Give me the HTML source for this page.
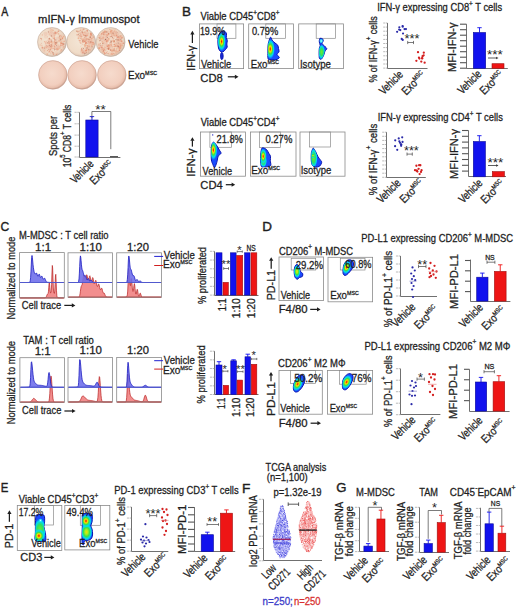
<!DOCTYPE html>
<html><head><meta charset="utf-8"><style>
html,body{margin:0;padding:0;background:#fff;width:520px;height:608px;overflow:hidden}
svg{display:block;font-family:"Liberation Sans",sans-serif}
</style></head><body><svg width="520" height="608" viewBox="0 0 520 608"><defs><radialGradient id="wt" cx="0.47" cy="0.47" r="0.53"><stop offset="0" stop-color="#f4e6d6"/><stop offset="0.8" stop-color="#f0dcc8"/><stop offset="0.92" stop-color="#e6cebb"/><stop offset="1" stop-color="#c8b2a2"/></radialGradient><radialGradient id="wb" cx="0.47" cy="0.45" r="0.54"><stop offset="0" stop-color="#f6dbcd"/><stop offset="0.75" stop-color="#f2cfbf"/><stop offset="0.91" stop-color="#e9c0ae"/><stop offset="1" stop-color="#c9a292"/></radialGradient><clipPath id="cp1"><path d="M222.00,31.10 C222.87,30.85 224.25,31.02 225.00,31.50 C225.75,31.98 226.28,33.00 226.50,34.00 C226.72,35.00 226.17,36.42 226.30,37.50 C226.43,38.58 227.22,39.42 227.30,40.50 C227.38,41.58 226.82,42.92 226.80,44.00 C226.78,45.08 227.42,46.08 227.20,47.00 C226.98,47.92 226.20,48.70 225.50,49.50 C224.80,50.30 223.83,51.47 223.00,51.80 C222.17,52.13 221.25,52.13 220.50,51.50 C219.75,50.87 218.93,49.58 218.50,48.00 C218.07,46.42 217.93,43.92 217.90,42.00 C217.87,40.08 217.98,38.00 218.30,36.50 C218.62,35.00 219.18,33.90 219.80,33.00 C220.42,32.10 221.13,31.35 222.00,31.10 Z"/></clipPath><radialGradient id="g1" gradientUnits="userSpaceOnUse" cx="0" cy="0" r="1"><stop offset="0" stop-color="#e01010" stop-opacity="1"/><stop offset="0.14" stop-color="#ff7000" stop-opacity="1"/><stop offset="0.28" stop-color="#f0e800" stop-opacity="1"/><stop offset="0.48" stop-color="#40e040" stop-opacity="1"/><stop offset="0.72" stop-color="#00dcf0" stop-opacity="1"/><stop offset="1" stop-color="#00dcf0" stop-opacity="0"/></radialGradient><clipPath id="cp2"><path d="M221.20,52.80 C221.53,52.33 222.28,52.67 222.60,53.20 C222.92,53.73 223.10,55.03 223.10,56.00 C223.10,56.97 222.92,58.47 222.60,59.00 C222.28,59.53 221.53,59.70 221.20,59.20 C220.87,58.70 220.60,57.07 220.60,56.00 C220.60,54.93 220.87,53.27 221.20,52.80 Z"/></clipPath><clipPath id="cp3"><path d="M270.60,37.20 C271.17,36.98 271.47,39.23 272.20,40.20 C272.93,41.17 274.07,42.15 275.00,43.00 C275.93,43.85 277.22,44.38 277.80,45.30 C278.38,46.22 278.30,47.42 278.50,48.50 C278.70,49.58 279.25,50.80 279.00,51.80 C278.75,52.80 276.95,53.55 277.00,54.50 C277.05,55.45 279.47,56.63 279.30,57.50 C279.13,58.37 277.55,59.33 276.00,59.70 C274.45,60.07 271.33,59.90 270.00,59.70 C268.67,59.50 268.35,59.78 268.00,58.50 C267.65,57.22 267.90,54.08 267.90,52.00 C267.90,49.92 267.85,47.75 268.00,46.00 C268.15,44.25 268.37,42.97 268.80,41.50 C269.23,40.03 270.03,37.42 270.60,37.20 Z"/></clipPath><radialGradient id="g2" gradientUnits="userSpaceOnUse" cx="0" cy="0" r="1"><stop offset="0" stop-color="#e01010" stop-opacity="1"/><stop offset="0.14" stop-color="#ff7000" stop-opacity="1"/><stop offset="0.28" stop-color="#f0e800" stop-opacity="1"/><stop offset="0.48" stop-color="#40e040" stop-opacity="1"/><stop offset="0.72" stop-color="#00dcf0" stop-opacity="1"/><stop offset="1" stop-color="#00dcf0" stop-opacity="0"/></radialGradient><clipPath id="cp4"><path d="M320.00,38.30 C320.50,38.18 321.97,38.35 322.50,38.80 C323.03,39.25 323.28,40.22 323.20,41.00 C323.12,41.78 321.78,42.67 322.00,43.50 C322.22,44.33 323.70,45.12 324.50,46.00 C325.30,46.88 326.72,47.97 326.80,48.80 C326.88,49.63 325.50,49.97 325.00,51.00 C324.50,52.03 324.38,53.67 323.80,55.00 C323.22,56.33 322.22,58.42 321.50,59.00 C320.78,59.58 319.90,59.33 319.50,58.50 C319.10,57.67 319.13,55.67 319.10,54.00 C319.07,52.33 319.12,49.92 319.30,48.50 C319.48,47.08 320.20,46.58 320.20,45.50 C320.20,44.42 319.42,43.00 319.30,42.00 C319.18,41.00 319.38,40.12 319.50,39.50 C319.62,38.88 319.50,38.42 320.00,38.30 Z"/></clipPath><radialGradient id="g3" gradientUnits="userSpaceOnUse" cx="0" cy="0" r="1"><stop offset="0" stop-color="#d0ffff" stop-opacity="1"/><stop offset="0.45" stop-color="#30e8f4" stop-opacity="1"/><stop offset="1" stop-color="#30e8f4" stop-opacity="0"/></radialGradient><radialGradient id="g4" gradientUnits="userSpaceOnUse" cx="0" cy="0" r="1"><stop offset="0" stop-color="#70ea30" stop-opacity="1"/><stop offset="0.45" stop-color="#30e060" stop-opacity="1"/><stop offset="0.75" stop-color="#00dcf0" stop-opacity="1"/><stop offset="1" stop-color="#00dcf0" stop-opacity="0"/></radialGradient><clipPath id="cp5"><path d="M213.30,142.20 C214.08,142.00 215.18,143.48 216.20,144.80 C217.22,146.12 218.60,148.68 219.40,150.10 C220.20,151.52 221.18,152.33 221.00,153.30 C220.82,154.27 218.92,154.77 218.30,155.90 C217.68,157.03 217.57,158.97 217.30,160.10 C217.03,161.23 217.15,161.47 216.70,162.70 C216.25,163.93 215.25,167.23 214.60,167.50 C213.95,167.77 213.33,165.55 212.80,164.30 C212.27,163.05 211.67,162.05 211.40,160.00 C211.13,157.95 211.18,154.33 211.20,152.00 C211.22,149.67 211.15,147.63 211.50,146.00 C211.85,144.37 212.52,142.40 213.30,142.20 Z"/></clipPath><radialGradient id="g5" gradientUnits="userSpaceOnUse" cx="0" cy="0" r="1"><stop offset="0" stop-color="#e01010" stop-opacity="1"/><stop offset="0.14" stop-color="#ff7000" stop-opacity="1"/><stop offset="0.28" stop-color="#f0e800" stop-opacity="1"/><stop offset="0.48" stop-color="#40e040" stop-opacity="1"/><stop offset="0.72" stop-color="#00dcf0" stop-opacity="1"/><stop offset="1" stop-color="#00dcf0" stop-opacity="0"/></radialGradient><clipPath id="cp6"><path d="M262.40,147.90 C263.27,147.72 265.33,148.50 266.40,149.40 C267.47,150.30 268.12,152.15 268.80,153.30 C269.48,154.45 270.25,155.07 270.50,156.30 C270.75,157.53 270.25,159.22 270.30,160.70 C270.35,162.18 271.13,164.20 270.80,165.20 C270.47,166.20 269.43,166.43 268.30,166.70 C267.17,166.97 265.15,166.85 264.00,166.80 C262.85,166.75 261.95,167.20 261.40,166.40 C260.85,165.60 260.82,163.90 260.70,162.00 C260.58,160.10 260.62,156.92 260.70,155.00 C260.78,153.08 260.92,151.68 261.20,150.50 C261.48,149.32 261.53,148.08 262.40,147.90 Z"/></clipPath><radialGradient id="g6" gradientUnits="userSpaceOnUse" cx="0" cy="0" r="1"><stop offset="0" stop-color="#70ea30" stop-opacity="1"/><stop offset="0.45" stop-color="#30e060" stop-opacity="1"/><stop offset="0.75" stop-color="#00dcf0" stop-opacity="1"/><stop offset="1" stop-color="#00dcf0" stop-opacity="0"/></radialGradient><radialGradient id="g7" gradientUnits="userSpaceOnUse" cx="0" cy="0" r="1"><stop offset="0" stop-color="#e01010" stop-opacity="1"/><stop offset="0.14" stop-color="#ff7000" stop-opacity="1"/><stop offset="0.28" stop-color="#f0e800" stop-opacity="1"/><stop offset="0.48" stop-color="#40e040" stop-opacity="1"/><stop offset="0.72" stop-color="#00dcf0" stop-opacity="1"/><stop offset="1" stop-color="#00dcf0" stop-opacity="0"/></radialGradient><clipPath id="cp7"><path d="M313.40,148.20 C313.98,148.48 314.93,150.28 315.70,151.70 C316.47,153.12 317.17,155.25 318.00,156.70 C318.83,158.15 320.08,159.47 320.70,160.40 C321.32,161.33 321.85,161.37 321.70,162.30 C321.55,163.23 320.80,165.20 319.80,166.00 C318.80,166.80 316.92,167.18 315.70,167.10 C314.48,167.02 313.23,166.52 312.50,165.50 C311.77,164.48 311.50,163.00 311.30,161.00 C311.10,159.00 311.15,155.33 311.30,153.50 C311.45,151.67 311.85,150.88 312.20,150.00 C312.55,149.12 312.82,147.92 313.40,148.20 Z"/></clipPath><radialGradient id="g8" gradientUnits="userSpaceOnUse" cx="0" cy="0" r="1"><stop offset="0" stop-color="#70ea30" stop-opacity="1"/><stop offset="0.45" stop-color="#30e060" stop-opacity="1"/><stop offset="0.75" stop-color="#00dcf0" stop-opacity="1"/><stop offset="1" stop-color="#00dcf0" stop-opacity="0"/></radialGradient><radialGradient id="g9" gradientUnits="userSpaceOnUse" cx="0" cy="0" r="1"><stop offset="0" stop-color="#f0e000" stop-opacity="1"/><stop offset="0.25" stop-color="#a8f020" stop-opacity="1"/><stop offset="0.5" stop-color="#40e040" stop-opacity="1"/><stop offset="0.75" stop-color="#00dcf0" stop-opacity="1"/><stop offset="1" stop-color="#00dcf0" stop-opacity="0"/></radialGradient><clipPath id="cp8"><path d="M296.30,264.60 C296.97,264.18 297.97,264.85 298.50,265.50 C299.03,266.15 299.17,267.50 299.50,268.50 C299.83,269.50 299.97,270.67 300.50,271.50 C301.03,272.33 302.40,272.67 302.70,273.50 C303.00,274.33 302.83,275.83 302.30,276.50 C301.77,277.17 300.30,277.05 299.50,277.50 C298.70,277.95 298.22,279.20 297.50,279.20 C296.78,279.20 295.75,278.53 295.20,277.50 C294.65,276.47 294.32,274.58 294.20,273.00 C294.08,271.42 294.15,269.40 294.50,268.00 C294.85,266.60 295.63,265.02 296.30,264.60 Z"/></clipPath><radialGradient id="g10" gradientUnits="userSpaceOnUse" cx="0" cy="0" r="1"><stop offset="0" stop-color="#f0e000" stop-opacity="1"/><stop offset="0.25" stop-color="#a8f020" stop-opacity="1"/><stop offset="0.5" stop-color="#40e040" stop-opacity="1"/><stop offset="0.75" stop-color="#00dcf0" stop-opacity="1"/><stop offset="1" stop-color="#00dcf0" stop-opacity="0"/></radialGradient><clipPath id="cp9"><path d="M349.50,259.80 C350.50,259.80 351.83,260.30 352.50,261.00 C353.17,261.70 353.50,262.83 353.50,264.00 C353.50,265.17 353.08,266.75 352.50,268.00 C351.92,269.25 350.92,270.42 350.00,271.50 C349.08,272.58 347.87,273.83 347.00,274.50 C346.13,275.17 345.45,275.67 344.80,275.50 C344.15,275.33 343.38,274.58 343.10,273.50 C342.82,272.42 342.95,270.50 343.10,269.00 C343.25,267.50 343.43,265.83 344.00,264.50 C344.57,263.17 345.58,261.78 346.50,261.00 C347.42,260.22 348.50,259.80 349.50,259.80 Z"/></clipPath><radialGradient id="g11" gradientUnits="userSpaceOnUse" cx="0" cy="0" r="1"><stop offset="0" stop-color="#e01010" stop-opacity="1"/><stop offset="0.14" stop-color="#ff7000" stop-opacity="1"/><stop offset="0.28" stop-color="#f0e800" stop-opacity="1"/><stop offset="0.48" stop-color="#40e040" stop-opacity="1"/><stop offset="0.72" stop-color="#00dcf0" stop-opacity="1"/><stop offset="1" stop-color="#00dcf0" stop-opacity="0"/></radialGradient><clipPath id="cp10"><path d="M300.50,375.00 C301.42,374.97 302.75,375.33 303.50,376.00 C304.25,376.67 304.92,377.75 305.00,379.00 C305.08,380.25 304.58,382.00 304.00,383.50 C303.42,385.00 302.50,386.67 301.50,388.00 C300.50,389.33 299.08,390.87 298.00,391.50 C296.92,392.13 295.77,392.22 295.00,391.80 C294.23,391.38 293.60,390.30 293.40,389.00 C293.20,387.70 293.40,385.58 293.80,384.00 C294.20,382.42 295.10,380.80 295.80,379.50 C296.50,378.20 297.22,376.95 298.00,376.20 C298.78,375.45 299.58,375.03 300.50,375.00 Z"/></clipPath><radialGradient id="g12" gradientUnits="userSpaceOnUse" cx="0" cy="0" r="1"><stop offset="0" stop-color="#e01010" stop-opacity="1"/><stop offset="0.14" stop-color="#ff7000" stop-opacity="1"/><stop offset="0.28" stop-color="#f0e800" stop-opacity="1"/><stop offset="0.48" stop-color="#40e040" stop-opacity="1"/><stop offset="0.72" stop-color="#00dcf0" stop-opacity="1"/><stop offset="1" stop-color="#00dcf0" stop-opacity="0"/></radialGradient><clipPath id="cp11"><path d="M350.00,373.70 C350.83,373.83 352.00,374.28 352.50,375.00 C353.00,375.72 353.12,376.83 353.00,378.00 C352.88,379.17 352.38,380.67 351.80,382.00 C351.22,383.33 350.47,384.73 349.50,386.00 C348.53,387.27 347.08,389.10 346.00,389.60 C344.92,390.10 343.60,389.77 343.00,389.00 C342.40,388.23 342.40,386.50 342.40,385.00 C342.40,383.50 342.57,381.42 343.00,380.00 C343.43,378.58 344.25,377.47 345.00,376.50 C345.75,375.53 346.67,374.67 347.50,374.20 C348.33,373.73 349.17,373.57 350.00,373.70 Z"/></clipPath><radialGradient id="g13" gradientUnits="userSpaceOnUse" cx="0" cy="0" r="1"><stop offset="0" stop-color="#e01010" stop-opacity="1"/><stop offset="0.14" stop-color="#ff7000" stop-opacity="1"/><stop offset="0.28" stop-color="#f0e800" stop-opacity="1"/><stop offset="0.48" stop-color="#40e040" stop-opacity="1"/><stop offset="0.72" stop-color="#00dcf0" stop-opacity="1"/><stop offset="1" stop-color="#00dcf0" stop-opacity="0"/></radialGradient><clipPath id="cp12"><path d="M36.60,515.00 C37.92,514.67 42.37,513.87 43.70,515.00 C45.03,516.13 44.57,519.87 44.60,521.80 C44.63,523.73 43.78,524.82 43.90,526.60 C44.02,528.38 44.98,530.63 45.30,532.50 C45.62,534.37 45.85,536.42 45.80,537.80 C45.75,539.18 46.68,540.30 45.00,540.80 C43.32,541.30 37.30,542.27 35.70,540.80 C34.10,539.33 35.43,535.13 35.40,532.00 C35.37,528.87 35.43,524.50 35.50,522.00 C35.57,519.50 35.62,518.17 35.80,517.00 C35.98,515.83 35.28,515.33 36.60,515.00 Z"/></clipPath><radialGradient id="g14" gradientUnits="userSpaceOnUse" cx="0" cy="0" r="1"><stop offset="0" stop-color="#70ea30" stop-opacity="1"/><stop offset="0.45" stop-color="#30e060" stop-opacity="1"/><stop offset="0.75" stop-color="#00dcf0" stop-opacity="1"/><stop offset="1" stop-color="#00dcf0" stop-opacity="0"/></radialGradient><radialGradient id="g15" gradientUnits="userSpaceOnUse" cx="0" cy="0" r="1"><stop offset="0" stop-color="#e01010" stop-opacity="1"/><stop offset="0.14" stop-color="#ff7000" stop-opacity="1"/><stop offset="0.28" stop-color="#f0e800" stop-opacity="1"/><stop offset="0.48" stop-color="#40e040" stop-opacity="1"/><stop offset="0.72" stop-color="#00dcf0" stop-opacity="1"/><stop offset="1" stop-color="#00dcf0" stop-opacity="0"/></radialGradient><radialGradient id="g16" gradientUnits="userSpaceOnUse" cx="0" cy="0" r="1"><stop offset="0" stop-color="#d0ffff" stop-opacity="1"/><stop offset="0.45" stop-color="#30e8f4" stop-opacity="1"/><stop offset="1" stop-color="#30e8f4" stop-opacity="0"/></radialGradient><clipPath id="cp13"><path d="M83.00,513.80 C84.45,512.97 89.45,513.47 91.00,514.00 C92.55,514.53 92.13,515.67 92.30,517.00 C92.47,518.33 92.25,520.53 92.00,522.00 C91.75,523.47 90.80,524.63 90.80,525.80 C90.80,526.97 91.70,527.63 92.00,529.00 C92.30,530.37 92.68,532.42 92.60,534.00 C92.52,535.58 92.27,537.45 91.50,538.50 C90.73,539.55 89.17,539.88 88.00,540.30 C86.83,540.72 85.25,540.22 84.50,541.00 C83.75,541.78 83.88,544.67 83.50,545.00 C83.12,545.33 82.45,544.67 82.20,543.00 C81.95,541.33 81.98,537.67 82.00,535.00 C82.02,532.33 82.25,529.67 82.30,527.00 C82.35,524.33 82.18,521.20 82.30,519.00 C82.42,516.80 81.55,514.63 83.00,513.80 Z"/></clipPath><radialGradient id="g17" gradientUnits="userSpaceOnUse" cx="0" cy="0" r="1"><stop offset="0" stop-color="#f0e000" stop-opacity="1"/><stop offset="0.25" stop-color="#a8f020" stop-opacity="1"/><stop offset="0.5" stop-color="#40e040" stop-opacity="1"/><stop offset="0.75" stop-color="#00dcf0" stop-opacity="1"/><stop offset="1" stop-color="#00dcf0" stop-opacity="0"/></radialGradient><radialGradient id="g18" gradientUnits="userSpaceOnUse" cx="0" cy="0" r="1"><stop offset="0" stop-color="#e01010" stop-opacity="1"/><stop offset="0.14" stop-color="#ff7000" stop-opacity="1"/><stop offset="0.28" stop-color="#f0e800" stop-opacity="1"/><stop offset="0.48" stop-color="#40e040" stop-opacity="1"/><stop offset="0.72" stop-color="#00dcf0" stop-opacity="1"/><stop offset="1" stop-color="#00dcf0" stop-opacity="0"/></radialGradient></defs><rect width="520" height="608" fill="#fff"/><text transform="translate(1.30,15.60) scale(0.8421,1)" font-size="12.5" fill="#1e1e1e" stroke="#1e1e1e" stroke-width="0.38" >A</text>
<text transform="translate(38.07,23.00) scale(1.0584,1)" font-size="10.6" fill="#1e1e1e" stroke="#1e1e1e" stroke-width="0.28" >mIFN-γ Immunospot</text>
<circle cx="52.00" cy="42.00" r="14.50" fill="url(#wt)" stroke="#c4ae9e" stroke-width="0.7" stroke-opacity="0.8"/>
<circle cx="81.20" cy="42.00" r="14.50" fill="url(#wt)" stroke="#c4ae9e" stroke-width="0.7" stroke-opacity="0.8"/>
<circle cx="110.60" cy="42.00" r="14.50" fill="url(#wt)" stroke="#c4ae9e" stroke-width="0.7" stroke-opacity="0.8"/>
<circle cx="52.85" cy="74.90" r="14.30" fill="url(#wb)" stroke="#c89e8e" stroke-width="0.7" stroke-opacity="0.8"/>
<circle cx="82.05" cy="74.90" r="14.30" fill="url(#wb)" stroke="#c89e8e" stroke-width="0.7" stroke-opacity="0.8"/>
<circle cx="111.80" cy="74.90" r="14.30" fill="url(#wb)" stroke="#c89e8e" stroke-width="0.7" stroke-opacity="0.8"/>
<circle cx="50.00" cy="45.99" r="2.22" fill="#eeb29a" opacity="0.27"/>
<circle cx="59.29" cy="46.89" r="2.50" fill="#eeb29a" opacity="0.16"/>
<circle cx="49.22" cy="43.23" r="1.60" fill="#f0bca4" opacity="0.16"/>
<circle cx="49.52" cy="40.58" r="2.14" fill="#eeb29a" opacity="0.30"/>
<circle cx="62.20" cy="45.07" r="1.82" fill="#eeb29a" opacity="0.23"/>
<circle cx="58.93" cy="47.24" r="1.71" fill="#eeb29a" opacity="0.23"/>
<circle cx="54.59" cy="43.08" r="1.73" fill="#e8a48c" opacity="0.23"/>
<circle cx="53.34" cy="34.27" r="2.52" fill="#f0bca4" opacity="0.19"/>
<circle cx="54.65" cy="32.76" r="1.77" fill="#e8a48c" opacity="0.20"/>
<circle cx="49.59" cy="40.03" r="2.06" fill="#eeb29a" opacity="0.26"/>
<circle cx="56.65" cy="48.56" r="1.54" fill="#e8a48c" opacity="0.16"/>
<circle cx="48.35" cy="47.74" r="2.05" fill="#f0bca4" opacity="0.16"/>
<circle cx="56.97" cy="45.31" r="2.27" fill="#eeb29a" opacity="0.16"/>
<circle cx="49.22" cy="33.18" r="2.59" fill="#f0bca4" opacity="0.19"/>
<circle cx="44.92" cy="48.18" r="1.52" fill="#f0bca4" opacity="0.20"/>
<circle cx="45.80" cy="36.81" r="1.82" fill="#e8a48c" opacity="0.19"/>
<circle cx="43.69" cy="48.79" r="1.99" fill="#e8a48c" opacity="0.19"/>
<circle cx="56.92" cy="47.72" r="2.11" fill="#e8a48c" opacity="0.21"/>
<circle cx="45.17" cy="50.39" r="2.55" fill="#eeb29a" opacity="0.16"/>
<circle cx="57.42" cy="49.59" r="1.51" fill="#e8a48c" opacity="0.18"/>
<circle cx="51.13" cy="46.30" r="2.09" fill="#e8a48c" opacity="0.23"/>
<circle cx="61.14" cy="39.22" r="2.07" fill="#e8a48c" opacity="0.25"/>
<circle cx="51.50" cy="34.24" r="2.46" fill="#e8a48c" opacity="0.27"/>
<circle cx="46.33" cy="46.55" r="1.61" fill="#e8a48c" opacity="0.21"/>
<circle cx="56.16" cy="52.63" r="1.98" fill="#eeb29a" opacity="0.20"/>
<circle cx="52.17" cy="42.06" r="1.67" fill="#eeb29a" opacity="0.29"/>
<circle cx="49.70" cy="40.00" r="1.73" fill="#f0bca4" opacity="0.17"/>
<circle cx="51.90" cy="48.78" r="1.90" fill="#eeb29a" opacity="0.17"/>
<circle cx="50.35" cy="46.04" r="2.32" fill="#e8a48c" opacity="0.19"/>
<circle cx="54.20" cy="37.94" r="1.53" fill="#e8a48c" opacity="0.20"/>
<circle cx="49.26" cy="50.80" r="1.60" fill="#f0bca4" opacity="0.23"/>
<circle cx="57.75" cy="38.26" r="1.75" fill="#e8a48c" opacity="0.27"/>
<circle cx="49.39" cy="46.76" r="2.39" fill="#eeb29a" opacity="0.27"/>
<circle cx="56.12" cy="33.01" r="1.75" fill="#e8a48c" opacity="0.22"/>
<circle cx="50.64" cy="30.64" r="2.37" fill="#f0bca4" opacity="0.19"/>
<circle cx="62.55" cy="37.59" r="2.55" fill="#f0bca4" opacity="0.16"/>
<circle cx="58.32" cy="46.72" r="1.87" fill="#f0bca4" opacity="0.24"/>
<circle cx="60.54" cy="35.82" r="2.03" fill="#e8a48c" opacity="0.20"/>
<circle cx="45.46" cy="33.77" r="1.93" fill="#e8a48c" opacity="0.26"/>
<circle cx="47.19" cy="42.67" r="2.37" fill="#f0bca4" opacity="0.16"/>
<circle cx="62.58" cy="38.28" r="0.62" fill="#e07a5c" opacity="0.63"/>
<circle cx="51.14" cy="36.63" r="0.42" fill="#e88e6c" opacity="0.51"/>
<circle cx="57.45" cy="50.12" r="0.41" fill="#eca080" opacity="0.64"/>
<circle cx="53.61" cy="48.43" r="0.68" fill="#f0b090" opacity="0.57"/>
<circle cx="47.52" cy="50.65" r="0.43" fill="#e88e6c" opacity="0.56"/>
<circle cx="60.60" cy="35.56" r="0.63" fill="#eaa07c" opacity="0.62"/>
<circle cx="60.70" cy="43.03" r="0.73" fill="#e88e6c" opacity="0.57"/>
<circle cx="54.92" cy="46.01" r="0.80" fill="#eaa07c" opacity="0.49"/>
<circle cx="47.63" cy="50.44" r="0.67" fill="#eaa07c" opacity="0.57"/>
<circle cx="54.34" cy="39.89" r="0.55" fill="#e88e6c" opacity="0.57"/>
<circle cx="59.49" cy="37.41" r="0.94" fill="#eaa07c" opacity="0.51"/>
<circle cx="54.17" cy="48.60" r="0.69" fill="#eaa07c" opacity="0.47"/>
<circle cx="62.30" cy="38.03" r="0.91" fill="#f0b090" opacity="0.61"/>
<circle cx="54.59" cy="50.44" r="0.47" fill="#e07a5c" opacity="0.45"/>
<circle cx="57.81" cy="44.85" r="0.52" fill="#eca080" opacity="0.41"/>
<circle cx="60.36" cy="50.09" r="0.48" fill="#f0b090" opacity="0.61"/>
<circle cx="58.06" cy="40.75" r="0.62" fill="#eca080" opacity="0.47"/>
<circle cx="64.02" cy="41.23" r="0.79" fill="#e88e6c" opacity="0.65"/>
<circle cx="44.95" cy="46.87" r="0.58" fill="#f0b090" opacity="0.55"/>
<circle cx="61.75" cy="43.20" r="0.79" fill="#e07a5c" opacity="0.43"/>
<circle cx="61.60" cy="50.24" r="0.93" fill="#e88e6c" opacity="0.34"/>
<circle cx="51.74" cy="44.61" r="0.55" fill="#e88e6c" opacity="0.35"/>
<circle cx="51.72" cy="47.09" r="0.71" fill="#eaa07c" opacity="0.55"/>
<circle cx="54.68" cy="43.69" r="0.63" fill="#e88e6c" opacity="0.33"/>
<circle cx="61.74" cy="38.03" r="0.45" fill="#f0b090" opacity="0.60"/>
<circle cx="63.20" cy="46.98" r="0.41" fill="#e07a5c" opacity="0.65"/>
<circle cx="62.71" cy="44.98" r="0.93" fill="#eca080" opacity="0.39"/>
<circle cx="57.34" cy="53.57" r="0.69" fill="#f0b090" opacity="0.37"/>
<circle cx="41.80" cy="45.62" r="0.95" fill="#eca080" opacity="0.31"/>
<circle cx="61.32" cy="43.08" r="0.68" fill="#e88e6c" opacity="0.39"/>
<circle cx="59.20" cy="40.64" r="0.94" fill="#e88e6c" opacity="0.42"/>
<circle cx="57.49" cy="32.35" r="0.62" fill="#e88e6c" opacity="0.42"/>
<circle cx="56.48" cy="43.59" r="0.74" fill="#eca080" opacity="0.61"/>
<circle cx="49.18" cy="43.31" r="0.88" fill="#e07a5c" opacity="0.53"/>
<circle cx="50.71" cy="48.37" r="0.42" fill="#f0b090" opacity="0.36"/>
<circle cx="51.91" cy="42.79" r="0.93" fill="#f0b090" opacity="0.64"/>
<circle cx="49.12" cy="49.34" r="0.58" fill="#eca080" opacity="0.33"/>
<circle cx="50.07" cy="52.52" r="0.68" fill="#e88e6c" opacity="0.30"/>
<circle cx="51.65" cy="45.94" r="0.72" fill="#e07a5c" opacity="0.44"/>
<circle cx="48.79" cy="51.97" r="0.72" fill="#eca080" opacity="0.49"/>
<circle cx="52.04" cy="31.30" r="0.61" fill="#eaa07c" opacity="0.41"/>
<circle cx="57.08" cy="41.51" r="0.75" fill="#eaa07c" opacity="0.32"/>
<circle cx="58.37" cy="31.28" r="0.80" fill="#e07a5c" opacity="0.58"/>
<circle cx="58.12" cy="49.33" r="0.71" fill="#eaa07c" opacity="0.58"/>
<circle cx="62.88" cy="43.10" r="0.45" fill="#e88e6c" opacity="0.31"/>
<circle cx="49.16" cy="42.89" r="0.74" fill="#eca080" opacity="0.54"/>
<circle cx="51.24" cy="42.05" r="0.81" fill="#eca080" opacity="0.48"/>
<circle cx="41.54" cy="39.65" r="0.54" fill="#e07a5c" opacity="0.33"/>
<circle cx="50.90" cy="53.22" r="0.53" fill="#e88e6c" opacity="0.53"/>
<circle cx="40.24" cy="44.99" r="0.82" fill="#f0b090" opacity="0.52"/>
<circle cx="49.71" cy="39.13" r="0.58" fill="#e88e6c" opacity="0.53"/>
<circle cx="48.35" cy="32.26" r="0.43" fill="#e07a5c" opacity="0.39"/>
<circle cx="49.59" cy="51.18" r="0.66" fill="#e07a5c" opacity="0.57"/>
<circle cx="61.77" cy="41.59" r="0.94" fill="#f0b090" opacity="0.63"/>
<circle cx="60.89" cy="42.98" r="0.93" fill="#eaa07c" opacity="0.46"/>
<circle cx="51.29" cy="48.01" r="0.44" fill="#e88e6c" opacity="0.33"/>
<circle cx="51.89" cy="35.25" r="0.47" fill="#f0b090" opacity="0.59"/>
<circle cx="53.46" cy="54.42" r="0.62" fill="#e07a5c" opacity="0.36"/>
<circle cx="62.36" cy="38.63" r="0.57" fill="#e07a5c" opacity="0.35"/>
<circle cx="47.87" cy="48.17" r="0.40" fill="#f0b090" opacity="0.56"/>
<circle cx="54.43" cy="38.12" r="0.79" fill="#e88e6c" opacity="0.62"/>
<circle cx="50.01" cy="49.80" r="0.61" fill="#e07a5c" opacity="0.60"/>
<circle cx="63.26" cy="47.86" r="0.87" fill="#f0b090" opacity="0.40"/>
<circle cx="62.18" cy="45.42" r="0.54" fill="#e88e6c" opacity="0.39"/>
<circle cx="46.26" cy="41.60" r="0.83" fill="#f0b090" opacity="0.45"/>
<circle cx="63.33" cy="44.09" r="0.90" fill="#e07a5c" opacity="0.63"/>
<circle cx="41.33" cy="38.59" r="0.65" fill="#e07a5c" opacity="0.56"/>
<circle cx="47.65" cy="36.43" r="0.47" fill="#eaa07c" opacity="0.47"/>
<circle cx="48.00" cy="47.99" r="0.62" fill="#f0b090" opacity="0.38"/>
<circle cx="41.26" cy="43.14" r="0.44" fill="#e88e6c" opacity="0.48"/>
<circle cx="55.71" cy="32.94" r="0.90" fill="#e07a5c" opacity="0.65"/>
<circle cx="47.31" cy="43.53" r="0.53" fill="#e88e6c" opacity="0.36"/>
<circle cx="54.16" cy="36.47" r="0.81" fill="#eca080" opacity="0.44"/>
<circle cx="50.27" cy="44.80" r="0.72" fill="#f0b090" opacity="0.43"/>
<circle cx="54.33" cy="38.73" r="0.61" fill="#e88e6c" opacity="0.53"/>
<circle cx="45.29" cy="45.06" r="0.47" fill="#eca080" opacity="0.45"/>
<circle cx="53.02" cy="30.21" r="0.67" fill="#eaa07c" opacity="0.33"/>
<circle cx="63.51" cy="36.60" r="0.87" fill="#eaa07c" opacity="0.64"/>
<circle cx="52.04" cy="46.36" r="0.48" fill="#e88e6c" opacity="0.64"/>
<circle cx="61.29" cy="49.58" r="0.45" fill="#e07a5c" opacity="0.57"/>
<circle cx="56.68" cy="42.04" r="0.91" fill="#eaa07c" opacity="0.53"/>
<circle cx="50.43" cy="46.45" r="0.69" fill="#f0b090" opacity="0.45"/>
<circle cx="52.36" cy="37.85" r="0.69" fill="#f0b090" opacity="0.50"/>
<circle cx="47.24" cy="46.04" r="0.40" fill="#eaa07c" opacity="0.49"/>
<circle cx="58.97" cy="41.84" r="0.75" fill="#f0b090" opacity="0.61"/>
<circle cx="45.68" cy="42.99" r="0.79" fill="#e07a5c" opacity="0.41"/>
<circle cx="61.23" cy="43.27" r="0.44" fill="#e07a5c" opacity="0.38"/>
<circle cx="51.14" cy="42.66" r="0.81" fill="#f0b090" opacity="0.48"/>
<circle cx="55.61" cy="54.49" r="0.82" fill="#f0b090" opacity="0.37"/>
<circle cx="60.07" cy="48.59" r="0.50" fill="#eaa07c" opacity="0.38"/>
<circle cx="57.02" cy="48.59" r="0.41" fill="#e88e6c" opacity="0.51"/>
<circle cx="42.41" cy="47.64" r="0.89" fill="#e07a5c" opacity="0.61"/>
<circle cx="50.57" cy="28.89" r="0.58" fill="#e88e6c" opacity="0.36"/>
<circle cx="62.49" cy="37.53" r="0.57" fill="#eca080" opacity="0.55"/>
<circle cx="58.96" cy="30.90" r="0.49" fill="#e07a5c" opacity="0.30"/>
<circle cx="50.54" cy="49.69" r="0.71" fill="#eca080" opacity="0.57"/>
<circle cx="53.30" cy="38.31" r="0.51" fill="#e07a5c" opacity="0.49"/>
<circle cx="41.64" cy="43.67" r="0.42" fill="#e07a5c" opacity="0.31"/>
<circle cx="63.70" cy="46.85" r="0.51" fill="#f0b090" opacity="0.32"/>
<circle cx="54.64" cy="41.21" r="0.91" fill="#f0b090" opacity="0.40"/>
<circle cx="50.19" cy="31.98" r="0.41" fill="#eca080" opacity="0.38"/>
<circle cx="47.00" cy="46.33" r="0.85" fill="#e07a5c" opacity="0.35"/>
<circle cx="50.77" cy="42.03" r="0.85" fill="#f0b090" opacity="0.57"/>
<circle cx="44.45" cy="50.91" r="0.68" fill="#eca080" opacity="0.44"/>
<circle cx="56.52" cy="49.12" r="0.66" fill="#eca080" opacity="0.49"/>
<circle cx="56.59" cy="49.30" r="0.94" fill="#eca080" opacity="0.39"/>
<circle cx="55.54" cy="44.07" r="0.94" fill="#e07a5c" opacity="0.64"/>
<circle cx="54.23" cy="46.26" r="0.74" fill="#e07a5c" opacity="0.54"/>
<circle cx="51.85" cy="29.85" r="0.83" fill="#eca080" opacity="0.40"/>
<circle cx="50.75" cy="48.71" r="0.81" fill="#f0b090" opacity="0.37"/>
<circle cx="52.11" cy="48.54" r="0.55" fill="#e88e6c" opacity="0.62"/>
<circle cx="53.27" cy="45.11" r="0.95" fill="#f0b090" opacity="0.48"/>
<circle cx="53.39" cy="53.79" r="0.95" fill="#e07a5c" opacity="0.34"/>
<circle cx="54.28" cy="40.64" r="0.53" fill="#f0b090" opacity="0.32"/>
<circle cx="42.31" cy="34.91" r="0.60" fill="#eca080" opacity="0.60"/>
<circle cx="45.61" cy="44.12" r="0.46" fill="#eca080" opacity="0.51"/>
<circle cx="47.51" cy="37.79" r="0.59" fill="#f0b090" opacity="0.32"/>
<circle cx="54.58" cy="42.00" r="0.85" fill="#e88e6c" opacity="0.59"/>
<circle cx="45.23" cy="46.36" r="0.57" fill="#eaa07c" opacity="0.37"/>
<circle cx="54.74" cy="32.62" r="0.62" fill="#eca080" opacity="0.58"/>
<circle cx="49.33" cy="37.55" r="0.45" fill="#eaa07c" opacity="0.36"/>
<circle cx="49.16" cy="34.04" r="0.77" fill="#f0b090" opacity="0.45"/>
<circle cx="62.81" cy="45.61" r="0.63" fill="#f0b090" opacity="0.31"/>
<circle cx="53.24" cy="30.24" r="0.61" fill="#e88e6c" opacity="0.44"/>
<circle cx="60.13" cy="38.90" r="0.63" fill="#e88e6c" opacity="0.59"/>
<circle cx="52.84" cy="43.37" r="0.48" fill="#eaa07c" opacity="0.58"/>
<circle cx="51.56" cy="36.55" r="0.56" fill="#f0b090" opacity="0.48"/>
<circle cx="55.89" cy="40.04" r="0.81" fill="#e07a5c" opacity="0.58"/>
<circle cx="54.44" cy="35.17" r="0.94" fill="#eca080" opacity="0.47"/>
<circle cx="64.00" cy="46.18" r="0.45" fill="#e07a5c" opacity="0.55"/>
<circle cx="58.46" cy="33.84" r="0.87" fill="#eaa07c" opacity="0.59"/>
<circle cx="54.52" cy="47.63" r="0.92" fill="#e07a5c" opacity="0.35"/>
<circle cx="48.77" cy="45.95" r="0.42" fill="#e88e6c" opacity="0.50"/>
<circle cx="52.12" cy="39.43" r="0.46" fill="#f0b090" opacity="0.51"/>
<circle cx="62.27" cy="43.52" r="0.66" fill="#e07a5c" opacity="0.46"/>
<circle cx="55.10" cy="34.24" r="0.47" fill="#eca080" opacity="0.45"/>
<circle cx="59.36" cy="46.78" r="0.76" fill="#eaa07c" opacity="0.31"/>
<circle cx="60.66" cy="51.25" r="0.83" fill="#f0b090" opacity="0.48"/>
<circle cx="60.83" cy="45.13" r="0.76" fill="#e07a5c" opacity="0.57"/>
<circle cx="55.36" cy="42.55" r="0.80" fill="#eaa07c" opacity="0.59"/>
<circle cx="56.53" cy="54.27" r="0.56" fill="#e07a5c" opacity="0.58"/>
<circle cx="55.05" cy="31.50" r="0.44" fill="#e88e6c" opacity="0.42"/>
<circle cx="52.20" cy="36.74" r="0.55" fill="#eaa07c" opacity="0.59"/>
<circle cx="57.80" cy="49.34" r="0.51" fill="#e07a5c" opacity="0.39"/>
<circle cx="44.55" cy="41.72" r="0.62" fill="#e88e6c" opacity="0.52"/>
<circle cx="50.67" cy="49.44" r="0.49" fill="#e07a5c" opacity="0.57"/>
<circle cx="59.21" cy="48.36" r="0.93" fill="#f0b090" opacity="0.46"/>
<circle cx="51.88" cy="51.66" r="0.81" fill="#e07a5c" opacity="0.43"/>
<circle cx="46.30" cy="47.64" r="0.60" fill="#e88e6c" opacity="0.57"/>
<circle cx="46.81" cy="43.97" r="0.56" fill="#eca080" opacity="0.48"/>
<circle cx="47.22" cy="54.06" r="0.91" fill="#eaa07c" opacity="0.61"/>
<circle cx="50.79" cy="30.66" r="0.48" fill="#e88e6c" opacity="0.52"/>
<circle cx="56.25" cy="46.64" r="0.41" fill="#eca080" opacity="0.30"/>
<circle cx="49.50" cy="45.22" r="0.51" fill="#a06858" opacity="0.64"/>
<circle cx="50.56" cy="46.34" r="0.51" fill="#b07060" opacity="0.56"/>
<circle cx="63.15" cy="42.99" r="0.61" fill="#b07060" opacity="0.53"/>
<circle cx="46.76" cy="45.71" r="0.40" fill="#c07a60" opacity="0.79"/>
<circle cx="59.53" cy="35.98" r="0.57" fill="#c07a60" opacity="0.83"/>
<circle cx="51.36" cy="35.80" r="0.67" fill="#a06858" opacity="0.52"/>
<circle cx="57.32" cy="42.85" r="0.45" fill="#a06858" opacity="0.50"/>
<circle cx="40.49" cy="38.19" r="0.46" fill="#c07a60" opacity="0.72"/>
<circle cx="48.85" cy="41.83" r="0.59" fill="#c07a60" opacity="0.77"/>
<circle cx="51.79" cy="41.03" r="0.65" fill="#c07a60" opacity="0.82"/>
<circle cx="60.85" cy="46.90" r="0.45" fill="#a06858" opacity="0.59"/>
<circle cx="49.29" cy="38.55" r="0.67" fill="#c07a60" opacity="0.83"/>
<circle cx="51.76" cy="44.86" r="0.59" fill="#c07a60" opacity="0.65"/>
<circle cx="54.16" cy="33.22" r="0.48" fill="#c07a60" opacity="0.82"/>
<circle cx="54.88" cy="39.75" r="0.55" fill="#a06858" opacity="0.59"/>
<circle cx="52.94" cy="52.74" r="0.68" fill="#c07a60" opacity="0.82"/>
<circle cx="54.78" cy="49.28" r="0.58" fill="#b07060" opacity="0.82"/>
<circle cx="60.49" cy="40.87" r="0.65" fill="#c07a60" opacity="0.50"/>
<circle cx="64.05" cy="44.03" r="0.47" fill="#b07060" opacity="0.78"/>
<circle cx="44.57" cy="48.02" r="0.57" fill="#a06858" opacity="0.55"/>
<circle cx="56.02" cy="42.69" r="0.68" fill="#b07060" opacity="0.84"/>
<circle cx="51.33" cy="39.91" r="0.44" fill="#c07a60" opacity="0.72"/>
<circle cx="48.49" cy="31.86" r="0.58" fill="#b07060" opacity="0.57"/>
<circle cx="60.76" cy="39.43" r="0.60" fill="#c07a60" opacity="0.83"/>
<circle cx="56.43" cy="45.53" r="0.43" fill="#a06858" opacity="0.83"/>
<circle cx="61.20" cy="36.25" r="0.43" fill="#c07a60" opacity="0.72"/>
<circle cx="47.49" cy="42.65" r="0.64" fill="#c07a60" opacity="0.57"/>
<circle cx="48.58" cy="49.38" r="0.41" fill="#b07060" opacity="0.83"/>
<circle cx="90.76" cy="45.00" r="2.50" fill="#e8a48c" opacity="0.23"/>
<circle cx="86.58" cy="34.73" r="1.53" fill="#f0bca4" opacity="0.15"/>
<circle cx="85.29" cy="34.30" r="1.82" fill="#f0bca4" opacity="0.15"/>
<circle cx="84.18" cy="51.59" r="2.58" fill="#eeb29a" opacity="0.20"/>
<circle cx="89.11" cy="47.42" r="2.41" fill="#f0bca4" opacity="0.24"/>
<circle cx="89.16" cy="39.81" r="2.14" fill="#eeb29a" opacity="0.19"/>
<circle cx="83.31" cy="51.38" r="2.05" fill="#eeb29a" opacity="0.29"/>
<circle cx="82.05" cy="33.99" r="2.59" fill="#e8a48c" opacity="0.27"/>
<circle cx="83.81" cy="39.85" r="2.48" fill="#eeb29a" opacity="0.21"/>
<circle cx="90.28" cy="40.99" r="2.54" fill="#eeb29a" opacity="0.23"/>
<circle cx="81.48" cy="32.02" r="2.21" fill="#f0bca4" opacity="0.24"/>
<circle cx="79.02" cy="36.59" r="1.75" fill="#f0bca4" opacity="0.22"/>
<circle cx="85.41" cy="38.29" r="1.71" fill="#f0bca4" opacity="0.26"/>
<circle cx="85.38" cy="33.99" r="2.30" fill="#eeb29a" opacity="0.26"/>
<circle cx="85.86" cy="41.85" r="2.22" fill="#eeb29a" opacity="0.21"/>
<circle cx="91.40" cy="40.96" r="2.31" fill="#f0bca4" opacity="0.19"/>
<circle cx="89.69" cy="48.96" r="1.81" fill="#f0bca4" opacity="0.22"/>
<circle cx="91.80" cy="42.84" r="1.98" fill="#eeb29a" opacity="0.23"/>
<circle cx="86.82" cy="48.95" r="1.95" fill="#e8a48c" opacity="0.19"/>
<circle cx="87.00" cy="34.31" r="2.15" fill="#e8a48c" opacity="0.21"/>
<circle cx="82.51" cy="51.68" r="2.47" fill="#e8a48c" opacity="0.26"/>
<circle cx="86.89" cy="34.42" r="2.21" fill="#f0bca4" opacity="0.21"/>
<circle cx="85.67" cy="38.52" r="1.94" fill="#e8a48c" opacity="0.24"/>
<circle cx="85.65" cy="39.91" r="2.22" fill="#eeb29a" opacity="0.21"/>
<circle cx="89.43" cy="44.01" r="1.68" fill="#eeb29a" opacity="0.23"/>
<circle cx="88.22" cy="47.17" r="2.10" fill="#e8a48c" opacity="0.22"/>
<circle cx="91.39" cy="43.03" r="1.91" fill="#f0bca4" opacity="0.21"/>
<circle cx="86.19" cy="40.31" r="2.25" fill="#f0bca4" opacity="0.23"/>
<circle cx="90.15" cy="37.97" r="2.18" fill="#e8a48c" opacity="0.16"/>
<circle cx="88.61" cy="42.62" r="1.96" fill="#e8a48c" opacity="0.25"/>
<circle cx="92.06" cy="38.74" r="2.59" fill="#f0bca4" opacity="0.22"/>
<circle cx="86.87" cy="51.53" r="1.58" fill="#e8a48c" opacity="0.18"/>
<circle cx="82.94" cy="37.96" r="2.23" fill="#f0bca4" opacity="0.22"/>
<circle cx="89.71" cy="50.53" r="0.83" fill="#f0b090" opacity="0.38"/>
<circle cx="78.09" cy="31.51" r="0.77" fill="#e07a5c" opacity="0.47"/>
<circle cx="85.23" cy="30.91" r="0.53" fill="#f0b090" opacity="0.41"/>
<circle cx="83.12" cy="39.50" r="0.90" fill="#eaa07c" opacity="0.57"/>
<circle cx="88.85" cy="51.29" r="0.41" fill="#eaa07c" opacity="0.30"/>
<circle cx="91.40" cy="38.81" r="0.73" fill="#f0b090" opacity="0.50"/>
<circle cx="84.66" cy="37.49" r="0.59" fill="#e07a5c" opacity="0.35"/>
<circle cx="90.88" cy="35.34" r="0.74" fill="#e88e6c" opacity="0.54"/>
<circle cx="85.13" cy="41.43" r="0.83" fill="#eaa07c" opacity="0.59"/>
<circle cx="84.77" cy="52.39" r="0.44" fill="#eaa07c" opacity="0.59"/>
<circle cx="79.06" cy="38.03" r="0.55" fill="#eca080" opacity="0.38"/>
<circle cx="87.14" cy="49.12" r="0.67" fill="#eca080" opacity="0.62"/>
<circle cx="79.19" cy="35.76" r="0.70" fill="#e88e6c" opacity="0.60"/>
<circle cx="93.29" cy="42.50" r="0.78" fill="#e07a5c" opacity="0.47"/>
<circle cx="78.68" cy="36.99" r="0.75" fill="#f0b090" opacity="0.31"/>
<circle cx="88.10" cy="38.83" r="0.68" fill="#eca080" opacity="0.47"/>
<circle cx="83.14" cy="40.54" r="0.74" fill="#e07a5c" opacity="0.42"/>
<circle cx="86.36" cy="35.90" r="0.83" fill="#e07a5c" opacity="0.49"/>
<circle cx="87.20" cy="38.32" r="0.63" fill="#f0b090" opacity="0.49"/>
<circle cx="84.51" cy="35.67" r="0.62" fill="#e07a5c" opacity="0.48"/>
<circle cx="91.75" cy="40.33" r="0.58" fill="#eca080" opacity="0.41"/>
<circle cx="92.07" cy="44.79" r="0.70" fill="#e07a5c" opacity="0.32"/>
<circle cx="80.88" cy="42.99" r="0.85" fill="#e88e6c" opacity="0.47"/>
<circle cx="81.52" cy="38.78" r="0.90" fill="#eaa07c" opacity="0.51"/>
<circle cx="77.83" cy="32.38" r="0.52" fill="#eca080" opacity="0.53"/>
<circle cx="85.72" cy="45.34" r="0.63" fill="#eca080" opacity="0.34"/>
<circle cx="82.59" cy="41.35" r="0.83" fill="#e88e6c" opacity="0.50"/>
<circle cx="84.02" cy="40.75" r="0.69" fill="#eaa07c" opacity="0.59"/>
<circle cx="82.47" cy="33.53" r="0.65" fill="#e07a5c" opacity="0.30"/>
<circle cx="93.28" cy="37.01" r="0.82" fill="#e07a5c" opacity="0.49"/>
<circle cx="89.07" cy="46.52" r="0.74" fill="#e88e6c" opacity="0.45"/>
<circle cx="91.98" cy="42.63" r="0.52" fill="#eca080" opacity="0.34"/>
<circle cx="80.74" cy="29.33" r="0.83" fill="#f0b090" opacity="0.55"/>
<circle cx="88.14" cy="33.11" r="0.56" fill="#eca080" opacity="0.50"/>
<circle cx="90.92" cy="33.96" r="0.79" fill="#eca080" opacity="0.30"/>
<circle cx="91.80" cy="42.98" r="0.44" fill="#eaa07c" opacity="0.41"/>
<circle cx="80.51" cy="36.67" r="0.73" fill="#e07a5c" opacity="0.41"/>
<circle cx="91.88" cy="38.44" r="0.77" fill="#e07a5c" opacity="0.35"/>
<circle cx="83.53" cy="34.39" r="0.75" fill="#e88e6c" opacity="0.45"/>
<circle cx="92.20" cy="38.03" r="0.58" fill="#eaa07c" opacity="0.40"/>
<circle cx="84.48" cy="32.32" r="0.80" fill="#eaa07c" opacity="0.31"/>
<circle cx="88.21" cy="51.79" r="0.64" fill="#eaa07c" opacity="0.61"/>
<circle cx="83.68" cy="35.43" r="0.58" fill="#eca080" opacity="0.39"/>
<circle cx="88.17" cy="52.58" r="0.56" fill="#eca080" opacity="0.35"/>
<circle cx="91.37" cy="33.66" r="0.55" fill="#e88e6c" opacity="0.60"/>
<circle cx="85.03" cy="31.77" r="0.59" fill="#e07a5c" opacity="0.33"/>
<circle cx="84.70" cy="52.88" r="0.57" fill="#e88e6c" opacity="0.32"/>
<circle cx="90.23" cy="37.47" r="0.84" fill="#eca080" opacity="0.46"/>
<circle cx="91.30" cy="48.21" r="0.53" fill="#eca080" opacity="0.50"/>
<circle cx="91.10" cy="34.51" r="0.58" fill="#eaa07c" opacity="0.48"/>
<circle cx="83.01" cy="47.81" r="0.50" fill="#eca080" opacity="0.55"/>
<circle cx="82.85" cy="44.24" r="0.61" fill="#e07a5c" opacity="0.34"/>
<circle cx="86.87" cy="50.48" r="0.55" fill="#f0b090" opacity="0.51"/>
<circle cx="86.16" cy="45.33" r="0.67" fill="#eaa07c" opacity="0.50"/>
<circle cx="82.49" cy="30.13" r="0.54" fill="#e88e6c" opacity="0.31"/>
<circle cx="82.90" cy="47.35" r="0.42" fill="#eca080" opacity="0.31"/>
<circle cx="90.88" cy="34.47" r="0.91" fill="#e07a5c" opacity="0.55"/>
<circle cx="87.49" cy="45.99" r="0.75" fill="#e88e6c" opacity="0.63"/>
<circle cx="77.20" cy="34.75" r="0.87" fill="#e07a5c" opacity="0.43"/>
<circle cx="87.22" cy="53.31" r="0.43" fill="#f0b090" opacity="0.49"/>
<circle cx="93.66" cy="44.20" r="0.83" fill="#f0b090" opacity="0.55"/>
<circle cx="85.92" cy="43.72" r="0.92" fill="#eca080" opacity="0.54"/>
<circle cx="81.41" cy="37.72" r="0.60" fill="#f0b090" opacity="0.44"/>
<circle cx="91.90" cy="35.61" r="0.79" fill="#e07a5c" opacity="0.37"/>
<circle cx="93.59" cy="44.85" r="0.44" fill="#e88e6c" opacity="0.52"/>
<circle cx="83.49" cy="29.28" r="0.86" fill="#e07a5c" opacity="0.52"/>
<circle cx="85.24" cy="33.82" r="0.48" fill="#f0b090" opacity="0.38"/>
<circle cx="91.65" cy="45.89" r="0.89" fill="#eaa07c" opacity="0.45"/>
<circle cx="86.24" cy="48.89" r="0.49" fill="#e88e6c" opacity="0.39"/>
<circle cx="85.27" cy="35.54" r="0.54" fill="#e88e6c" opacity="0.34"/>
<circle cx="86.60" cy="49.77" r="0.71" fill="#e88e6c" opacity="0.59"/>
<circle cx="89.60" cy="49.81" r="0.64" fill="#f0b090" opacity="0.39"/>
<circle cx="81.66" cy="48.43" r="0.56" fill="#e07a5c" opacity="0.61"/>
<circle cx="91.72" cy="45.98" r="0.48" fill="#f0b090" opacity="0.52"/>
<circle cx="84.35" cy="29.57" r="0.50" fill="#f0b090" opacity="0.45"/>
<circle cx="86.45" cy="38.76" r="0.50" fill="#eaa07c" opacity="0.60"/>
<circle cx="85.81" cy="51.13" r="0.89" fill="#eca080" opacity="0.56"/>
<circle cx="81.59" cy="36.49" r="0.74" fill="#e88e6c" opacity="0.55"/>
<circle cx="85.00" cy="32.67" r="0.41" fill="#e88e6c" opacity="0.54"/>
<circle cx="89.42" cy="37.23" r="0.58" fill="#f0b090" opacity="0.59"/>
<circle cx="87.31" cy="35.03" r="0.63" fill="#eca080" opacity="0.57"/>
<circle cx="88.41" cy="50.00" r="0.50" fill="#e88e6c" opacity="0.59"/>
<circle cx="90.71" cy="42.28" r="0.93" fill="#e07a5c" opacity="0.32"/>
<circle cx="87.28" cy="30.95" r="0.72" fill="#e07a5c" opacity="0.61"/>
<circle cx="80.15" cy="33.24" r="0.69" fill="#eca080" opacity="0.49"/>
<circle cx="94.07" cy="43.68" r="0.74" fill="#e88e6c" opacity="0.36"/>
<circle cx="82.97" cy="41.49" r="0.54" fill="#e88e6c" opacity="0.59"/>
<circle cx="81.84" cy="50.77" r="0.88" fill="#f0b090" opacity="0.55"/>
<circle cx="85.65" cy="43.30" r="0.72" fill="#e07a5c" opacity="0.57"/>
<circle cx="84.75" cy="44.93" r="0.70" fill="#e88e6c" opacity="0.38"/>
<circle cx="82.75" cy="52.68" r="0.81" fill="#e07a5c" opacity="0.36"/>
<circle cx="87.08" cy="30.65" r="0.78" fill="#e07a5c" opacity="0.51"/>
<circle cx="79.19" cy="40.49" r="0.83" fill="#eca080" opacity="0.42"/>
<circle cx="81.66" cy="49.63" r="0.86" fill="#e07a5c" opacity="0.50"/>
<circle cx="88.64" cy="41.34" r="0.87" fill="#e07a5c" opacity="0.32"/>
<circle cx="87.24" cy="39.36" r="0.76" fill="#e07a5c" opacity="0.30"/>
<circle cx="85.63" cy="45.62" r="0.64" fill="#f0b090" opacity="0.48"/>
<circle cx="86.09" cy="42.64" r="0.83" fill="#e07a5c" opacity="0.63"/>
<circle cx="90.48" cy="33.75" r="0.88" fill="#eca080" opacity="0.52"/>
<circle cx="90.27" cy="36.86" r="0.84" fill="#eaa07c" opacity="0.31"/>
<circle cx="84.92" cy="44.72" r="0.64" fill="#eca080" opacity="0.63"/>
<circle cx="78.45" cy="38.34" r="0.93" fill="#eaa07c" opacity="0.62"/>
<circle cx="84.32" cy="39.77" r="0.69" fill="#eaa07c" opacity="0.35"/>
<circle cx="84.61" cy="45.36" r="0.90" fill="#f0b090" opacity="0.50"/>
<circle cx="80.77" cy="34.94" r="0.74" fill="#e07a5c" opacity="0.50"/>
<circle cx="78.99" cy="33.32" r="0.57" fill="#eaa07c" opacity="0.47"/>
<circle cx="82.17" cy="39.89" r="0.52" fill="#f0b090" opacity="0.48"/>
<circle cx="89.02" cy="42.58" r="0.58" fill="#e88e6c" opacity="0.41"/>
<circle cx="81.86" cy="45.08" r="0.49" fill="#eca080" opacity="0.32"/>
<circle cx="87.24" cy="35.67" r="0.68" fill="#eca080" opacity="0.59"/>
<circle cx="84.98" cy="46.58" r="0.87" fill="#eaa07c" opacity="0.59"/>
<circle cx="80.71" cy="30.51" r="0.55" fill="#e07a5c" opacity="0.52"/>
<circle cx="87.36" cy="47.60" r="0.48" fill="#eaa07c" opacity="0.60"/>
<circle cx="90.54" cy="49.83" r="0.56" fill="#e07a5c" opacity="0.42"/>
<circle cx="92.59" cy="42.48" r="0.61" fill="#e07a5c" opacity="0.41"/>
<circle cx="91.21" cy="33.85" r="0.43" fill="#eca080" opacity="0.50"/>
<circle cx="82.62" cy="32.42" r="0.68" fill="#e07a5c" opacity="0.48"/>
<circle cx="77.94" cy="34.43" r="0.42" fill="#f0b090" opacity="0.54"/>
<circle cx="79.91" cy="42.39" r="0.69" fill="#eca080" opacity="0.33"/>
<circle cx="90.64" cy="33.12" r="0.62" fill="#e07a5c" opacity="0.57"/>
<circle cx="89.35" cy="36.01" r="0.81" fill="#eaa07c" opacity="0.33"/>
<circle cx="87.75" cy="45.34" r="0.46" fill="#e88e6c" opacity="0.61"/>
<circle cx="76.79" cy="30.89" r="0.89" fill="#eaa07c" opacity="0.45"/>
<circle cx="85.14" cy="47.91" r="0.51" fill="#eaa07c" opacity="0.61"/>
<circle cx="79.34" cy="31.18" r="0.83" fill="#eca080" opacity="0.41"/>
<circle cx="80.90" cy="41.23" r="0.62" fill="#f0b090" opacity="0.33"/>
<circle cx="83.46" cy="42.22" r="0.67" fill="#e88e6c" opacity="0.49"/>
<circle cx="84.98" cy="45.61" r="0.46" fill="#eaa07c" opacity="0.34"/>
<circle cx="85.77" cy="50.38" r="0.74" fill="#e07a5c" opacity="0.58"/>
<circle cx="82.56" cy="42.56" r="0.58" fill="#eaa07c" opacity="0.55"/>
<circle cx="80.77" cy="46.14" r="0.43" fill="#eaa07c" opacity="0.37"/>
<circle cx="79.89" cy="40.70" r="0.89" fill="#e88e6c" opacity="0.50"/>
<circle cx="89.67" cy="39.80" r="0.53" fill="#eaa07c" opacity="0.38"/>
<circle cx="86.65" cy="50.52" r="0.57" fill="#e88e6c" opacity="0.61"/>
<circle cx="84.13" cy="35.34" r="0.54" fill="#eaa07c" opacity="0.61"/>
<circle cx="84.60" cy="41.56" r="0.77" fill="#e07a5c" opacity="0.50"/>
<circle cx="80.73" cy="40.08" r="0.45" fill="#e88e6c" opacity="0.36"/>
<circle cx="80.36" cy="42.79" r="0.62" fill="#f0b090" opacity="0.43"/>
<circle cx="89.52" cy="39.93" r="0.70" fill="#f0b090" opacity="0.44"/>
<circle cx="92.89" cy="43.87" r="0.79" fill="#e88e6c" opacity="0.33"/>
<circle cx="86.98" cy="47.99" r="0.65" fill="#a06858" opacity="0.56"/>
<circle cx="84.38" cy="53.77" r="0.55" fill="#a06858" opacity="0.80"/>
<circle cx="90.85" cy="41.87" r="0.53" fill="#b07060" opacity="0.69"/>
<circle cx="88.83" cy="49.68" r="0.60" fill="#a06858" opacity="0.69"/>
<circle cx="86.30" cy="52.34" r="0.50" fill="#c07a60" opacity="0.81"/>
<circle cx="92.07" cy="46.96" r="0.64" fill="#b07060" opacity="0.57"/>
<circle cx="80.48" cy="38.36" r="0.49" fill="#c07a60" opacity="0.64"/>
<circle cx="86.04" cy="39.97" r="0.51" fill="#c07a60" opacity="0.74"/>
<circle cx="82.78" cy="40.80" r="0.61" fill="#b07060" opacity="0.59"/>
<circle cx="85.44" cy="35.91" r="0.59" fill="#a06858" opacity="0.60"/>
<circle cx="83.18" cy="52.10" r="0.52" fill="#c07a60" opacity="0.56"/>
<circle cx="83.40" cy="48.52" r="0.51" fill="#a06858" opacity="0.69"/>
<circle cx="90.34" cy="37.39" r="0.57" fill="#a06858" opacity="0.54"/>
<circle cx="82.07" cy="31.92" r="0.67" fill="#c07a60" opacity="0.71"/>
<circle cx="87.11" cy="43.81" r="0.43" fill="#b07060" opacity="0.57"/>
<circle cx="90.50" cy="36.46" r="0.43" fill="#c07a60" opacity="0.76"/>
<circle cx="91.00" cy="41.88" r="0.47" fill="#c07a60" opacity="0.53"/>
<circle cx="88.88" cy="39.31" r="0.68" fill="#c07a60" opacity="0.68"/>
<circle cx="76.88" cy="31.40" r="0.59" fill="#c07a60" opacity="0.52"/>
<circle cx="78.59" cy="34.25" r="0.55" fill="#a06858" opacity="0.67"/>
<circle cx="85.74" cy="53.32" r="0.65" fill="#c07a60" opacity="0.59"/>
<circle cx="110.61" cy="44.80" r="1.89" fill="#f0bca4" opacity="0.16"/>
<circle cx="107.81" cy="38.78" r="2.25" fill="#f0bca4" opacity="0.25"/>
<circle cx="111.03" cy="47.64" r="2.07" fill="#f0bca4" opacity="0.17"/>
<circle cx="104.52" cy="34.56" r="1.65" fill="#e8a48c" opacity="0.17"/>
<circle cx="104.48" cy="39.43" r="2.40" fill="#e8a48c" opacity="0.21"/>
<circle cx="119.42" cy="38.58" r="1.67" fill="#f0bca4" opacity="0.28"/>
<circle cx="106.26" cy="44.91" r="2.26" fill="#eeb29a" opacity="0.20"/>
<circle cx="111.36" cy="44.72" r="1.81" fill="#eeb29a" opacity="0.17"/>
<circle cx="106.52" cy="52.52" r="1.68" fill="#f0bca4" opacity="0.22"/>
<circle cx="107.53" cy="45.58" r="1.58" fill="#eeb29a" opacity="0.22"/>
<circle cx="118.55" cy="40.99" r="2.32" fill="#f0bca4" opacity="0.30"/>
<circle cx="107.11" cy="40.52" r="2.04" fill="#f0bca4" opacity="0.22"/>
<circle cx="111.98" cy="35.62" r="1.90" fill="#eeb29a" opacity="0.25"/>
<circle cx="102.87" cy="34.00" r="2.22" fill="#f0bca4" opacity="0.25"/>
<circle cx="119.37" cy="46.69" r="1.53" fill="#f0bca4" opacity="0.28"/>
<circle cx="109.18" cy="46.75" r="2.20" fill="#e8a48c" opacity="0.18"/>
<circle cx="112.86" cy="31.77" r="2.32" fill="#f0bca4" opacity="0.21"/>
<circle cx="106.47" cy="36.52" r="1.75" fill="#eeb29a" opacity="0.23"/>
<circle cx="103.46" cy="49.68" r="1.76" fill="#eeb29a" opacity="0.17"/>
<circle cx="114.19" cy="31.56" r="2.60" fill="#f0bca4" opacity="0.29"/>
<circle cx="118.21" cy="39.26" r="2.05" fill="#eeb29a" opacity="0.30"/>
<circle cx="103.33" cy="36.53" r="1.66" fill="#eeb29a" opacity="0.17"/>
<circle cx="99.99" cy="45.96" r="1.60" fill="#eeb29a" opacity="0.28"/>
<circle cx="105.27" cy="42.69" r="1.91" fill="#eeb29a" opacity="0.28"/>
<circle cx="116.87" cy="33.95" r="1.97" fill="#f0bca4" opacity="0.16"/>
<circle cx="119.72" cy="45.30" r="2.48" fill="#eeb29a" opacity="0.22"/>
<circle cx="105.34" cy="32.97" r="2.49" fill="#eeb29a" opacity="0.21"/>
<circle cx="120.91" cy="42.27" r="2.24" fill="#e8a48c" opacity="0.18"/>
<circle cx="116.23" cy="45.33" r="2.01" fill="#e8a48c" opacity="0.29"/>
<circle cx="118.13" cy="33.50" r="2.56" fill="#e8a48c" opacity="0.16"/>
<circle cx="114.18" cy="32.90" r="1.86" fill="#e8a48c" opacity="0.19"/>
<circle cx="100.48" cy="37.15" r="2.03" fill="#e8a48c" opacity="0.17"/>
<circle cx="116.15" cy="35.73" r="2.20" fill="#eeb29a" opacity="0.18"/>
<circle cx="109.98" cy="32.46" r="1.66" fill="#e8a48c" opacity="0.21"/>
<circle cx="104.11" cy="38.39" r="2.08" fill="#e8a48c" opacity="0.22"/>
<circle cx="110.22" cy="47.47" r="2.57" fill="#eeb29a" opacity="0.23"/>
<circle cx="118.73" cy="48.92" r="1.78" fill="#eeb29a" opacity="0.18"/>
<circle cx="105.95" cy="33.51" r="1.75" fill="#f0bca4" opacity="0.18"/>
<circle cx="107.13" cy="40.29" r="2.06" fill="#e8a48c" opacity="0.24"/>
<circle cx="116.25" cy="34.38" r="2.38" fill="#eeb29a" opacity="0.28"/>
<circle cx="101.37" cy="38.96" r="2.33" fill="#eeb29a" opacity="0.24"/>
<circle cx="118.60" cy="39.97" r="2.01" fill="#e8a48c" opacity="0.21"/>
<circle cx="115.95" cy="51.92" r="2.12" fill="#eeb29a" opacity="0.17"/>
<circle cx="111.05" cy="39.28" r="1.76" fill="#f0bca4" opacity="0.16"/>
<circle cx="107.26" cy="31.27" r="2.01" fill="#eeb29a" opacity="0.26"/>
<circle cx="100.91" cy="46.86" r="2.18" fill="#eeb29a" opacity="0.23"/>
<circle cx="119.92" cy="36.68" r="1.68" fill="#e8a48c" opacity="0.28"/>
<circle cx="113.89" cy="32.70" r="1.51" fill="#f0bca4" opacity="0.17"/>
<circle cx="103.71" cy="49.07" r="2.54" fill="#e8a48c" opacity="0.22"/>
<circle cx="113.38" cy="35.75" r="1.89" fill="#f0bca4" opacity="0.27"/>
<circle cx="118.99" cy="49.21" r="2.24" fill="#f0bca4" opacity="0.20"/>
<circle cx="110.02" cy="40.43" r="2.59" fill="#f0bca4" opacity="0.17"/>
<circle cx="114.39" cy="42.50" r="2.38" fill="#eeb29a" opacity="0.17"/>
<circle cx="120.36" cy="37.49" r="2.24" fill="#eeb29a" opacity="0.24"/>
<circle cx="110.58" cy="53.48" r="2.34" fill="#f0bca4" opacity="0.29"/>
<circle cx="117.30" cy="42.58" r="1.67" fill="#e8a48c" opacity="0.22"/>
<circle cx="120.91" cy="44.08" r="1.58" fill="#e8a48c" opacity="0.27"/>
<circle cx="107.51" cy="35.49" r="2.02" fill="#eeb29a" opacity="0.25"/>
<circle cx="105.38" cy="43.75" r="2.55" fill="#e8a48c" opacity="0.16"/>
<circle cx="108.04" cy="46.70" r="2.48" fill="#e8a48c" opacity="0.24"/>
<circle cx="113.47" cy="53.60" r="0.58" fill="#e07a5c" opacity="0.46"/>
<circle cx="117.44" cy="39.16" r="0.72" fill="#f0b090" opacity="0.42"/>
<circle cx="119.47" cy="43.15" r="0.42" fill="#eaa07c" opacity="0.35"/>
<circle cx="107.32" cy="35.94" r="0.43" fill="#f0b090" opacity="0.65"/>
<circle cx="104.38" cy="49.83" r="0.93" fill="#eaa07c" opacity="0.65"/>
<circle cx="120.26" cy="44.10" r="0.88" fill="#eca080" opacity="0.57"/>
<circle cx="103.55" cy="34.20" r="0.84" fill="#f0b090" opacity="0.58"/>
<circle cx="111.48" cy="53.75" r="0.77" fill="#e88e6c" opacity="0.41"/>
<circle cx="111.55" cy="30.69" r="0.87" fill="#eaa07c" opacity="0.39"/>
<circle cx="118.39" cy="34.00" r="0.43" fill="#f0b090" opacity="0.42"/>
<circle cx="104.77" cy="53.76" r="0.68" fill="#e07a5c" opacity="0.61"/>
<circle cx="115.39" cy="29.72" r="0.47" fill="#e88e6c" opacity="0.30"/>
<circle cx="116.72" cy="35.56" r="0.62" fill="#e07a5c" opacity="0.57"/>
<circle cx="119.74" cy="37.66" r="0.57" fill="#e88e6c" opacity="0.41"/>
<circle cx="109.17" cy="32.30" r="0.44" fill="#f0b090" opacity="0.37"/>
<circle cx="119.59" cy="37.40" r="0.72" fill="#f0b090" opacity="0.65"/>
<circle cx="103.37" cy="51.09" r="0.80" fill="#e07a5c" opacity="0.62"/>
<circle cx="114.54" cy="35.67" r="0.55" fill="#e88e6c" opacity="0.39"/>
<circle cx="115.90" cy="42.77" r="0.53" fill="#f0b090" opacity="0.31"/>
<circle cx="119.04" cy="44.61" r="0.56" fill="#eaa07c" opacity="0.48"/>
<circle cx="115.86" cy="45.80" r="0.93" fill="#eca080" opacity="0.51"/>
<circle cx="121.03" cy="47.68" r="0.59" fill="#eaa07c" opacity="0.35"/>
<circle cx="114.26" cy="50.95" r="0.75" fill="#eca080" opacity="0.62"/>
<circle cx="112.37" cy="49.33" r="0.76" fill="#eca080" opacity="0.44"/>
<circle cx="107.29" cy="35.08" r="0.87" fill="#eca080" opacity="0.58"/>
<circle cx="119.42" cy="47.38" r="0.94" fill="#e07a5c" opacity="0.44"/>
<circle cx="122.08" cy="37.48" r="0.91" fill="#eca080" opacity="0.50"/>
<circle cx="113.71" cy="41.76" r="0.79" fill="#eaa07c" opacity="0.59"/>
<circle cx="111.60" cy="43.50" r="0.48" fill="#e88e6c" opacity="0.57"/>
<circle cx="120.66" cy="48.37" r="0.59" fill="#e07a5c" opacity="0.54"/>
<circle cx="114.04" cy="38.14" r="0.72" fill="#eaa07c" opacity="0.38"/>
<circle cx="101.85" cy="33.92" r="0.82" fill="#e07a5c" opacity="0.57"/>
<circle cx="106.38" cy="52.81" r="0.71" fill="#e07a5c" opacity="0.43"/>
<circle cx="103.81" cy="40.72" r="0.40" fill="#f0b090" opacity="0.47"/>
<circle cx="104.09" cy="32.38" r="0.48" fill="#f0b090" opacity="0.52"/>
<circle cx="99.99" cy="49.62" r="0.74" fill="#eca080" opacity="0.34"/>
<circle cx="104.84" cy="40.40" r="0.54" fill="#e88e6c" opacity="0.51"/>
<circle cx="109.62" cy="29.50" r="0.69" fill="#e88e6c" opacity="0.42"/>
<circle cx="108.40" cy="33.51" r="0.52" fill="#e07a5c" opacity="0.62"/>
<circle cx="117.29" cy="37.20" r="0.58" fill="#e88e6c" opacity="0.62"/>
<circle cx="119.41" cy="49.08" r="0.84" fill="#eca080" opacity="0.62"/>
<circle cx="107.02" cy="35.05" r="0.71" fill="#e88e6c" opacity="0.44"/>
<circle cx="121.81" cy="35.76" r="0.42" fill="#e88e6c" opacity="0.31"/>
<circle cx="108.96" cy="35.72" r="0.51" fill="#f0b090" opacity="0.57"/>
<circle cx="106.10" cy="36.37" r="0.52" fill="#e07a5c" opacity="0.50"/>
<circle cx="117.38" cy="52.22" r="0.92" fill="#f0b090" opacity="0.35"/>
<circle cx="109.39" cy="45.73" r="0.67" fill="#eca080" opacity="0.61"/>
<circle cx="116.35" cy="51.27" r="0.93" fill="#eaa07c" opacity="0.37"/>
<circle cx="121.65" cy="45.76" r="0.43" fill="#f0b090" opacity="0.57"/>
<circle cx="102.53" cy="45.25" r="0.95" fill="#e88e6c" opacity="0.40"/>
<circle cx="114.96" cy="42.67" r="0.47" fill="#eca080" opacity="0.41"/>
<circle cx="102.77" cy="41.87" r="0.66" fill="#e88e6c" opacity="0.44"/>
<circle cx="101.52" cy="47.43" r="0.89" fill="#e07a5c" opacity="0.64"/>
<circle cx="116.86" cy="43.31" r="0.42" fill="#eca080" opacity="0.48"/>
<circle cx="111.60" cy="50.60" r="0.80" fill="#eca080" opacity="0.32"/>
<circle cx="113.24" cy="39.93" r="0.47" fill="#eca080" opacity="0.47"/>
<circle cx="116.28" cy="48.51" r="0.52" fill="#e88e6c" opacity="0.49"/>
<circle cx="104.07" cy="34.76" r="0.69" fill="#eca080" opacity="0.59"/>
<circle cx="114.14" cy="41.03" r="0.87" fill="#e88e6c" opacity="0.64"/>
<circle cx="111.18" cy="45.50" r="0.41" fill="#e88e6c" opacity="0.39"/>
<circle cx="116.32" cy="40.77" r="0.62" fill="#eca080" opacity="0.49"/>
<circle cx="109.72" cy="43.03" r="0.76" fill="#eca080" opacity="0.49"/>
<circle cx="100.14" cy="38.69" r="0.62" fill="#f0b090" opacity="0.41"/>
<circle cx="99.22" cy="48.33" r="0.82" fill="#e07a5c" opacity="0.61"/>
<circle cx="114.75" cy="30.20" r="0.53" fill="#eca080" opacity="0.48"/>
<circle cx="121.57" cy="41.22" r="0.95" fill="#e07a5c" opacity="0.59"/>
<circle cx="108.59" cy="38.67" r="0.83" fill="#eaa07c" opacity="0.62"/>
<circle cx="121.07" cy="45.37" r="0.78" fill="#f0b090" opacity="0.45"/>
<circle cx="106.21" cy="34.25" r="0.40" fill="#eaa07c" opacity="0.56"/>
<circle cx="116.31" cy="34.50" r="0.70" fill="#eaa07c" opacity="0.43"/>
<circle cx="115.93" cy="31.54" r="0.60" fill="#e07a5c" opacity="0.32"/>
<circle cx="117.34" cy="40.97" r="0.44" fill="#f0b090" opacity="0.58"/>
<circle cx="104.09" cy="31.11" r="0.54" fill="#f0b090" opacity="0.59"/>
<circle cx="115.47" cy="35.93" r="0.66" fill="#eaa07c" opacity="0.38"/>
<circle cx="118.57" cy="51.90" r="0.60" fill="#eaa07c" opacity="0.37"/>
<circle cx="114.48" cy="48.97" r="0.48" fill="#e88e6c" opacity="0.53"/>
<circle cx="116.24" cy="53.55" r="0.58" fill="#eca080" opacity="0.43"/>
<circle cx="116.25" cy="35.47" r="0.48" fill="#e07a5c" opacity="0.39"/>
<circle cx="116.89" cy="46.75" r="0.69" fill="#eaa07c" opacity="0.46"/>
<circle cx="117.66" cy="46.36" r="0.78" fill="#e07a5c" opacity="0.46"/>
<circle cx="98.92" cy="43.60" r="0.48" fill="#eaa07c" opacity="0.54"/>
<circle cx="104.22" cy="49.07" r="0.74" fill="#e88e6c" opacity="0.48"/>
<circle cx="112.71" cy="35.71" r="0.51" fill="#eaa07c" opacity="0.50"/>
<circle cx="115.81" cy="43.98" r="0.55" fill="#eaa07c" opacity="0.41"/>
<circle cx="111.22" cy="54.04" r="0.69" fill="#eca080" opacity="0.47"/>
<circle cx="114.61" cy="44.50" r="0.74" fill="#f0b090" opacity="0.43"/>
<circle cx="119.05" cy="44.39" r="0.42" fill="#f0b090" opacity="0.56"/>
<circle cx="119.11" cy="40.36" r="0.85" fill="#eaa07c" opacity="0.42"/>
<circle cx="103.05" cy="48.62" r="0.51" fill="#eaa07c" opacity="0.64"/>
<circle cx="108.69" cy="34.17" r="0.58" fill="#e88e6c" opacity="0.32"/>
<circle cx="110.91" cy="33.88" r="0.63" fill="#eaa07c" opacity="0.63"/>
<circle cx="103.29" cy="32.81" r="0.73" fill="#eca080" opacity="0.46"/>
<circle cx="98.84" cy="44.85" r="0.95" fill="#e07a5c" opacity="0.36"/>
<circle cx="118.24" cy="45.31" r="0.68" fill="#e88e6c" opacity="0.59"/>
<circle cx="105.15" cy="32.03" r="0.70" fill="#e07a5c" opacity="0.62"/>
<circle cx="108.53" cy="49.30" r="0.82" fill="#e07a5c" opacity="0.34"/>
<circle cx="111.27" cy="45.60" r="0.46" fill="#eca080" opacity="0.33"/>
<circle cx="110.81" cy="32.09" r="0.85" fill="#eca080" opacity="0.37"/>
<circle cx="104.32" cy="52.53" r="0.78" fill="#eaa07c" opacity="0.45"/>
<circle cx="99.20" cy="35.36" r="0.88" fill="#eca080" opacity="0.35"/>
<circle cx="105.80" cy="50.20" r="0.50" fill="#eca080" opacity="0.49"/>
<circle cx="106.75" cy="41.51" r="0.54" fill="#e07a5c" opacity="0.60"/>
<circle cx="101.74" cy="38.77" r="0.77" fill="#e07a5c" opacity="0.41"/>
<circle cx="110.68" cy="50.14" r="0.87" fill="#e07a5c" opacity="0.39"/>
<circle cx="111.49" cy="44.88" r="0.76" fill="#eaa07c" opacity="0.63"/>
<circle cx="104.43" cy="32.75" r="0.60" fill="#e88e6c" opacity="0.58"/>
<circle cx="114.49" cy="54.04" r="0.77" fill="#eaa07c" opacity="0.56"/>
<circle cx="114.03" cy="42.18" r="0.85" fill="#eaa07c" opacity="0.31"/>
<circle cx="112.26" cy="50.59" r="0.79" fill="#e88e6c" opacity="0.58"/>
<circle cx="103.15" cy="37.13" r="0.51" fill="#e07a5c" opacity="0.37"/>
<circle cx="115.80" cy="53.07" r="0.43" fill="#eca080" opacity="0.60"/>
<circle cx="119.77" cy="46.45" r="0.41" fill="#e88e6c" opacity="0.55"/>
<circle cx="110.17" cy="36.67" r="0.77" fill="#e88e6c" opacity="0.54"/>
<circle cx="108.91" cy="47.82" r="0.48" fill="#e88e6c" opacity="0.62"/>
<circle cx="111.72" cy="46.04" r="0.51" fill="#eca080" opacity="0.33"/>
<circle cx="116.53" cy="43.94" r="0.79" fill="#f0b090" opacity="0.45"/>
<circle cx="99.66" cy="47.61" r="0.42" fill="#e88e6c" opacity="0.59"/>
<circle cx="108.88" cy="48.13" r="0.84" fill="#eaa07c" opacity="0.55"/>
<circle cx="109.19" cy="34.79" r="0.58" fill="#f0b090" opacity="0.59"/>
<circle cx="117.42" cy="51.63" r="0.62" fill="#e88e6c" opacity="0.31"/>
<circle cx="102.90" cy="49.23" r="0.76" fill="#e88e6c" opacity="0.54"/>
<circle cx="112.23" cy="46.83" r="0.64" fill="#e88e6c" opacity="0.54"/>
<circle cx="119.64" cy="49.91" r="0.76" fill="#eca080" opacity="0.37"/>
<circle cx="105.28" cy="34.06" r="0.56" fill="#eca080" opacity="0.42"/>
<circle cx="110.62" cy="32.70" r="0.51" fill="#eca080" opacity="0.40"/>
<circle cx="107.31" cy="51.53" r="0.51" fill="#eca080" opacity="0.46"/>
<circle cx="111.89" cy="30.53" r="0.72" fill="#e88e6c" opacity="0.40"/>
<circle cx="106.93" cy="39.98" r="0.59" fill="#eca080" opacity="0.63"/>
<circle cx="108.96" cy="39.54" r="0.59" fill="#f0b090" opacity="0.47"/>
<circle cx="106.78" cy="48.99" r="0.83" fill="#eca080" opacity="0.40"/>
<circle cx="119.55" cy="46.17" r="0.81" fill="#eca080" opacity="0.34"/>
<circle cx="114.98" cy="49.03" r="0.42" fill="#eca080" opacity="0.48"/>
<circle cx="119.30" cy="48.09" r="0.63" fill="#e88e6c" opacity="0.59"/>
<circle cx="120.59" cy="47.19" r="0.60" fill="#e88e6c" opacity="0.53"/>
<circle cx="111.38" cy="42.50" r="0.57" fill="#e07a5c" opacity="0.39"/>
<circle cx="115.66" cy="46.00" r="0.67" fill="#e88e6c" opacity="0.49"/>
<circle cx="117.27" cy="48.08" r="0.71" fill="#e88e6c" opacity="0.31"/>
<circle cx="110.10" cy="54.85" r="0.62" fill="#f0b090" opacity="0.37"/>
<circle cx="115.11" cy="46.63" r="0.68" fill="#eaa07c" opacity="0.61"/>
<circle cx="123.36" cy="43.22" r="0.84" fill="#e07a5c" opacity="0.55"/>
<circle cx="113.37" cy="53.04" r="0.81" fill="#eca080" opacity="0.35"/>
<circle cx="110.39" cy="44.31" r="0.74" fill="#e07a5c" opacity="0.34"/>
<circle cx="106.45" cy="40.05" r="0.52" fill="#eaa07c" opacity="0.39"/>
<circle cx="112.08" cy="32.66" r="0.85" fill="#eca080" opacity="0.33"/>
<circle cx="108.44" cy="45.53" r="0.74" fill="#e88e6c" opacity="0.54"/>
<circle cx="113.65" cy="34.91" r="0.73" fill="#e07a5c" opacity="0.36"/>
<circle cx="105.36" cy="53.61" r="0.42" fill="#e07a5c" opacity="0.58"/>
<circle cx="116.24" cy="49.57" r="0.48" fill="#e88e6c" opacity="0.42"/>
<circle cx="114.34" cy="46.54" r="0.78" fill="#e88e6c" opacity="0.55"/>
<circle cx="111.24" cy="42.29" r="0.42" fill="#e07a5c" opacity="0.48"/>
<circle cx="108.93" cy="45.04" r="0.75" fill="#eaa07c" opacity="0.37"/>
<circle cx="102.02" cy="33.41" r="0.45" fill="#e07a5c" opacity="0.55"/>
<circle cx="107.50" cy="46.32" r="0.77" fill="#e07a5c" opacity="0.56"/>
<circle cx="118.55" cy="51.01" r="0.90" fill="#f0b090" opacity="0.56"/>
<circle cx="116.45" cy="31.73" r="0.49" fill="#eaa07c" opacity="0.44"/>
<circle cx="102.44" cy="32.16" r="0.56" fill="#eaa07c" opacity="0.64"/>
<circle cx="98.02" cy="39.46" r="0.44" fill="#eca080" opacity="0.57"/>
<circle cx="114.29" cy="31.17" r="0.53" fill="#e88e6c" opacity="0.51"/>
<circle cx="99.15" cy="37.33" r="0.90" fill="#eaa07c" opacity="0.54"/>
<circle cx="108.56" cy="33.99" r="0.84" fill="#e07a5c" opacity="0.54"/>
<circle cx="121.80" cy="37.70" r="0.92" fill="#e07a5c" opacity="0.38"/>
<circle cx="105.07" cy="31.64" r="0.90" fill="#eaa07c" opacity="0.45"/>
<circle cx="108.16" cy="48.81" r="0.41" fill="#eaa07c" opacity="0.34"/>
<circle cx="113.86" cy="34.11" r="0.56" fill="#eaa07c" opacity="0.35"/>
<circle cx="106.95" cy="40.93" r="0.86" fill="#e07a5c" opacity="0.52"/>
<circle cx="109.58" cy="45.78" r="0.50" fill="#f0b090" opacity="0.61"/>
<circle cx="102.51" cy="47.32" r="0.47" fill="#e88e6c" opacity="0.54"/>
<circle cx="122.17" cy="45.09" r="0.61" fill="#e88e6c" opacity="0.42"/>
<circle cx="113.75" cy="46.39" r="0.89" fill="#f0b090" opacity="0.51"/>
<circle cx="117.11" cy="36.87" r="0.58" fill="#e07a5c" opacity="0.61"/>
<circle cx="113.20" cy="32.05" r="0.62" fill="#e88e6c" opacity="0.30"/>
<circle cx="113.17" cy="38.62" r="0.65" fill="#e88e6c" opacity="0.58"/>
<circle cx="110.56" cy="49.83" r="0.94" fill="#eca080" opacity="0.56"/>
<circle cx="110.81" cy="31.23" r="0.91" fill="#e88e6c" opacity="0.61"/>
<circle cx="108.77" cy="38.85" r="0.58" fill="#eaa07c" opacity="0.39"/>
<circle cx="108.53" cy="48.99" r="0.92" fill="#e07a5c" opacity="0.58"/>
<circle cx="120.54" cy="45.91" r="0.60" fill="#e07a5c" opacity="0.64"/>
<circle cx="121.90" cy="46.23" r="0.71" fill="#eca080" opacity="0.46"/>
<circle cx="110.68" cy="29.54" r="0.81" fill="#eaa07c" opacity="0.31"/>
<circle cx="108.38" cy="46.35" r="0.48" fill="#f0b090" opacity="0.51"/>
<circle cx="108.07" cy="40.68" r="0.50" fill="#e07a5c" opacity="0.51"/>
<circle cx="120.99" cy="40.83" r="0.56" fill="#e88e6c" opacity="0.49"/>
<circle cx="99.13" cy="48.24" r="0.84" fill="#eca080" opacity="0.54"/>
<circle cx="101.13" cy="50.84" r="0.78" fill="#f0b090" opacity="0.40"/>
<circle cx="115.86" cy="50.52" r="0.84" fill="#eca080" opacity="0.42"/>
<circle cx="116.65" cy="49.30" r="0.49" fill="#eca080" opacity="0.56"/>
<circle cx="114.12" cy="48.48" r="0.72" fill="#eca080" opacity="0.64"/>
<circle cx="111.94" cy="34.19" r="0.55" fill="#e88e6c" opacity="0.61"/>
<circle cx="100.33" cy="43.64" r="0.62" fill="#e07a5c" opacity="0.54"/>
<circle cx="105.78" cy="47.70" r="0.55" fill="#e07a5c" opacity="0.37"/>
<circle cx="118.04" cy="37.20" r="0.75" fill="#e07a5c" opacity="0.57"/>
<circle cx="108.56" cy="46.73" r="0.66" fill="#eaa07c" opacity="0.50"/>
<circle cx="105.12" cy="31.94" r="0.62" fill="#f0b090" opacity="0.55"/>
<circle cx="101.18" cy="49.25" r="0.54" fill="#eca080" opacity="0.57"/>
<circle cx="122.20" cy="45.08" r="0.57" fill="#eaa07c" opacity="0.51"/>
<circle cx="102.28" cy="52.08" r="0.88" fill="#eca080" opacity="0.33"/>
<circle cx="101.00" cy="34.77" r="0.91" fill="#eca080" opacity="0.36"/>
<circle cx="115.61" cy="52.05" r="0.83" fill="#eca080" opacity="0.44"/>
<circle cx="121.18" cy="37.84" r="0.62" fill="#f0b090" opacity="0.47"/>
<circle cx="104.23" cy="52.49" r="0.69" fill="#e88e6c" opacity="0.48"/>
<circle cx="104.52" cy="31.04" r="0.52" fill="#e88e6c" opacity="0.54"/>
<circle cx="113.64" cy="40.44" r="0.87" fill="#eca080" opacity="0.53"/>
<circle cx="103.20" cy="38.06" r="0.80" fill="#eaa07c" opacity="0.57"/>
<circle cx="105.38" cy="30.98" r="0.48" fill="#e88e6c" opacity="0.54"/>
<circle cx="110.84" cy="32.66" r="0.89" fill="#f0b090" opacity="0.56"/>
<circle cx="115.19" cy="32.41" r="0.47" fill="#f0b090" opacity="0.55"/>
<circle cx="107.64" cy="32.10" r="0.79" fill="#f0b090" opacity="0.57"/>
<circle cx="103.15" cy="36.23" r="0.52" fill="#eaa07c" opacity="0.38"/>
<circle cx="119.62" cy="48.03" r="0.60" fill="#eca080" opacity="0.54"/>
<circle cx="121.47" cy="47.30" r="0.52" fill="#f0b090" opacity="0.46"/>
<circle cx="111.37" cy="33.21" r="0.43" fill="#eaa07c" opacity="0.46"/>
<circle cx="99.44" cy="37.99" r="0.70" fill="#eca080" opacity="0.46"/>
<circle cx="103.48" cy="42.73" r="0.93" fill="#f0b090" opacity="0.49"/>
<circle cx="111.82" cy="51.77" r="0.55" fill="#e88e6c" opacity="0.64"/>
<circle cx="100.75" cy="36.78" r="0.83" fill="#e88e6c" opacity="0.31"/>
<circle cx="102.01" cy="41.75" r="0.92" fill="#eca080" opacity="0.40"/>
<circle cx="114.34" cy="44.36" r="0.68" fill="#e07a5c" opacity="0.51"/>
<circle cx="112.43" cy="54.16" r="0.84" fill="#eca080" opacity="0.64"/>
<circle cx="104.33" cy="53.51" r="0.75" fill="#eca080" opacity="0.50"/>
<circle cx="98.80" cy="47.43" r="0.65" fill="#eaa07c" opacity="0.42"/>
<circle cx="113.69" cy="49.79" r="0.82" fill="#f0b090" opacity="0.33"/>
<circle cx="111.96" cy="40.98" r="0.83" fill="#e88e6c" opacity="0.56"/>
<circle cx="111.46" cy="36.14" r="0.81" fill="#f0b090" opacity="0.63"/>
<circle cx="120.43" cy="36.59" r="0.43" fill="#eca080" opacity="0.37"/>
<circle cx="122.83" cy="43.00" r="0.55" fill="#eaa07c" opacity="0.42"/>
<circle cx="116.02" cy="50.99" r="0.57" fill="#f0b090" opacity="0.32"/>
<circle cx="114.16" cy="49.01" r="0.84" fill="#eca080" opacity="0.46"/>
<circle cx="114.05" cy="44.58" r="0.60" fill="#e88e6c" opacity="0.61"/>
<circle cx="106.82" cy="42.33" r="0.84" fill="#f0b090" opacity="0.47"/>
<circle cx="112.66" cy="37.75" r="0.69" fill="#eca080" opacity="0.39"/>
<circle cx="104.58" cy="47.05" r="0.92" fill="#eca080" opacity="0.37"/>
<circle cx="108.49" cy="53.73" r="0.64" fill="#eaa07c" opacity="0.56"/>
<circle cx="101.72" cy="49.91" r="0.47" fill="#e07a5c" opacity="0.30"/>
<circle cx="112.86" cy="51.84" r="0.42" fill="#e07a5c" opacity="0.58"/>
<circle cx="114.42" cy="41.35" r="0.51" fill="#eca080" opacity="0.50"/>
<circle cx="121.08" cy="35.70" r="0.74" fill="#f0b090" opacity="0.61"/>
<circle cx="100.09" cy="43.02" r="0.40" fill="#e88e6c" opacity="0.37"/>
<circle cx="103.03" cy="51.81" r="0.73" fill="#eca080" opacity="0.34"/>
<circle cx="113.36" cy="50.48" r="0.91" fill="#eaa07c" opacity="0.54"/>
<circle cx="120.48" cy="36.08" r="0.80" fill="#eaa07c" opacity="0.32"/>
<circle cx="102.83" cy="43.45" r="0.60" fill="#c07a60" opacity="0.85"/>
<circle cx="108.83" cy="33.62" r="0.66" fill="#c07a60" opacity="0.55"/>
<circle cx="118.74" cy="36.77" r="0.42" fill="#a06858" opacity="0.78"/>
<circle cx="111.27" cy="41.44" r="0.57" fill="#c07a60" opacity="0.79"/>
<circle cx="103.43" cy="33.97" r="0.41" fill="#a06858" opacity="0.82"/>
<circle cx="110.72" cy="42.37" r="0.54" fill="#b07060" opacity="0.58"/>
<circle cx="115.91" cy="39.53" r="0.60" fill="#c07a60" opacity="0.72"/>
<circle cx="116.20" cy="38.89" r="0.45" fill="#a06858" opacity="0.67"/>
<circle cx="121.09" cy="39.06" r="0.66" fill="#a06858" opacity="0.57"/>
<circle cx="112.37" cy="37.28" r="0.55" fill="#a06858" opacity="0.68"/>
<circle cx="118.04" cy="39.93" r="0.66" fill="#a06858" opacity="0.80"/>
<circle cx="99.96" cy="38.10" r="0.55" fill="#c07a60" opacity="0.71"/>
<circle cx="112.98" cy="33.15" r="0.61" fill="#c07a60" opacity="0.69"/>
<circle cx="108.60" cy="49.62" r="0.40" fill="#c07a60" opacity="0.57"/>
<circle cx="114.01" cy="50.22" r="0.65" fill="#a06858" opacity="0.54"/>
<circle cx="107.26" cy="37.40" r="0.53" fill="#a06858" opacity="0.71"/>
<circle cx="118.32" cy="46.65" r="0.60" fill="#a06858" opacity="0.76"/>
<circle cx="117.35" cy="32.67" r="0.43" fill="#b07060" opacity="0.60"/>
<circle cx="108.13" cy="48.33" r="0.55" fill="#c07a60" opacity="0.84"/>
<circle cx="110.72" cy="40.97" r="0.42" fill="#a06858" opacity="0.74"/>
<circle cx="111.23" cy="36.25" r="0.52" fill="#b07060" opacity="0.82"/>
<circle cx="105.48" cy="39.41" r="0.63" fill="#a06858" opacity="0.82"/>
<circle cx="116.11" cy="32.97" r="0.41" fill="#c07a60" opacity="0.55"/>
<circle cx="120.09" cy="36.07" r="0.42" fill="#c07a60" opacity="0.83"/>
<circle cx="100.79" cy="45.76" r="0.48" fill="#b07060" opacity="0.80"/>
<circle cx="118.21" cy="43.37" r="0.45" fill="#a06858" opacity="0.84"/>
<circle cx="103.75" cy="32.06" r="0.63" fill="#b07060" opacity="0.60"/>
<circle cx="110.61" cy="50.03" r="0.41" fill="#a06858" opacity="0.69"/>
<circle cx="103.58" cy="50.84" r="0.40" fill="#a06858" opacity="0.81"/>
<circle cx="113.12" cy="33.24" r="0.43" fill="#b07060" opacity="0.65"/>
<circle cx="108.95" cy="44.71" r="0.44" fill="#b07060" opacity="0.56"/>
<circle cx="100.71" cy="40.05" r="0.56" fill="#b07060" opacity="0.83"/>
<circle cx="99.66" cy="40.70" r="0.59" fill="#c07a60" opacity="0.57"/>
<circle cx="107.83" cy="53.57" r="0.40" fill="#b07060" opacity="0.65"/>
<circle cx="119.56" cy="50.24" r="0.58" fill="#c07a60" opacity="0.74"/>
<circle cx="106.67" cy="31.95" r="0.63" fill="#a06858" opacity="0.62"/>
<circle cx="114.27" cy="41.07" r="0.66" fill="#c07a60" opacity="0.59"/>
<circle cx="120.37" cy="39.77" r="0.58" fill="#c07a60" opacity="0.52"/>
<circle cx="117.72" cy="45.24" r="0.42" fill="#c07a60" opacity="0.52"/>
<circle cx="118.08" cy="42.69" r="0.44" fill="#a06858" opacity="0.75"/>
<text transform="translate(128.35,47.90) scale(0.8475,1)" font-size="11" fill="#1e1e1e" stroke="#1e1e1e" stroke-width="0.28" >Vehicle</text>
<text transform="translate(128.11,78.80) scale(0.8979,1)" font-size="11" fill="#1e1e1e" stroke="#1e1e1e" stroke-width="0.28" >Exo<tspan font-size="6.05" dy="-3.96">MSC</tspan></text>
<line x1="79.50" y1="112.30" x2="79.50" y2="157.50" stroke="#606060" stroke-width="0.9" />
<line x1="79.50" y1="157.50" x2="120.40" y2="157.50" stroke="#606060" stroke-width="0.9" />
<line x1="77.30" y1="112.30" x2="79.50" y2="112.30" stroke="#888" stroke-width="0.6" />
<rect x="74.50" y="111.80" width="2.20" height="1.00" fill="#bbb" />
<line x1="77.30" y1="123.80" x2="79.50" y2="123.80" stroke="#888" stroke-width="0.6" />
<rect x="74.50" y="123.30" width="2.20" height="1.00" fill="#bbb" />
<line x1="77.30" y1="135.10" x2="79.50" y2="135.10" stroke="#888" stroke-width="0.6" />
<rect x="74.50" y="134.60" width="2.20" height="1.00" fill="#bbb" />
<line x1="77.30" y1="146.20" x2="79.50" y2="146.20" stroke="#888" stroke-width="0.6" />
<rect x="74.50" y="145.70" width="2.20" height="1.00" fill="#bbb" />
<line x1="77.30" y1="157.00" x2="79.50" y2="157.00" stroke="#888" stroke-width="0.6" />
<rect x="74.50" y="156.50" width="2.20" height="1.00" fill="#bbb" />
<line x1="91.95" y1="120.00" x2="91.95" y2="116.60" stroke="#1111ee" stroke-width="0.9" />
<line x1="89.75" y1="116.60" x2="94.15" y2="116.60" stroke="#1111ee" stroke-width="0.9" />
<rect x="85.80" y="120.00" width="12.30" height="37.00" fill="#1111ee" />
<rect x="85.80" y="120.00" width="12.30" height="37.00" fill="none" stroke="#0a0a9a" stroke-width="0.6"/>
<line x1="110.00" y1="156.60" x2="118.00" y2="156.60" stroke="#333" stroke-width="0.9" />
<path d="M91.9,118.2 L91.9,111.5 L110.8,111.5 L110.8,149.2" fill="none" stroke="#444" stroke-width="0.7" />
<text transform="translate(95.23,113.95) scale(1.0,1)" font-size="13.5" fill="#1e1e1e">**</text>
<text transform="translate(56.80,155.92) rotate(-90) scale(0.8519,1)" font-size="11" fill="#1e1e1e" stroke="#1e1e1e" stroke-width="0.28">Spots per</text>
<text transform="translate(70.90,167.35) rotate(-90) scale(0.7819,1)" font-size="11" fill="#1e1e1e" stroke="#1e1e1e" stroke-width="0.28">10<tspan font-size="7.48" dy="-5.50">5</tspan><tspan dy="5.50"> CD8</tspan><tspan font-size="7.48" dy="-5.50">+</tspan><tspan dy="5.50"> T cells</tspan></text>
<text transform="translate(74.88,184.12) rotate(-45) scale(0.7395,1)" font-size="11.5" fill="#1e1e1e" stroke="#1e1e1e" stroke-width="0.28">Vehicle</text>
<text transform="translate(94.37,185.13) rotate(-45) scale(0.8252,1)" font-size="11.5" fill="#1e1e1e" stroke="#1e1e1e" stroke-width="0.28">Exo<tspan font-size="6.33" dy="-4.14">MSC</tspan></text>
<text transform="translate(181.92,15.80) scale(1.0766,1)" font-size="12.5" fill="#1e1e1e" stroke="#1e1e1e" stroke-width="0.38" >B</text>
<text transform="translate(200.55,19.70) scale(0.9431,1)" font-size="10" fill="#1e1e1e" stroke="#1e1e1e" stroke-width="0.28" >Viable CD45<tspan font-size="6.80" dy="-5.00">+</tspan><tspan dy="5.00">CD8</tspan><tspan font-size="6.80" dy="-5.00">+</tspan></text>
<rect x="199.50" y="23.90" width="44.10" height="44.70" fill="none" stroke="#8a8a8a" stroke-width="0.8"/>
<rect x="248.70" y="23.90" width="44.70" height="44.70" fill="none" stroke="#8a8a8a" stroke-width="0.8"/>
<rect x="298.70" y="23.90" width="44.70" height="44.70" fill="none" stroke="#8a8a8a" stroke-width="0.8"/>
<rect x="217.00" y="23.90" width="18.90" height="14.40" fill="none" stroke="#8a8a8a" stroke-width="0.7"/>
<rect x="265.80" y="23.90" width="19.60" height="14.40" fill="none" stroke="#8a8a8a" stroke-width="0.7"/>
<rect x="316.20" y="23.90" width="19.20" height="14.40" fill="none" stroke="#8a8a8a" stroke-width="0.7"/>
<path d="M222.00,31.10 C222.87,30.85 224.25,31.02 225.00,31.50 C225.75,31.98 226.28,33.00 226.50,34.00 C226.72,35.00 226.17,36.42 226.30,37.50 C226.43,38.58 227.22,39.42 227.30,40.50 C227.38,41.58 226.82,42.92 226.80,44.00 C226.78,45.08 227.42,46.08 227.20,47.00 C226.98,47.92 226.20,48.70 225.50,49.50 C224.80,50.30 223.83,51.47 223.00,51.80 C222.17,52.13 221.25,52.13 220.50,51.50 C219.75,50.87 218.93,49.58 218.50,48.00 C218.07,46.42 217.93,43.92 217.90,42.00 C217.87,40.08 217.98,38.00 218.30,36.50 C218.62,35.00 219.18,33.90 219.80,33.00 C220.42,32.10 221.13,31.35 222.00,31.10 Z" fill="#1a4cff" stroke="#0a14b0" stroke-width="1.0"/>
<g clip-path="url(#cp1)">
<ellipse cx="0" cy="0" rx="1" ry="1" transform="translate(221.6 41.5) rotate(0) scale(4.2 9.5)" fill="url(#g1)"/>
</g>
<path d="M221.20,52.80 C221.53,52.33 222.28,52.67 222.60,53.20 C222.92,53.73 223.10,55.03 223.10,56.00 C223.10,56.97 222.92,58.47 222.60,59.00 C222.28,59.53 221.53,59.70 221.20,59.20 C220.87,58.70 220.60,57.07 220.60,56.00 C220.60,54.93 220.87,53.27 221.20,52.80 Z" fill="#1a2ad8" stroke="#0a14b0" stroke-width="1.0"/>
<g clip-path="url(#cp2)">
</g>
<path d="M270.60,37.20 C271.17,36.98 271.47,39.23 272.20,40.20 C272.93,41.17 274.07,42.15 275.00,43.00 C275.93,43.85 277.22,44.38 277.80,45.30 C278.38,46.22 278.30,47.42 278.50,48.50 C278.70,49.58 279.25,50.80 279.00,51.80 C278.75,52.80 276.95,53.55 277.00,54.50 C277.05,55.45 279.47,56.63 279.30,57.50 C279.13,58.37 277.55,59.33 276.00,59.70 C274.45,60.07 271.33,59.90 270.00,59.70 C268.67,59.50 268.35,59.78 268.00,58.50 C267.65,57.22 267.90,54.08 267.90,52.00 C267.90,49.92 267.85,47.75 268.00,46.00 C268.15,44.25 268.37,42.97 268.80,41.50 C269.23,40.03 270.03,37.42 270.60,37.20 Z" fill="#1a4cff" stroke="#0a14b0" stroke-width="1.0"/>
<g clip-path="url(#cp3)">
<ellipse cx="0" cy="0" rx="1" ry="1" transform="translate(270.3 49.0) rotate(0) scale(4.6 10.0)" fill="url(#g2)"/>
</g>
<path d="M320.00,38.30 C320.50,38.18 321.97,38.35 322.50,38.80 C323.03,39.25 323.28,40.22 323.20,41.00 C323.12,41.78 321.78,42.67 322.00,43.50 C322.22,44.33 323.70,45.12 324.50,46.00 C325.30,46.88 326.72,47.97 326.80,48.80 C326.88,49.63 325.50,49.97 325.00,51.00 C324.50,52.03 324.38,53.67 323.80,55.00 C323.22,56.33 322.22,58.42 321.50,59.00 C320.78,59.58 319.90,59.33 319.50,58.50 C319.10,57.67 319.13,55.67 319.10,54.00 C319.07,52.33 319.12,49.92 319.30,48.50 C319.48,47.08 320.20,46.58 320.20,45.50 C320.20,44.42 319.42,43.00 319.30,42.00 C319.18,41.00 319.38,40.12 319.50,39.50 C319.62,38.88 319.50,38.42 320.00,38.30 Z" fill="#1a4cff" stroke="#0a14b0" stroke-width="1.0"/>
<g clip-path="url(#cp4)">
<ellipse cx="0" cy="0" rx="1" ry="1" transform="translate(321.2 41.0) rotate(0) scale(2.2 2.6)" fill="url(#g3)"/>
<ellipse cx="0" cy="0" rx="1" ry="1" transform="translate(321.6 52.0) rotate(0) scale(3.6 7.5)" fill="url(#g4)"/>
</g>
<text transform="translate(199.93,35.00) scale(0.8458,1)" font-size="10.5" fill="#1e1e1e" stroke="#1e1e1e" stroke-width="0.28" >19.9%</text>
<text transform="translate(251.93,35.00) scale(0.8868,1)" font-size="10.5" fill="#1e1e1e" stroke="#1e1e1e" stroke-width="0.28" >0.79%</text>
<text transform="translate(200.95,67.70) scale(0.8533,1)" font-size="11" fill="#1e1e1e" stroke="#1e1e1e" stroke-width="0.28" >Vehicle</text>
<text transform="translate(250.83,67.70) scale(0.8755,1)" font-size="11" fill="#1e1e1e" stroke="#1e1e1e" stroke-width="0.28" >Exo<tspan font-size="6.05" dy="-3.96">MSC</tspan></text>
<text transform="translate(299.93,67.70) scale(0.8767,1)" font-size="11" fill="#1e1e1e" stroke="#1e1e1e" stroke-width="0.28" >Isotype</text>
<text transform="translate(200.34,81.90) scale(1.0233,1)" font-size="11" fill="#1e1e1e" stroke="#1e1e1e" stroke-width="0.28" >CD8</text>
<line x1="227.80" y1="76.80" x2="235.40" y2="76.80" stroke="#1e1e1e" stroke-width="1.25" />
<path d="M238.50,76.80 L234.90,74.70 L234.90,78.90 Z" fill="#1e1e1e" stroke="none" stroke-width="1" />
<text transform="translate(194.60,70.73) rotate(-90) scale(0.9400,1)" font-size="11" fill="#1e1e1e" stroke="#1e1e1e" stroke-width="0.28">IFN-γ</text>
<line x1="192.40" y1="43.00" x2="192.40" y2="33.90" stroke="#1e1e1e" stroke-width="1.25" />
<path d="M192.40,30.80 L190.30,34.40 L194.50,34.40 Z" fill="#1e1e1e" stroke="none" stroke-width="1" />
<text transform="translate(200.75,126.40) scale(0.9408,1)" font-size="10" fill="#1e1e1e" stroke="#1e1e1e" stroke-width="0.28" >Viable CD45<tspan font-size="6.80" dy="-5.00">+</tspan><tspan dy="5.00">CD4</tspan><tspan font-size="6.80" dy="-5.00">+</tspan></text>
<rect x="200.40" y="132.00" width="45.00" height="44.20" fill="none" stroke="#8a8a8a" stroke-width="0.8"/>
<rect x="250.40" y="132.00" width="45.60" height="44.20" fill="none" stroke="#8a8a8a" stroke-width="0.8"/>
<rect x="300.00" y="132.00" width="45.00" height="44.20" fill="none" stroke="#8a8a8a" stroke-width="0.8"/>
<rect x="209.90" y="132.00" width="21.50" height="15.30" fill="none" stroke="#8a8a8a" stroke-width="0.7"/>
<rect x="259.40" y="132.00" width="21.20" height="15.50" fill="none" stroke="#8a8a8a" stroke-width="0.7"/>
<rect x="309.40" y="132.00" width="21.20" height="15.00" fill="none" stroke="#8a8a8a" stroke-width="0.7"/>
<path d="M213.30,142.20 C214.08,142.00 215.18,143.48 216.20,144.80 C217.22,146.12 218.60,148.68 219.40,150.10 C220.20,151.52 221.18,152.33 221.00,153.30 C220.82,154.27 218.92,154.77 218.30,155.90 C217.68,157.03 217.57,158.97 217.30,160.10 C217.03,161.23 217.15,161.47 216.70,162.70 C216.25,163.93 215.25,167.23 214.60,167.50 C213.95,167.77 213.33,165.55 212.80,164.30 C212.27,163.05 211.67,162.05 211.40,160.00 C211.13,157.95 211.18,154.33 211.20,152.00 C211.22,149.67 211.15,147.63 211.50,146.00 C211.85,144.37 212.52,142.40 213.30,142.20 Z" fill="#1a4cff" stroke="#0a14b0" stroke-width="1.0"/>
<g clip-path="url(#cp5)">
<ellipse cx="0" cy="0" rx="1" ry="1" transform="translate(213.4 150.0) rotate(0) scale(4.0 10.0)" fill="url(#g5)"/>
</g>
<path d="M262.40,147.90 C263.27,147.72 265.33,148.50 266.40,149.40 C267.47,150.30 268.12,152.15 268.80,153.30 C269.48,154.45 270.25,155.07 270.50,156.30 C270.75,157.53 270.25,159.22 270.30,160.70 C270.35,162.18 271.13,164.20 270.80,165.20 C270.47,166.20 269.43,166.43 268.30,166.70 C267.17,166.97 265.15,166.85 264.00,166.80 C262.85,166.75 261.95,167.20 261.40,166.40 C260.85,165.60 260.82,163.90 260.70,162.00 C260.58,160.10 260.62,156.92 260.70,155.00 C260.78,153.08 260.92,151.68 261.20,150.50 C261.48,149.32 261.53,148.08 262.40,147.90 Z" fill="#1a4cff" stroke="#0a14b0" stroke-width="1.0"/>
<g clip-path="url(#cp6)">
<ellipse cx="0" cy="0" rx="1" ry="1" transform="translate(263.4 161.0) rotate(0) scale(3.6 6.5)" fill="url(#g6)"/>
<ellipse cx="0" cy="0" rx="1" ry="1" transform="translate(263.2 156.3) rotate(0) scale(3.6 8.0)" fill="url(#g7)"/>
</g>
<path d="M313.40,148.20 C313.98,148.48 314.93,150.28 315.70,151.70 C316.47,153.12 317.17,155.25 318.00,156.70 C318.83,158.15 320.08,159.47 320.70,160.40 C321.32,161.33 321.85,161.37 321.70,162.30 C321.55,163.23 320.80,165.20 319.80,166.00 C318.80,166.80 316.92,167.18 315.70,167.10 C314.48,167.02 313.23,166.52 312.50,165.50 C311.77,164.48 311.50,163.00 311.30,161.00 C311.10,159.00 311.15,155.33 311.30,153.50 C311.45,151.67 311.85,150.88 312.20,150.00 C312.55,149.12 312.82,147.92 313.40,148.20 Z" fill="#1a4cff" stroke="#0a14b0" stroke-width="1.0"/>
<g clip-path="url(#cp7)">
<ellipse cx="0" cy="0" rx="1" ry="1" transform="translate(313.6 158.0) rotate(0) scale(4.0 10.0)" fill="url(#g8)"/>
<ellipse cx="0" cy="0" rx="1" ry="1" transform="translate(313.0 155.6) rotate(0) scale(1.8 2.6)" fill="url(#g9)"/>
</g>
<text transform="translate(216.53,142.60) scale(0.8866,1)" font-size="10.5" fill="#1e1e1e" stroke="#1e1e1e" stroke-width="0.28" >21.8%</text>
<circle cx="212.70" cy="134.90" r="0.70" fill="#2020c0" />
<text transform="translate(265.42,142.70) scale(0.9041,1)" font-size="10.5" fill="#1e1e1e" stroke="#1e1e1e" stroke-width="0.28" >0.27%</text>
<text transform="translate(202.55,174.50) scale(0.8361,1)" font-size="11" fill="#1e1e1e" stroke="#1e1e1e" stroke-width="0.28" >Vehicle</text>
<text transform="translate(251.21,174.00) scale(0.8947,1)" font-size="11" fill="#1e1e1e" stroke="#1e1e1e" stroke-width="0.28" >Exo<tspan font-size="6.05" dy="-3.96">MSC</tspan></text>
<text transform="translate(300.64,174.00) scale(0.8679,1)" font-size="11" fill="#1e1e1e" stroke="#1e1e1e" stroke-width="0.28" >Isotype</text>
<text transform="translate(200.34,189.00) scale(1.0180,1)" font-size="11" fill="#1e1e1e" stroke="#1e1e1e" stroke-width="0.28" >CD4</text>
<line x1="225.80" y1="184.70" x2="232.10" y2="184.70" stroke="#1e1e1e" stroke-width="1.25" />
<path d="M235.20,184.70 L231.60,182.60 L231.60,186.80 Z" fill="#1e1e1e" stroke="none" stroke-width="1" />
<text transform="translate(195.10,176.63) rotate(-90) scale(1.0445,1)" font-size="11" fill="#1e1e1e" stroke="#1e1e1e" stroke-width="0.28">IFN-γ</text>
<line x1="192.40" y1="146.60" x2="192.40" y2="140.30" stroke="#1e1e1e" stroke-width="1.25" />
<path d="M192.40,137.20 L190.30,140.80 L194.50,140.80 Z" fill="#1e1e1e" stroke="none" stroke-width="1" />
<text transform="translate(377.16,10.90) scale(0.8905,1)" font-size="10.5" fill="#1e1e1e" stroke="#1e1e1e" stroke-width="0.28" >IFN-γ expressing CD8<tspan font-size="7.14" dy="-5.25">+</tspan><tspan dy="5.25"> T cells</tspan></text>
<line x1="387.50" y1="23.00" x2="387.50" y2="68.50" stroke="#606060" stroke-width="0.9" />
<line x1="387.50" y1="68.50" x2="427.50" y2="68.50" stroke="#606060" stroke-width="0.9" />
<line x1="386.00" y1="23.00" x2="387.50" y2="23.00" stroke="#888" stroke-width="0.6" />
<rect x="383.20" y="22.50" width="2.20" height="1.00" fill="#bbb" />
<line x1="386.00" y1="27.10" x2="387.50" y2="27.10" stroke="#888" stroke-width="0.6" />
<rect x="383.20" y="26.60" width="2.20" height="1.00" fill="#bbb" />
<line x1="386.00" y1="31.20" x2="387.50" y2="31.20" stroke="#888" stroke-width="0.6" />
<rect x="383.20" y="30.70" width="2.20" height="1.00" fill="#bbb" />
<line x1="386.00" y1="35.30" x2="387.50" y2="35.30" stroke="#888" stroke-width="0.6" />
<rect x="383.20" y="34.80" width="2.20" height="1.00" fill="#bbb" />
<line x1="386.00" y1="39.40" x2="387.50" y2="39.40" stroke="#888" stroke-width="0.6" />
<rect x="383.20" y="38.90" width="2.20" height="1.00" fill="#bbb" />
<line x1="386.00" y1="43.50" x2="387.50" y2="43.50" stroke="#888" stroke-width="0.6" />
<rect x="383.20" y="43.00" width="2.20" height="1.00" fill="#bbb" />
<line x1="386.00" y1="47.60" x2="387.50" y2="47.60" stroke="#888" stroke-width="0.6" />
<rect x="383.20" y="47.10" width="2.20" height="1.00" fill="#bbb" />
<line x1="386.00" y1="51.70" x2="387.50" y2="51.70" stroke="#888" stroke-width="0.6" />
<rect x="383.20" y="51.20" width="2.20" height="1.00" fill="#bbb" />
<line x1="386.00" y1="55.80" x2="387.50" y2="55.80" stroke="#888" stroke-width="0.6" />
<rect x="383.20" y="55.30" width="2.20" height="1.00" fill="#bbb" />
<line x1="386.00" y1="59.90" x2="387.50" y2="59.90" stroke="#888" stroke-width="0.6" />
<rect x="383.20" y="59.40" width="2.20" height="1.00" fill="#bbb" />
<line x1="386.00" y1="64.00" x2="387.50" y2="64.00" stroke="#888" stroke-width="0.6" />
<rect x="383.20" y="63.50" width="2.20" height="1.00" fill="#bbb" />
<line x1="386.00" y1="68.10" x2="387.50" y2="68.10" stroke="#888" stroke-width="0.6" />
<rect x="383.20" y="67.60" width="2.20" height="1.00" fill="#bbb" />
<circle cx="399.14" cy="29.58" r="1.10" fill="#2a2aa8" />
<circle cx="400.33" cy="30.03" r="1.10" fill="#2a2aa8" />
<circle cx="402.63" cy="25.99" r="1.10" fill="#2a2aa8" />
<circle cx="397.12" cy="31.78" r="1.10" fill="#2a2aa8" />
<circle cx="399.33" cy="27.26" r="1.10" fill="#2a2aa8" />
<circle cx="405.96" cy="29.03" r="1.10" fill="#2a2aa8" />
<circle cx="404.53" cy="29.07" r="1.10" fill="#2a2aa8" />
<circle cx="402.75" cy="26.63" r="1.10" fill="#2a2aa8" />
<circle cx="402.71" cy="39.94" r="1.10" fill="#2a2aa8" />
<circle cx="401.71" cy="38.93" r="1.10" fill="#2a2aa8" />
<circle cx="403.04" cy="33.51" r="1.10" fill="#2a2aa8" />
<circle cx="422.58" cy="56.14" r="1.15" fill="#d42020" />
<circle cx="418.01" cy="52.22" r="1.15" fill="#d42020" />
<circle cx="423.66" cy="55.31" r="1.15" fill="#d42020" />
<circle cx="422.19" cy="58.15" r="1.15" fill="#d42020" />
<circle cx="422.14" cy="58.45" r="1.15" fill="#d42020" />
<circle cx="418.95" cy="57.61" r="1.15" fill="#d42020" />
<circle cx="419.45" cy="58.55" r="1.15" fill="#d42020" />
<circle cx="423.79" cy="52.68" r="1.15" fill="#d42020" />
<circle cx="416.36" cy="60.84" r="1.15" fill="#d42020" />
<circle cx="424.65" cy="62.71" r="1.15" fill="#d42020" />
<circle cx="421.27" cy="61.56" r="1.15" fill="#d42020" />
<text transform="translate(404.54,43.37) scale(1.0,1)" font-size="12.75" fill="#1e1e1e">***</text>
<line x1="407.70" y1="42.50" x2="413.50" y2="42.50" stroke="#444" stroke-width="0.7" />
<line x1="407.70" y1="40.90" x2="407.70" y2="44.10" stroke="#444" stroke-width="0.7" />
<line x1="413.50" y1="40.90" x2="413.50" y2="44.10" stroke="#444" stroke-width="0.7" />
<text transform="translate(376.50,82.61) rotate(-90) scale(0.8549,1)" font-size="10.5" fill="#1e1e1e" stroke="#1e1e1e" stroke-width="0.28">% of IFN-γ<tspan font-size="7.14" dy="-5.25">+</tspan><tspan dy="5.25"> cells</tspan></text>
<text transform="translate(383.67,95.33) rotate(-45) scale(0.7669,1)" font-size="11.5" fill="#1e1e1e" stroke="#1e1e1e" stroke-width="0.28">Vehicle</text>
<text transform="translate(406.37,95.63) rotate(-45) scale(0.8252,1)" font-size="11.5" fill="#1e1e1e" stroke="#1e1e1e" stroke-width="0.28">Exo<tspan font-size="6.33" dy="-4.14">MSC</tspan></text>
<line x1="466.50" y1="24.20" x2="466.50" y2="68.50" stroke="#606060" stroke-width="0.9" />
<line x1="466.50" y1="68.50" x2="507.80" y2="68.50" stroke="#606060" stroke-width="0.9" />
<line x1="460.00" y1="24.20" x2="466.50" y2="24.20" stroke="#555" stroke-width="1.1" />
<line x1="460.00" y1="29.70" x2="466.50" y2="29.70" stroke="#555" stroke-width="1.1" />
<line x1="460.00" y1="35.20" x2="466.50" y2="35.20" stroke="#555" stroke-width="1.1" />
<line x1="460.00" y1="40.70" x2="466.50" y2="40.70" stroke="#555" stroke-width="1.1" />
<line x1="460.00" y1="46.20" x2="466.50" y2="46.20" stroke="#555" stroke-width="1.1" />
<line x1="460.00" y1="51.70" x2="466.50" y2="51.70" stroke="#555" stroke-width="1.1" />
<line x1="460.00" y1="57.20" x2="466.50" y2="57.20" stroke="#555" stroke-width="1.1" />
<line x1="460.00" y1="62.70" x2="466.50" y2="62.70" stroke="#555" stroke-width="1.1" />
<line x1="460.00" y1="68.20" x2="466.50" y2="68.20" stroke="#555" stroke-width="1.1" />
<line x1="479.50" y1="32.50" x2="479.50" y2="27.70" stroke="#1111ee" stroke-width="0.9" />
<line x1="477.30" y1="27.70" x2="481.70" y2="27.70" stroke="#1111ee" stroke-width="0.9" />
<rect x="473.30" y="32.50" width="12.40" height="35.80" fill="#1111ee" />
<rect x="473.30" y="32.50" width="12.40" height="35.80" fill="none" stroke="#0a0a9a" stroke-width="0.6"/>
<rect x="492.00" y="63.70" width="12.00" height="4.60" fill="#ee1515" />
<rect x="492.00" y="63.70" width="12.00" height="4.60" fill="none" stroke="#a01010" stroke-width="0.6"/>
<text transform="translate(487.10,59.15) scale(1.0,1)" font-size="13.5" fill="#1e1e1e">***</text>
<line x1="488.00" y1="58.00" x2="496.62" y2="58.00" stroke="#333" stroke-width="0.8" />
<path d="M498.50,58.00 L496.12,56.64 L496.12,59.36 Z" fill="#333" stroke="none" stroke-width="1" />
<text transform="translate(455.80,71.88) rotate(-90) scale(0.9987,1)" font-size="11" fill="#1e1e1e" stroke="#1e1e1e" stroke-width="0.28">MFI-IFN-γ</text>
<text transform="translate(462.17,94.83) rotate(-45) scale(0.7669,1)" font-size="11.5" fill="#1e1e1e" stroke="#1e1e1e" stroke-width="0.28">Vehicle</text>
<text transform="translate(484.37,95.13) rotate(-45) scale(0.8252,1)" font-size="11.5" fill="#1e1e1e" stroke="#1e1e1e" stroke-width="0.28">Exo<tspan font-size="6.33" dy="-4.14">MSC</tspan></text>
<text transform="translate(377.76,120.80) scale(0.8927,1)" font-size="10.5" fill="#1e1e1e" stroke="#1e1e1e" stroke-width="0.28" >IFN-γ expressing CD4<tspan font-size="7.14" dy="-5.25">+</tspan><tspan dy="5.25"> T cells</tspan></text>
<line x1="386.50" y1="132.20" x2="386.50" y2="177.50" stroke="#606060" stroke-width="0.9" />
<line x1="386.50" y1="177.50" x2="425.80" y2="177.50" stroke="#606060" stroke-width="0.9" />
<line x1="385.00" y1="132.20" x2="386.50" y2="132.20" stroke="#888" stroke-width="0.6" />
<rect x="382.20" y="131.70" width="2.20" height="1.00" fill="#bbb" />
<line x1="385.00" y1="136.30" x2="386.50" y2="136.30" stroke="#888" stroke-width="0.6" />
<rect x="382.20" y="135.80" width="2.20" height="1.00" fill="#bbb" />
<line x1="385.00" y1="140.40" x2="386.50" y2="140.40" stroke="#888" stroke-width="0.6" />
<rect x="382.20" y="139.90" width="2.20" height="1.00" fill="#bbb" />
<line x1="385.00" y1="144.50" x2="386.50" y2="144.50" stroke="#888" stroke-width="0.6" />
<rect x="382.20" y="144.00" width="2.20" height="1.00" fill="#bbb" />
<line x1="385.00" y1="148.60" x2="386.50" y2="148.60" stroke="#888" stroke-width="0.6" />
<rect x="382.20" y="148.10" width="2.20" height="1.00" fill="#bbb" />
<line x1="385.00" y1="152.70" x2="386.50" y2="152.70" stroke="#888" stroke-width="0.6" />
<rect x="382.20" y="152.20" width="2.20" height="1.00" fill="#bbb" />
<line x1="385.00" y1="156.80" x2="386.50" y2="156.80" stroke="#888" stroke-width="0.6" />
<rect x="382.20" y="156.30" width="2.20" height="1.00" fill="#bbb" />
<line x1="385.00" y1="160.90" x2="386.50" y2="160.90" stroke="#888" stroke-width="0.6" />
<rect x="382.20" y="160.40" width="2.20" height="1.00" fill="#bbb" />
<line x1="385.00" y1="165.00" x2="386.50" y2="165.00" stroke="#888" stroke-width="0.6" />
<rect x="382.20" y="164.50" width="2.20" height="1.00" fill="#bbb" />
<line x1="385.00" y1="169.10" x2="386.50" y2="169.10" stroke="#888" stroke-width="0.6" />
<rect x="382.20" y="168.60" width="2.20" height="1.00" fill="#bbb" />
<line x1="385.00" y1="173.20" x2="386.50" y2="173.20" stroke="#888" stroke-width="0.6" />
<rect x="382.20" y="172.70" width="2.20" height="1.00" fill="#bbb" />
<line x1="385.00" y1="177.30" x2="386.50" y2="177.30" stroke="#888" stroke-width="0.6" />
<rect x="382.20" y="176.80" width="2.20" height="1.00" fill="#bbb" />
<circle cx="399.98" cy="142.75" r="1.10" fill="#2a2aa8" />
<circle cx="401.36" cy="144.50" r="1.10" fill="#2a2aa8" />
<circle cx="400.92" cy="144.32" r="1.10" fill="#2a2aa8" />
<circle cx="395.23" cy="140.35" r="1.10" fill="#2a2aa8" />
<circle cx="402.55" cy="141.95" r="1.10" fill="#2a2aa8" />
<circle cx="402.21" cy="137.28" r="1.10" fill="#2a2aa8" />
<circle cx="398.75" cy="138.45" r="1.10" fill="#2a2aa8" />
<circle cx="399.35" cy="141.29" r="1.10" fill="#2a2aa8" />
<circle cx="395.10" cy="146.15" r="1.10" fill="#2a2aa8" />
<circle cx="397.24" cy="149.86" r="1.10" fill="#2a2aa8" />
<circle cx="401.13" cy="145.85" r="1.10" fill="#2a2aa8" />
<circle cx="420.34" cy="165.23" r="1.15" fill="#d42020" />
<circle cx="419.14" cy="165.15" r="1.15" fill="#d42020" />
<circle cx="415.01" cy="170.14" r="1.15" fill="#d42020" />
<circle cx="416.40" cy="165.74" r="1.15" fill="#d42020" />
<circle cx="421.58" cy="170.15" r="1.15" fill="#d42020" />
<circle cx="416.94" cy="170.74" r="1.15" fill="#d42020" />
<circle cx="418.61" cy="168.84" r="1.15" fill="#d42020" />
<circle cx="416.37" cy="170.60" r="1.15" fill="#d42020" />
<circle cx="419.63" cy="174.09" r="1.15" fill="#d42020" />
<circle cx="420.99" cy="171.96" r="1.15" fill="#d42020" />
<circle cx="417.42" cy="171.53" r="1.15" fill="#d42020" />
<text transform="translate(403.94,155.07) scale(1.0,1)" font-size="12.75" fill="#1e1e1e">***</text>
<line x1="407.00" y1="154.10" x2="412.30" y2="154.10" stroke="#444" stroke-width="0.7" />
<line x1="407.00" y1="152.50" x2="407.00" y2="155.70" stroke="#444" stroke-width="0.7" />
<line x1="412.30" y1="152.50" x2="412.30" y2="155.70" stroke="#444" stroke-width="0.7" />
<text transform="translate(376.50,195.14) rotate(-90) scale(0.9199,1)" font-size="10.5" fill="#1e1e1e" stroke="#1e1e1e" stroke-width="0.28">% of IFN-γ<tspan font-size="7.14" dy="-5.25">+</tspan><tspan dy="5.25"> cells</tspan></text>
<text transform="translate(381.47,203.83) rotate(-45) scale(0.7669,1)" font-size="11.5" fill="#1e1e1e" stroke="#1e1e1e" stroke-width="0.28">Vehicle</text>
<text transform="translate(404.37,203.63) rotate(-45) scale(0.8252,1)" font-size="11.5" fill="#1e1e1e" stroke="#1e1e1e" stroke-width="0.28">Exo<tspan font-size="6.33" dy="-4.14">MSC</tspan></text>
<line x1="468.50" y1="130.50" x2="468.50" y2="176.50" stroke="#606060" stroke-width="0.9" />
<line x1="468.50" y1="176.50" x2="506.00" y2="176.50" stroke="#606060" stroke-width="0.9" />
<line x1="462.00" y1="130.50" x2="468.50" y2="130.50" stroke="#555" stroke-width="1.1" />
<line x1="462.00" y1="136.30" x2="468.50" y2="136.30" stroke="#555" stroke-width="1.1" />
<line x1="462.00" y1="142.10" x2="468.50" y2="142.10" stroke="#555" stroke-width="1.1" />
<line x1="462.00" y1="147.90" x2="468.50" y2="147.90" stroke="#555" stroke-width="1.1" />
<line x1="462.00" y1="153.70" x2="468.50" y2="153.70" stroke="#555" stroke-width="1.1" />
<line x1="462.00" y1="159.50" x2="468.50" y2="159.50" stroke="#555" stroke-width="1.1" />
<line x1="462.00" y1="165.30" x2="468.50" y2="165.30" stroke="#555" stroke-width="1.1" />
<line x1="462.00" y1="171.10" x2="468.50" y2="171.10" stroke="#555" stroke-width="1.1" />
<line x1="479.35" y1="141.50" x2="479.35" y2="135.70" stroke="#1111ee" stroke-width="0.9" />
<line x1="477.15" y1="135.70" x2="481.55" y2="135.70" stroke="#1111ee" stroke-width="0.9" />
<rect x="473.30" y="141.50" width="12.10" height="35.30" fill="#1111ee" />
<rect x="473.30" y="141.50" width="12.10" height="35.30" fill="none" stroke="#0a0a9a" stroke-width="0.6"/>
<rect x="492.30" y="171.60" width="12.10" height="5.20" fill="#ee1515" />
<rect x="492.30" y="171.60" width="12.10" height="5.20" fill="none" stroke="#a01010" stroke-width="0.6"/>
<text transform="translate(487.40,166.55) scale(1.0,1)" font-size="13.5" fill="#1e1e1e">***</text>
<line x1="488.00" y1="165.50" x2="496.62" y2="165.50" stroke="#333" stroke-width="0.8" />
<path d="M498.50,165.50 L496.12,164.14 L496.12,166.86 Z" fill="#333" stroke="none" stroke-width="1" />
<text transform="translate(458.00,178.89) rotate(-90) scale(1.0090,1)" font-size="11" fill="#1e1e1e" stroke="#1e1e1e" stroke-width="0.28">MFI-IFN-γ</text>
<text transform="translate(463.17,203.83) rotate(-45) scale(0.7669,1)" font-size="11.5" fill="#1e1e1e" stroke="#1e1e1e" stroke-width="0.28">Vehicle</text>
<text transform="translate(485.37,204.13) rotate(-45) scale(0.8252,1)" font-size="11.5" fill="#1e1e1e" stroke="#1e1e1e" stroke-width="0.28">Exo<tspan font-size="6.33" dy="-4.14">MSC</tspan></text>
<text transform="translate(0.59,231.00) scale(0.9701,1)" font-size="12.5" fill="#1e1e1e" stroke="#1e1e1e" stroke-width="0.38" >C</text>
<text transform="translate(19.05,239.20) scale(0.8956,1)" font-size="10.5" fill="#1e1e1e" stroke="#1e1e1e" stroke-width="0.28" >M-MDSC : T cell ratio</text>
<text transform="translate(34.93,250.70) scale(1.0594,1)" font-size="11" fill="#1e1e1e" stroke="#1e1e1e" stroke-width="0.28" >1:1</text>
<text transform="translate(79.54,250.70) scale(1.0453,1)" font-size="11" fill="#1e1e1e" stroke="#1e1e1e" stroke-width="0.28" >1:10</text>
<text transform="translate(127.06,250.50) scale(1.0206,1)" font-size="11" fill="#1e1e1e" stroke="#1e1e1e" stroke-width="0.28" >1:20</text>
<rect x="19.60" y="252.60" width="44.70" height="45.30" fill="#ffffff" />
<path d="M20.10,297.90 L20.10,297.90 L20.45,297.90 L20.80,297.90 L21.15,297.90 L21.50,297.90 L21.85,297.90 L22.20,297.90 L22.55,297.90 L22.90,297.90 L23.25,297.90 L23.60,297.90 L23.95,297.90 L24.30,297.90 L24.65,297.90 L25.00,297.90 L25.35,297.90 L25.70,297.90 L26.05,297.90 L26.40,297.90 L26.75,297.90 L27.10,297.90 L27.45,297.90 L27.80,297.90 L28.15,297.90 L28.50,297.90 L28.85,297.90 L29.20,297.90 L29.55,297.90 L29.90,297.90 L30.25,297.90 L30.60,297.90 L30.95,297.90 L31.30,297.90 L31.65,297.90 L32.00,297.90 L32.35,297.90 L32.70,297.90 L33.05,297.90 L33.40,297.90 L33.75,297.90 L34.10,297.90 L34.45,297.90 L34.80,297.90 L35.15,297.90 L35.50,297.90 L35.85,297.90 L36.20,297.90 L36.55,297.90 L36.90,297.90 L37.25,297.90 L37.60,297.90 L37.95,297.90 L38.30,297.90 L38.65,297.90 L39.00,297.90 L39.35,297.90 L39.70,297.90 L40.05,297.90 L40.40,297.90 L40.75,297.90 L41.10,297.90 L41.45,297.90 L41.80,297.90 L42.15,297.90 L42.50,297.90 L42.85,297.90 L43.20,297.89 L43.55,297.89 L43.90,297.88 L44.25,297.87 L44.60,297.86 L44.95,297.82 L45.30,297.74 L45.65,297.55 L46.00,297.18 L46.35,296.54 L46.70,295.67 L47.05,294.78 L47.40,294.16 L47.75,293.95 L48.10,293.63 L48.45,291.74 L48.80,287.21 L49.15,282.67 L49.50,282.85 L49.85,287.34 L50.20,291.39 L50.55,292.87 L50.90,292.63 L51.25,290.68 L51.60,284.77 L51.95,274.04 L52.30,265.45 L52.65,268.09 L53.00,278.94 L53.35,287.98 L53.70,291.96 L54.05,293.24 L54.40,293.30 L54.75,291.01 L55.10,284.37 L55.45,276.02 L55.80,274.31 L56.15,281.76 L56.50,290.83 L56.85,295.74 L57.20,297.27 L57.55,297.63 L57.90,297.74 L58.25,297.80 L58.60,297.84 L58.95,297.87 L59.30,297.88 L59.65,297.89 L60.00,297.89 L60.35,297.90 L60.70,297.90 L61.05,297.90 L61.40,297.90 L61.75,297.90 L62.10,297.90 L62.45,297.90 L62.80,297.90 L63.15,297.90 L63.50,297.90 L63.80,297.90 Z" fill="#f28e8e" stroke="#b82020" stroke-width="0.7" />
<path d="M20.10,282.50 L20.10,282.50 L20.45,282.50 L20.80,282.50 L21.15,282.50 L21.50,282.50 L21.85,282.50 L22.20,282.50 L22.55,282.50 L22.90,282.50 L23.25,282.50 L23.60,282.50 L23.95,282.50 L24.30,282.50 L24.65,282.50 L25.00,282.50 L25.35,282.50 L25.70,282.50 L26.05,282.50 L26.40,282.50 L26.75,282.50 L27.10,282.49 L27.45,282.49 L27.80,282.48 L28.15,282.48 L28.50,282.47 L28.85,282.45 L29.20,282.42 L29.55,282.32 L29.90,281.94 L30.25,280.72 L30.60,277.65 L30.95,271.86 L31.30,264.08 L31.65,257.44 L32.00,255.46 L32.35,257.32 L32.70,261.04 L33.05,264.85 L33.40,267.76 L33.75,269.94 L34.10,271.69 L34.45,272.88 L34.80,273.69 L35.15,274.06 L35.50,273.92 L35.85,273.44 L36.20,273.01 L36.55,273.05 L36.90,273.75 L37.25,274.86 L37.60,275.86 L37.95,276.23 L38.30,275.81 L38.65,274.90 L39.00,274.19 L39.35,274.26 L39.70,275.16 L40.05,276.40 L40.40,277.30 L40.75,277.45 L41.10,276.92 L41.45,276.26 L41.80,276.06 L42.15,276.60 L42.50,277.66 L42.85,278.70 L43.20,279.25 L43.55,279.14 L43.90,278.62 L44.25,278.15 L44.60,278.15 L44.95,278.65 L45.30,279.47 L45.65,280.37 L46.00,281.12 L46.35,281.64 L46.70,281.95 L47.05,282.12 L47.40,282.21 L47.75,282.27 L48.10,282.31 L48.45,282.34 L48.80,282.37 L49.15,282.39 L49.50,282.41 L49.85,282.43 L50.20,282.44 L50.55,282.46 L50.90,282.46 L51.25,282.47 L51.60,282.48 L51.95,282.48 L52.30,282.49 L52.65,282.49 L53.00,282.49 L53.35,282.49 L53.70,282.50 L54.05,282.50 L54.40,282.50 L54.75,282.50 L55.10,282.50 L55.45,282.50 L55.80,282.50 L56.15,282.50 L56.50,282.50 L56.85,282.50 L57.20,282.50 L57.55,282.50 L57.90,282.50 L58.25,282.50 L58.60,282.50 L58.95,282.50 L59.30,282.50 L59.65,282.50 L60.00,282.50 L60.35,282.50 L60.70,282.50 L61.05,282.50 L61.40,282.50 L61.75,282.50 L62.10,282.50 L62.45,282.50 L62.80,282.50 L63.15,282.50 L63.50,282.50 L63.80,282.50 Z" fill="#6c6cea" stroke="#1c1cc0" stroke-width="0.8" fill-opacity="0.88"/>
<line x1="19.60" y1="282.50" x2="64.30" y2="282.50" stroke="#5a64d0" stroke-width="0.8" />
<line x1="19.60" y1="297.90" x2="64.30" y2="297.90" stroke="#c04040" stroke-width="0.8" />
<rect x="19.60" y="252.60" width="44.70" height="45.30" fill="none" stroke="#8a8a8a" stroke-width="0.8"/>
<rect x="68.00" y="252.80" width="44.50" height="44.40" fill="#ffffff" />
<path d="M68.50,297.20 L68.50,297.20 L68.85,297.20 L69.20,297.20 L69.55,297.20 L69.90,297.20 L70.25,297.20 L70.60,297.20 L70.95,297.20 L71.30,297.20 L71.65,297.20 L72.00,297.20 L72.35,297.20 L72.70,297.20 L73.05,297.20 L73.40,297.20 L73.75,297.20 L74.10,297.20 L74.45,297.20 L74.80,297.20 L75.15,297.20 L75.50,297.20 L75.85,297.20 L76.20,297.20 L76.55,297.20 L76.90,297.20 L77.25,297.20 L77.60,297.19 L77.95,297.19 L78.30,297.17 L78.65,297.11 L79.00,296.96 L79.35,296.54 L79.70,295.57 L80.05,293.77 L80.40,291.23 L80.75,288.60 L81.10,286.72 L81.45,285.81 L81.80,285.30 L82.15,284.40 L82.50,282.71 L82.85,280.35 L83.20,277.82 L83.55,275.72 L83.90,275.07 L84.25,276.10 L84.60,277.99 L84.95,279.59 L85.30,280.19 L85.65,279.57 L86.00,277.92 L86.35,275.93 L86.70,274.74 L87.05,275.16 L87.40,276.94 L87.75,279.02 L88.10,280.41 L88.45,280.64 L88.80,279.66 L89.15,277.88 L89.50,276.20 L89.85,275.74 L90.20,276.89 L90.55,278.97 L90.90,280.87 L91.25,281.81 L91.60,281.57 L91.95,280.32 L92.30,278.63 L92.65,277.54 L93.00,277.90 L93.35,279.62 L93.70,281.78 L94.05,283.38 L94.40,283.95 L94.75,283.42 L95.10,282.10 L95.45,280.72 L95.80,280.28 L96.15,281.24 L96.50,283.15 L96.85,285.05 L97.20,286.24 L97.55,286.46 L97.90,285.83 L98.25,284.75 L98.60,283.98 L98.95,284.25 L99.30,285.60 L99.65,287.40 L100.00,288.87 L100.35,289.62 L100.70,289.59 L101.05,288.97 L101.40,288.26 L101.75,288.13 L102.10,288.94 L102.45,290.43 L102.80,291.89 L103.15,292.76 L103.50,292.97 L103.85,292.89 L104.20,293.06 L104.55,293.66 L104.90,294.53 L105.25,295.43 L105.60,296.14 L105.95,296.61 L106.30,296.87 L106.65,297.01 L107.00,297.08 L107.35,297.13 L107.70,297.16 L108.05,297.17 L108.40,297.18 L108.75,297.19 L109.10,297.19 L109.45,297.20 L109.80,297.20 L110.15,297.20 L110.50,297.20 L110.85,297.20 L111.20,297.20 L111.55,297.20 L111.90,297.20 L112.00,297.20 Z" fill="#f28e8e" stroke="#b82020" stroke-width="0.7" />
<path d="M68.50,282.50 L68.50,282.50 L68.85,282.50 L69.20,282.50 L69.55,282.50 L69.90,282.50 L70.25,282.50 L70.60,282.50 L70.95,282.50 L71.30,282.50 L71.65,282.50 L72.00,282.50 L72.35,282.50 L72.70,282.50 L73.05,282.50 L73.40,282.50 L73.75,282.50 L74.10,282.50 L74.45,282.50 L74.80,282.50 L75.15,282.50 L75.50,282.50 L75.85,282.50 L76.20,282.50 L76.55,282.50 L76.90,282.50 L77.25,282.50 L77.60,282.49 L77.95,282.44 L78.30,282.21 L78.65,281.34 L79.00,278.91 L79.35,273.90 L79.70,266.42 L80.05,259.09 L80.40,255.89 L80.75,257.20 L81.10,260.71 L81.45,264.82 L81.80,267.98 L82.15,269.58 L82.50,270.25 L82.85,271.17 L83.20,272.42 L83.55,273.78 L83.90,275.06 L84.25,275.89 L84.60,276.06 L84.95,275.75 L85.30,275.54 L85.65,275.97 L86.00,277.01 L86.35,278.33 L86.70,279.44 L87.05,279.94 L87.40,279.72 L87.75,279.08 L88.10,278.53 L88.45,278.53 L88.80,279.15 L89.15,280.05 L89.50,280.77 L89.85,281.00 L90.20,280.75 L90.55,280.29 L90.90,280.00 L91.25,280.07 L91.60,280.41 L91.95,280.91 L92.30,281.43 L92.65,281.86 L93.00,282.16 L93.35,282.34 L93.70,282.43 L94.05,282.48 L94.40,282.49 L94.75,282.50 L95.10,282.50 L95.45,282.50 L95.80,282.50 L96.15,282.50 L96.50,282.50 L96.85,282.50 L97.20,282.50 L97.55,282.50 L97.90,282.50 L98.25,282.50 L98.60,282.50 L98.95,282.50 L99.30,282.50 L99.65,282.50 L100.00,282.50 L100.35,282.50 L100.70,282.50 L101.05,282.50 L101.40,282.50 L101.75,282.50 L102.10,282.50 L102.45,282.50 L102.80,282.50 L103.15,282.50 L103.50,282.50 L103.85,282.50 L104.20,282.50 L104.55,282.50 L104.90,282.50 L105.25,282.50 L105.60,282.50 L105.95,282.50 L106.30,282.50 L106.65,282.50 L107.00,282.50 L107.35,282.50 L107.70,282.50 L108.05,282.50 L108.40,282.50 L108.75,282.50 L109.10,282.50 L109.45,282.50 L109.80,282.50 L110.15,282.50 L110.50,282.50 L110.85,282.50 L111.20,282.50 L111.55,282.50 L111.90,282.50 L112.00,282.50 Z" fill="#6c6cea" stroke="#1c1cc0" stroke-width="0.8" fill-opacity="0.88"/>
<line x1="68.00" y1="282.50" x2="112.50" y2="282.50" stroke="#5a64d0" stroke-width="0.8" />
<line x1="68.00" y1="297.20" x2="112.50" y2="297.20" stroke="#c04040" stroke-width="0.8" />
<rect x="68.00" y="252.80" width="44.50" height="44.40" fill="none" stroke="#8a8a8a" stroke-width="0.8"/>
<rect x="116.70" y="252.80" width="44.80" height="44.40" fill="#ffffff" />
<path d="M117.20,297.20 L117.20,297.20 L117.55,297.20 L117.90,297.20 L118.25,297.20 L118.60,297.20 L118.95,297.20 L119.30,297.20 L119.65,297.20 L120.00,297.20 L120.35,297.20 L120.70,297.20 L121.05,297.20 L121.40,297.20 L121.75,297.20 L122.10,297.20 L122.45,297.20 L122.80,297.19 L123.15,297.19 L123.50,297.18 L123.85,297.18 L124.20,297.16 L124.55,297.14 L124.90,297.11 L125.25,297.07 L125.60,297.01 L125.95,296.93 L126.30,296.82 L126.65,296.65 L127.00,296.23 L127.35,294.88 L127.70,291.12 L128.05,283.63 L128.40,274.21 L128.75,268.64 L129.10,269.94 L129.45,275.11 L129.80,281.27 L130.15,285.42 L130.50,285.71 L130.85,282.51 L131.20,278.91 L131.55,278.64 L131.90,282.29 L132.25,287.07 L132.60,290.29 L132.95,291.41 L133.30,290.69 L133.65,288.31 L134.00,285.19 L134.35,283.56 L134.70,285.04 L135.05,288.65 L135.40,292.03 L135.75,293.87 L136.10,294.11 L136.45,292.94 L136.80,290.86 L137.15,289.27 L137.50,289.65 L137.85,291.85 L138.20,294.32 L138.55,295.85 L138.90,296.26 L139.25,295.75 L139.60,294.57 L139.95,293.38 L140.30,293.13 L140.65,293.87 L141.00,295.06 L141.35,296.12 L141.70,296.77 L142.05,297.06 L142.40,297.16 L142.75,297.19 L143.10,297.19 L143.45,297.20 L143.80,297.20 L144.15,297.20 L144.50,297.20 L144.85,297.20 L145.20,297.20 L145.55,297.20 L145.90,297.20 L146.25,297.20 L146.60,297.20 L146.95,297.20 L147.30,297.20 L147.65,297.20 L148.00,297.20 L148.35,297.20 L148.70,297.20 L149.05,297.20 L149.40,297.20 L149.75,297.20 L150.10,297.20 L150.45,297.20 L150.80,297.20 L151.15,297.20 L151.50,297.20 L151.85,297.20 L152.20,297.20 L152.55,297.20 L152.90,297.20 L153.25,297.20 L153.60,297.20 L153.95,297.20 L154.30,297.20 L154.65,297.20 L155.00,297.20 L155.35,297.20 L155.70,297.20 L156.05,297.20 L156.40,297.20 L156.75,297.20 L157.10,297.20 L157.45,297.20 L157.80,297.20 L158.15,297.20 L158.50,297.20 L158.85,297.20 L159.20,297.20 L159.55,297.20 L159.90,297.20 L160.25,297.20 L160.60,297.20 L160.95,297.20 L161.00,297.20 Z" fill="#f28e8e" stroke="#b82020" stroke-width="0.7" />
<path d="M117.20,282.50 L117.20,282.50 L117.55,282.50 L117.90,282.50 L118.25,282.50 L118.60,282.50 L118.95,282.50 L119.30,282.50 L119.65,282.50 L120.00,282.50 L120.35,282.50 L120.70,282.50 L121.05,282.50 L121.40,282.50 L121.75,282.50 L122.10,282.50 L122.45,282.50 L122.80,282.50 L123.15,282.50 L123.50,282.50 L123.85,282.50 L124.20,282.50 L124.55,282.50 L124.90,282.50 L125.25,282.50 L125.60,282.50 L125.95,282.49 L126.30,282.45 L126.65,282.26 L127.00,281.53 L127.35,279.40 L127.70,274.79 L128.05,267.57 L128.40,259.97 L128.75,255.97 L129.10,256.82 L129.45,260.04 L129.80,264.05 L130.15,267.20 L130.50,268.75 L130.85,269.25 L131.20,269.96 L131.55,271.21 L131.90,272.61 L132.25,274.02 L132.60,275.12 L132.95,275.66 L133.30,275.69 L133.65,275.57 L134.00,275.77 L134.35,276.57 L134.70,277.86 L135.05,279.24 L135.40,280.28 L135.75,280.70 L136.10,280.51 L136.45,279.98 L136.80,279.54 L137.15,279.53 L137.50,279.91 L137.85,280.54 L138.20,281.15 L138.55,281.53 L138.90,281.59 L139.25,281.40 L139.60,281.13 L139.95,280.99 L140.30,281.06 L140.65,281.28 L141.00,281.59 L141.35,281.90 L141.70,282.15 L142.05,282.32 L142.40,282.42 L142.75,282.47 L143.10,282.49 L143.45,282.50 L143.80,282.50 L144.15,282.50 L144.50,282.50 L144.85,282.50 L145.20,282.50 L145.55,282.50 L145.90,282.50 L146.25,282.50 L146.60,282.50 L146.95,282.50 L147.30,282.50 L147.65,282.50 L148.00,282.50 L148.35,282.50 L148.70,282.50 L149.05,282.50 L149.40,282.50 L149.75,282.50 L150.10,282.50 L150.45,282.50 L150.80,282.50 L151.15,282.50 L151.50,282.50 L151.85,282.50 L152.20,282.50 L152.55,282.50 L152.90,282.50 L153.25,282.50 L153.60,282.50 L153.95,282.50 L154.30,282.50 L154.65,282.50 L155.00,282.50 L155.35,282.50 L155.70,282.50 L156.05,282.50 L156.40,282.50 L156.75,282.50 L157.10,282.50 L157.45,282.50 L157.80,282.50 L158.15,282.50 L158.50,282.50 L158.85,282.50 L159.20,282.50 L159.55,282.50 L159.90,282.50 L160.25,282.50 L160.60,282.50 L160.95,282.50 L161.00,282.50 Z" fill="#6c6cea" stroke="#1c1cc0" stroke-width="0.8" fill-opacity="0.88"/>
<line x1="116.70" y1="282.50" x2="161.50" y2="282.50" stroke="#5a64d0" stroke-width="0.8" />
<line x1="116.70" y1="297.20" x2="161.50" y2="297.20" stroke="#c04040" stroke-width="0.8" />
<rect x="116.70" y="252.80" width="44.80" height="44.40" fill="none" stroke="#8a8a8a" stroke-width="0.8"/>
<line x1="154.20" y1="256.40" x2="163.10" y2="256.40" stroke="#2020d0" stroke-width="1.0" />
<line x1="154.20" y1="265.50" x2="163.10" y2="265.50" stroke="#d02020" stroke-width="1.0" />
<text transform="translate(163.75,259.00) scale(0.8762,1)" font-size="11" fill="#1e1e1e" stroke="#1e1e1e" stroke-width="0.28" >Vehicle</text>
<text transform="translate(163.00,268.20) scale(0.9107,1)" font-size="11" fill="#1e1e1e" stroke="#1e1e1e" stroke-width="0.28" >Exo<tspan font-size="6.05" dy="-3.96">MSC</tspan></text>
<text transform="translate(21.83,308.80) scale(0.8878,1)" font-size="10.5" fill="#1e1e1e" stroke="#1e1e1e" stroke-width="0.28" >Cell trace</text>
<line x1="64.30" y1="305.40" x2="72.30" y2="305.40" stroke="#1e1e1e" stroke-width="1.25" />
<path d="M75.40,305.40 L71.80,303.30 L71.80,307.50 Z" fill="#1e1e1e" stroke="none" stroke-width="1" />
<text transform="translate(15.00,319.44) rotate(-90) scale(0.8421,1)" font-size="11" fill="#1e1e1e" stroke="#1e1e1e" stroke-width="0.28">Normalized to mode</text>
<line x1="214.50" y1="251.30" x2="214.50" y2="295.50" stroke="#606060" stroke-width="0.9" />
<line x1="214.50" y1="295.50" x2="258.50" y2="295.50" stroke="#606060" stroke-width="0.9" />
<line x1="212.70" y1="251.30" x2="214.50" y2="251.30" stroke="#888" stroke-width="0.6" />
<rect x="209.90" y="250.80" width="2.20" height="1.00" fill="#bbb" />
<line x1="212.70" y1="260.06" x2="214.50" y2="260.06" stroke="#888" stroke-width="0.6" />
<rect x="209.90" y="259.56" width="2.20" height="1.00" fill="#bbb" />
<line x1="212.70" y1="268.82" x2="214.50" y2="268.82" stroke="#888" stroke-width="0.6" />
<rect x="209.90" y="268.32" width="2.20" height="1.00" fill="#bbb" />
<line x1="212.70" y1="277.58" x2="214.50" y2="277.58" stroke="#888" stroke-width="0.6" />
<rect x="209.90" y="277.08" width="2.20" height="1.00" fill="#bbb" />
<line x1="212.70" y1="286.34" x2="214.50" y2="286.34" stroke="#888" stroke-width="0.6" />
<rect x="209.90" y="285.84" width="2.20" height="1.00" fill="#bbb" />
<line x1="212.70" y1="295.10" x2="214.50" y2="295.10" stroke="#888" stroke-width="0.6" />
<rect x="209.90" y="294.60" width="2.20" height="1.00" fill="#bbb" />
<rect x="216.00" y="252.80" width="6.00" height="42.30" fill="#1111ee" />
<rect x="216.00" y="252.80" width="6.00" height="42.30" fill="none" stroke="#0a0a9a" stroke-width="0.6"/>
<rect x="223.00" y="282.40" width="5.30" height="12.70" fill="#ee1515" />
<rect x="223.00" y="282.40" width="5.30" height="12.70" fill="none" stroke="#a01010" stroke-width="0.6"/>
<rect x="230.40" y="252.80" width="5.70" height="42.30" fill="#1111ee" />
<rect x="230.40" y="252.80" width="5.70" height="42.30" fill="none" stroke="#0a0a9a" stroke-width="0.6"/>
<rect x="236.70" y="255.50" width="6.00" height="39.60" fill="#ee1515" />
<rect x="236.70" y="255.50" width="6.00" height="39.60" fill="none" stroke="#a01010" stroke-width="0.6"/>
<rect x="244.60" y="252.80" width="5.40" height="42.30" fill="#1111ee" />
<rect x="244.60" y="252.80" width="5.40" height="42.30" fill="none" stroke="#0a0a9a" stroke-width="0.6"/>
<rect x="251.00" y="252.80" width="5.80" height="42.30" fill="#ee1515" />
<rect x="251.00" y="252.80" width="5.80" height="42.30" fill="none" stroke="#a01010" stroke-width="0.6"/>
<text transform="translate(221.61,268.39) scale(1.0,1)" font-size="11.25" fill="#1e1e1e">**</text>
<line x1="223.70" y1="268.50" x2="228.50" y2="268.50" stroke="#444" stroke-width="0.7" />
<line x1="223.70" y1="267.20" x2="223.70" y2="269.80" stroke="#444" stroke-width="0.7" />
<line x1="228.50" y1="267.20" x2="228.50" y2="269.80" stroke="#444" stroke-width="0.7" />
<text transform="translate(237.31,253.69) scale(1.0,1)" font-size="11.25" fill="#1e1e1e">*</text>
<line x1="237.20" y1="251.60" x2="242.30" y2="251.60" stroke="#444" stroke-width="0.7" />
<line x1="237.20" y1="250.50" x2="237.20" y2="252.70" stroke="#444" stroke-width="0.7" />
<line x1="242.30" y1="250.50" x2="242.30" y2="252.70" stroke="#444" stroke-width="0.7" />
<text transform="translate(246.47,250.70) scale(0.7843,1)" font-size="8.5" fill="#1e1e1e" stroke="#1e1e1e" stroke-width="0.28" >NS</text>
<text transform="translate(205.50,303.92) rotate(-90) scale(0.8402,1)" font-size="11" fill="#1e1e1e" stroke="#1e1e1e" stroke-width="0.28">% proliferated</text>
<text transform="translate(225.80,311.20) rotate(-90) scale(0.8924,1)" font-size="10.5" fill="#1e1e1e" stroke="#1e1e1e" stroke-width="0.28">1:1</text>
<text transform="translate(240.40,318.27) rotate(-90) scale(0.9809,1)" font-size="10.5" fill="#1e1e1e" stroke="#1e1e1e" stroke-width="0.28">1:10</text>
<text transform="translate(255.00,318.27) rotate(-90) scale(0.9809,1)" font-size="10.5" fill="#1e1e1e" stroke="#1e1e1e" stroke-width="0.28">1:20</text>
<text transform="translate(23.21,344.00) scale(0.9027,1)" font-size="10.5" fill="#1e1e1e" stroke="#1e1e1e" stroke-width="0.28" >TAM : T cell ratio</text>
<text transform="translate(34.63,354.60) scale(1.0523,1)" font-size="11" fill="#1e1e1e" stroke="#1e1e1e" stroke-width="0.28" >1:1</text>
<text transform="translate(79.54,354.30) scale(1.0453,1)" font-size="11" fill="#1e1e1e" stroke="#1e1e1e" stroke-width="0.28" >1:10</text>
<text transform="translate(127.06,354.30) scale(1.0206,1)" font-size="11" fill="#1e1e1e" stroke="#1e1e1e" stroke-width="0.28" >1:20</text>
<rect x="19.90" y="357.70" width="44.50" height="44.50" fill="#ffffff" />
<path d="M20.40,402.20 L20.40,402.20 L20.75,402.20 L21.10,402.20 L21.45,402.20 L21.80,402.20 L22.15,402.20 L22.50,402.20 L22.85,402.20 L23.20,402.20 L23.55,402.20 L23.90,402.20 L24.25,402.20 L24.60,402.20 L24.95,402.20 L25.30,402.20 L25.65,402.20 L26.00,402.20 L26.35,402.20 L26.70,402.20 L27.05,402.20 L27.40,402.20 L27.75,402.20 L28.10,402.20 L28.45,402.19 L28.80,402.18 L29.15,402.16 L29.50,402.12 L29.85,402.06 L30.20,401.95 L30.55,401.78 L30.90,401.53 L31.25,401.20 L31.60,400.77 L31.95,400.28 L32.30,399.74 L32.65,399.23 L33.00,398.79 L33.35,398.50 L33.70,398.40 L34.05,398.46 L34.40,398.63 L34.75,398.89 L35.10,399.23 L35.45,399.61 L35.80,400.01 L36.15,400.41 L36.50,400.77 L36.85,401.10 L37.20,401.38 L37.55,401.60 L37.90,401.78 L38.25,401.91 L38.60,402.01 L38.95,402.08 L39.30,402.12 L39.65,402.15 L40.00,402.17 L40.35,402.18 L40.70,402.19 L41.05,402.20 L41.40,402.20 L41.75,402.20 L42.10,402.20 L42.45,402.20 L42.80,402.20 L43.15,402.20 L43.50,402.20 L43.85,402.20 L44.20,402.20 L44.55,402.20 L44.90,402.20 L45.25,402.20 L45.60,402.20 L45.95,402.20 L46.30,402.20 L46.65,402.20 L47.00,402.20 L47.35,402.20 L47.70,402.19 L48.05,402.17 L48.40,402.07 L48.75,401.69 L49.10,400.62 L49.45,398.14 L49.80,393.60 L50.15,387.13 L50.50,380.40 L50.85,376.16 L51.20,376.22 L51.55,379.42 L51.90,384.53 L52.25,390.07 L52.60,394.83 L52.95,398.24 L53.30,400.32 L53.65,401.41 L54.00,401.91 L54.35,402.10 L54.70,402.17 L55.05,402.19 L55.40,402.20 L55.75,402.20 L56.10,402.20 L56.45,402.20 L56.80,402.20 L57.15,402.20 L57.50,402.20 L57.85,402.20 L58.20,402.20 L58.55,402.20 L58.90,402.20 L59.25,402.20 L59.60,402.20 L59.95,402.20 L60.30,402.20 L60.65,402.20 L61.00,402.20 L61.35,402.20 L61.70,402.20 L62.05,402.20 L62.40,402.20 L62.75,402.20 L63.10,402.20 L63.45,402.20 L63.80,402.20 L63.90,402.20 Z" fill="#f28e8e" stroke="#b82020" stroke-width="0.7" />
<path d="M20.40,387.30 L20.40,387.29 L20.75,387.29 L21.10,387.29 L21.45,387.28 L21.80,387.28 L22.15,387.28 L22.50,387.27 L22.85,387.27 L23.20,387.26 L23.55,387.25 L23.90,387.25 L24.25,387.24 L24.60,387.23 L24.95,387.21 L25.30,387.20 L25.65,387.19 L26.00,387.17 L26.35,387.15 L26.70,387.13 L27.05,387.11 L27.40,387.08 L27.75,387.05 L28.10,387.02 L28.45,386.99 L28.80,386.95 L29.15,386.89 L29.50,386.70 L29.85,385.95 L30.20,383.44 L30.55,377.69 L30.90,369.22 L31.25,362.54 L31.60,361.79 L31.95,363.66 L32.30,366.94 L32.65,370.72 L33.00,374.25 L33.35,377.17 L33.70,379.41 L34.05,380.88 L34.40,381.80 L34.75,382.41 L35.10,382.88 L35.45,383.29 L35.80,383.66 L36.15,384.01 L36.50,384.31 L36.85,384.57 L37.20,384.78 L37.55,384.95 L37.90,385.06 L38.25,385.14 L38.60,385.20 L38.95,385.23 L39.30,385.25 L39.65,385.27 L40.00,385.28 L40.35,385.29 L40.70,385.31 L41.05,385.34 L41.40,385.38 L41.75,385.42 L42.10,385.47 L42.45,385.53 L42.80,385.59 L43.15,385.66 L43.50,385.73 L43.85,385.81 L44.20,385.89 L44.55,385.98 L44.90,386.06 L45.25,386.15 L45.60,386.23 L45.95,386.30 L46.30,386.35 L46.65,386.28 L47.00,385.91 L47.35,384.89 L47.70,382.82 L48.05,379.59 L48.40,375.87 L48.75,373.06 L49.10,372.48 L49.45,373.63 L49.80,375.88 L50.15,378.65 L50.50,381.36 L50.85,383.59 L51.20,385.17 L51.55,386.17 L51.90,386.73 L52.25,387.02 L52.60,387.15 L52.95,387.21 L53.30,387.23 L53.65,387.25 L54.00,387.26 L54.35,387.27 L54.70,387.27 L55.05,387.28 L55.40,387.28 L55.75,387.29 L56.10,387.29 L56.45,387.29 L56.80,387.29 L57.15,387.29 L57.50,387.30 L57.85,387.30 L58.20,387.30 L58.55,387.30 L58.90,387.30 L59.25,387.30 L59.60,387.30 L59.95,387.30 L60.30,387.30 L60.65,387.30 L61.00,387.30 L61.35,387.30 L61.70,387.30 L62.05,387.30 L62.40,387.30 L62.75,387.30 L63.10,387.30 L63.45,387.30 L63.80,387.30 L63.90,387.30 Z" fill="#6c6cea" stroke="#1c1cc0" stroke-width="0.8" fill-opacity="0.88"/>
<line x1="19.90" y1="387.30" x2="64.40" y2="387.30" stroke="#5a64d0" stroke-width="0.8" />
<line x1="19.90" y1="402.20" x2="64.40" y2="402.20" stroke="#c04040" stroke-width="0.8" />
<rect x="19.90" y="357.70" width="44.50" height="44.50" fill="none" stroke="#8a8a8a" stroke-width="0.8"/>
<rect x="68.00" y="357.50" width="44.50" height="44.50" fill="#ffffff" />
<path d="M68.50,402.00 L68.50,402.00 L68.85,402.00 L69.20,402.00 L69.55,402.00 L69.90,402.00 L70.25,402.00 L70.60,402.00 L70.95,402.00 L71.30,402.00 L71.65,402.00 L72.00,402.00 L72.35,402.00 L72.70,402.00 L73.05,402.00 L73.40,401.99 L73.75,401.99 L74.10,401.99 L74.45,401.99 L74.80,401.99 L75.15,401.98 L75.50,401.98 L75.85,401.97 L76.20,401.97 L76.55,401.96 L76.90,401.95 L77.25,401.93 L77.60,401.91 L77.95,401.88 L78.30,401.83 L78.65,401.74 L79.00,401.60 L79.35,401.39 L79.70,401.08 L80.05,400.64 L80.40,400.06 L80.75,399.37 L81.10,398.58 L81.45,397.77 L81.80,397.02 L82.15,396.42 L82.50,396.06 L82.85,395.97 L83.20,396.01 L83.55,396.16 L83.90,396.39 L84.25,396.69 L84.60,397.04 L84.95,397.43 L85.30,397.83 L85.65,398.23 L86.00,398.61 L86.35,398.96 L86.70,399.26 L87.05,399.53 L87.40,399.75 L87.75,399.93 L88.10,400.07 L88.45,400.18 L88.80,400.26 L89.15,400.32 L89.50,400.37 L89.85,400.41 L90.20,400.44 L90.55,400.47 L90.90,400.51 L91.25,400.56 L91.60,400.61 L91.95,400.66 L92.30,400.73 L92.65,400.79 L93.00,400.87 L93.35,400.94 L93.70,401.02 L94.05,401.10 L94.40,401.18 L94.75,401.26 L95.10,401.33 L95.45,401.41 L95.80,401.47 L96.15,401.53 L96.50,401.56 L96.85,401.50 L97.20,401.12 L97.55,399.99 L97.90,397.39 L98.25,392.75 L98.60,386.38 L98.95,380.11 L99.30,376.60 L99.65,377.20 L100.00,380.63 L100.35,385.71 L100.70,391.00 L101.05,395.43 L101.40,398.52 L101.75,400.37 L102.10,401.32 L102.45,401.74 L102.80,401.91 L103.15,401.97 L103.50,401.99 L103.85,401.99 L104.20,402.00 L104.55,402.00 L104.90,402.00 L105.25,402.00 L105.60,402.00 L105.95,402.00 L106.30,402.00 L106.65,402.00 L107.00,402.00 L107.35,402.00 L107.70,402.00 L108.05,402.00 L108.40,402.00 L108.75,402.00 L109.10,402.00 L109.45,402.00 L109.80,402.00 L110.15,402.00 L110.50,402.00 L110.85,402.00 L111.20,402.00 L111.55,402.00 L111.90,402.00 L112.00,402.00 Z" fill="#f28e8e" stroke="#b82020" stroke-width="0.7" />
<path d="M68.50,387.30 L68.50,387.29 L68.85,387.29 L69.20,387.29 L69.55,387.28 L69.90,387.28 L70.25,387.28 L70.60,387.27 L70.95,387.27 L71.30,387.26 L71.65,387.26 L72.00,387.25 L72.35,387.24 L72.70,387.23 L73.05,387.22 L73.40,387.21 L73.75,387.19 L74.10,387.18 L74.45,387.16 L74.80,387.14 L75.15,387.12 L75.50,387.09 L75.85,387.07 L76.20,387.04 L76.55,387.01 L76.90,386.97 L77.25,386.94 L77.60,386.87 L77.95,386.62 L78.30,385.62 L78.65,382.45 L79.00,375.57 L79.35,366.16 L79.70,359.70 L80.05,359.64 L80.40,362.11 L80.75,366.01 L81.10,370.27 L81.45,374.10 L81.80,377.15 L82.15,379.44 L82.50,380.91 L82.85,381.82 L83.20,382.42 L83.55,382.89 L83.90,383.30 L84.25,383.69 L84.60,384.05 L84.95,384.37 L85.30,384.65 L85.65,384.88 L86.00,385.06 L86.35,385.19 L86.70,385.29 L87.05,385.36 L87.40,385.40 L87.75,385.44 L88.10,385.46 L88.45,385.48 L88.80,385.50 L89.15,385.53 L89.50,385.55 L89.85,385.58 L90.20,385.62 L90.55,385.66 L90.90,385.70 L91.25,385.75 L91.60,385.80 L91.95,385.85 L92.30,385.91 L92.65,385.96 L93.00,386.01 L93.35,386.06 L93.70,386.07 L94.05,386.04 L94.40,385.92 L94.75,385.68 L95.10,385.28 L95.45,384.72 L95.80,384.02 L96.15,383.30 L96.50,382.67 L96.85,382.29 L97.20,382.26 L97.55,382.60 L97.90,383.24 L98.25,384.04 L98.60,384.86 L98.95,385.59 L99.30,386.16 L99.65,386.56 L100.00,386.81 L100.35,386.97 L100.70,387.06 L101.05,387.11 L101.40,387.14 L101.75,387.17 L102.10,387.19 L102.45,387.20 L102.80,387.21 L103.15,387.23 L103.50,387.24 L103.85,387.25 L104.20,387.25 L104.55,387.26 L104.90,387.27 L105.25,387.27 L105.60,387.28 L105.95,387.28 L106.30,387.28 L106.65,387.29 L107.00,387.29 L107.35,387.29 L107.70,387.29 L108.05,387.29 L108.40,387.29 L108.75,387.30 L109.10,387.30 L109.45,387.30 L109.80,387.30 L110.15,387.30 L110.50,387.30 L110.85,387.30 L111.20,387.30 L111.55,387.30 L111.90,387.30 L112.00,387.30 Z" fill="#6c6cea" stroke="#1c1cc0" stroke-width="0.8" fill-opacity="0.88"/>
<line x1="68.00" y1="387.30" x2="112.50" y2="387.30" stroke="#5a64d0" stroke-width="0.8" />
<line x1="68.00" y1="402.00" x2="112.50" y2="402.00" stroke="#c04040" stroke-width="0.8" />
<rect x="68.00" y="357.50" width="44.50" height="44.50" fill="none" stroke="#8a8a8a" stroke-width="0.8"/>
<rect x="116.70" y="357.50" width="44.80" height="44.50" fill="#ffffff" />
<path d="M117.20,402.00 L117.20,402.00 L117.55,402.00 L117.90,402.00 L118.25,402.00 L118.60,402.00 L118.95,402.00 L119.30,402.00 L119.65,402.00 L120.00,402.00 L120.35,402.00 L120.70,402.00 L121.05,402.00 L121.40,402.00 L121.75,402.00 L122.10,402.00 L122.45,402.00 L122.80,402.00 L123.15,402.00 L123.50,402.00 L123.85,402.00 L124.20,402.00 L124.55,402.00 L124.90,402.00 L125.25,401.99 L125.60,401.92 L125.95,401.62 L126.30,400.55 L126.65,397.70 L127.00,392.06 L127.35,384.07 L127.70,376.78 L128.05,374.24 L128.40,376.00 L128.75,380.08 L129.10,385.00 L129.45,389.37 L129.80,392.47 L130.15,394.35 L130.50,395.51 L130.85,396.26 L131.20,396.72 L131.55,397.09 L131.90,397.48 L132.25,397.90 L132.60,398.33 L132.95,398.74 L133.30,399.12 L133.65,399.45 L134.00,399.72 L134.35,399.93 L134.70,400.08 L135.05,400.20 L135.40,400.28 L135.75,400.35 L136.10,400.40 L136.45,400.46 L136.80,400.52 L137.15,400.59 L137.50,400.67 L137.85,400.75 L138.20,400.85 L138.55,400.95 L138.90,401.06 L139.25,401.17 L139.60,401.27 L139.95,401.37 L140.30,401.46 L140.65,401.55 L141.00,401.62 L141.35,401.68 L141.70,401.72 L142.05,401.72 L142.40,401.64 L142.75,401.42 L143.10,400.99 L143.45,400.28 L143.80,399.27 L144.15,398.03 L144.50,396.75 L144.85,395.73 L145.20,395.21 L145.55,395.34 L145.90,395.99 L146.25,397.02 L146.60,398.22 L146.95,399.36 L147.30,400.30 L147.65,401.00 L148.00,401.46 L148.35,401.73 L148.70,401.88 L149.05,401.95 L149.40,401.98 L149.75,401.99 L150.10,402.00 L150.45,402.00 L150.80,402.00 L151.15,402.00 L151.50,402.00 L151.85,402.00 L152.20,402.00 L152.55,402.00 L152.90,402.00 L153.25,402.00 L153.60,402.00 L153.95,402.00 L154.30,402.00 L154.65,402.00 L155.00,402.00 L155.35,402.00 L155.70,402.00 L156.05,402.00 L156.40,402.00 L156.75,402.00 L157.10,402.00 L157.45,402.00 L157.80,402.00 L158.15,402.00 L158.50,402.00 L158.85,402.00 L159.20,402.00 L159.55,402.00 L159.90,402.00 L160.25,402.00 L160.60,402.00 L160.95,402.00 L161.00,402.00 Z" fill="#f28e8e" stroke="#b82020" stroke-width="0.7" />
<path d="M117.20,387.30 L117.20,387.30 L117.55,387.30 L117.90,387.30 L118.25,387.30 L118.60,387.30 L118.95,387.30 L119.30,387.30 L119.65,387.30 L120.00,387.30 L120.35,387.30 L120.70,387.30 L121.05,387.30 L121.40,387.30 L121.75,387.30 L122.10,387.30 L122.45,387.30 L122.80,387.30 L123.15,387.30 L123.50,387.30 L123.85,387.30 L124.20,387.30 L124.55,387.30 L124.90,387.30 L125.25,387.30 L125.60,387.29 L125.95,387.23 L126.30,386.85 L126.65,385.34 L127.00,381.15 L127.35,373.56 L127.70,365.39 L128.05,362.24 L128.40,363.99 L128.75,368.16 L129.10,373.02 L129.45,377.17 L129.80,380.06 L130.15,381.90 L130.50,382.93 L130.85,383.56 L131.20,384.05 L131.55,384.53 L131.90,385.01 L132.25,385.47 L132.60,385.89 L132.95,386.26 L133.30,386.55 L133.65,386.79 L134.00,386.96 L134.35,387.08 L134.70,387.17 L135.05,387.22 L135.40,387.26 L135.75,387.28 L136.10,387.29 L136.45,387.29 L136.80,387.30 L137.15,387.30 L137.50,387.30 L137.85,387.30 L138.20,387.30 L138.55,387.30 L138.90,387.30 L139.25,387.30 L139.60,387.30 L139.95,387.30 L140.30,387.29 L140.65,387.28 L141.00,387.27 L141.35,387.24 L141.70,387.19 L142.05,387.11 L142.40,386.99 L142.75,386.83 L143.10,386.62 L143.45,386.37 L143.80,386.09 L144.15,385.81 L144.50,385.57 L144.85,385.39 L145.20,385.30 L145.55,385.33 L145.90,385.45 L146.25,385.66 L146.60,385.93 L146.95,386.21 L147.30,386.48 L147.65,386.71 L148.00,386.90 L148.35,387.05 L148.70,387.15 L149.05,387.21 L149.40,387.25 L149.75,387.28 L150.10,387.29 L150.45,387.29 L150.80,387.30 L151.15,387.30 L151.50,387.30 L151.85,387.30 L152.20,387.30 L152.55,387.30 L152.90,387.30 L153.25,387.30 L153.60,387.30 L153.95,387.30 L154.30,387.30 L154.65,387.30 L155.00,387.30 L155.35,387.30 L155.70,387.30 L156.05,387.30 L156.40,387.30 L156.75,387.30 L157.10,387.30 L157.45,387.30 L157.80,387.30 L158.15,387.30 L158.50,387.30 L158.85,387.30 L159.20,387.30 L159.55,387.30 L159.90,387.30 L160.25,387.30 L160.60,387.30 L160.95,387.30 L161.00,387.30 Z" fill="#6c6cea" stroke="#1c1cc0" stroke-width="0.8" fill-opacity="0.88"/>
<line x1="116.70" y1="387.30" x2="161.50" y2="387.30" stroke="#5a64d0" stroke-width="0.8" />
<line x1="116.70" y1="402.00" x2="161.50" y2="402.00" stroke="#c04040" stroke-width="0.8" />
<rect x="116.70" y="357.50" width="44.80" height="44.50" fill="none" stroke="#8a8a8a" stroke-width="0.8"/>
<line x1="154.20" y1="360.70" x2="163.10" y2="360.70" stroke="#2020d0" stroke-width="1.0" />
<line x1="154.20" y1="369.10" x2="163.10" y2="369.10" stroke="#d02020" stroke-width="1.0" />
<text transform="translate(163.75,363.80) scale(0.8762,1)" font-size="11" fill="#1e1e1e" stroke="#1e1e1e" stroke-width="0.28" >Vehicle</text>
<text transform="translate(163.00,374.40) scale(0.9107,1)" font-size="11" fill="#1e1e1e" stroke="#1e1e1e" stroke-width="0.28" >Exo<tspan font-size="6.05" dy="-3.96">MSC</tspan></text>
<text transform="translate(22.03,413.50) scale(0.8475,1)" font-size="11" fill="#1e1e1e" stroke="#1e1e1e" stroke-width="0.28" >Cell trace</text>
<line x1="64.40" y1="411.00" x2="72.50" y2="411.00" stroke="#1e1e1e" stroke-width="1.25" />
<path d="M75.60,411.00 L72.00,408.90 L72.00,413.10 Z" fill="#1e1e1e" stroke="none" stroke-width="1" />
<text transform="translate(15.00,424.35) rotate(-90) scale(0.8472,1)" font-size="11" fill="#1e1e1e" stroke="#1e1e1e" stroke-width="0.28">Normalized to mode</text>
<line x1="214.50" y1="351.20" x2="214.50" y2="394.50" stroke="#606060" stroke-width="0.9" />
<line x1="214.50" y1="394.50" x2="258.50" y2="394.50" stroke="#606060" stroke-width="0.9" />
<line x1="212.70" y1="351.20" x2="214.50" y2="351.20" stroke="#888" stroke-width="0.6" />
<rect x="209.90" y="350.70" width="2.20" height="1.00" fill="#bbb" />
<line x1="212.70" y1="359.86" x2="214.50" y2="359.86" stroke="#888" stroke-width="0.6" />
<rect x="209.90" y="359.36" width="2.20" height="1.00" fill="#bbb" />
<line x1="212.70" y1="368.52" x2="214.50" y2="368.52" stroke="#888" stroke-width="0.6" />
<rect x="209.90" y="368.02" width="2.20" height="1.00" fill="#bbb" />
<line x1="212.70" y1="377.18" x2="214.50" y2="377.18" stroke="#888" stroke-width="0.6" />
<rect x="209.90" y="376.68" width="2.20" height="1.00" fill="#bbb" />
<line x1="212.70" y1="385.84" x2="214.50" y2="385.84" stroke="#888" stroke-width="0.6" />
<rect x="209.90" y="385.34" width="2.20" height="1.00" fill="#bbb" />
<line x1="212.70" y1="394.50" x2="214.50" y2="394.50" stroke="#888" stroke-width="0.6" />
<rect x="209.90" y="394.00" width="2.20" height="1.00" fill="#bbb" />
<line x1="219.00" y1="365.00" x2="219.00" y2="361.70" stroke="#1111ee" stroke-width="0.9" />
<line x1="216.80" y1="361.70" x2="221.20" y2="361.70" stroke="#1111ee" stroke-width="0.9" />
<rect x="216.00" y="365.00" width="6.00" height="29.50" fill="#1111ee" />
<rect x="216.00" y="365.00" width="6.00" height="29.50" fill="none" stroke="#0a0a9a" stroke-width="0.6"/>
<rect x="223.30" y="385.40" width="5.30" height="9.10" fill="#ee1515" />
<rect x="223.30" y="385.40" width="5.30" height="9.10" fill="none" stroke="#a01010" stroke-width="0.6"/>
<line x1="233.60" y1="360.80" x2="233.60" y2="359.80" stroke="#1111ee" stroke-width="0.9" />
<line x1="231.40" y1="359.80" x2="235.80" y2="359.80" stroke="#1111ee" stroke-width="0.9" />
<rect x="230.80" y="360.80" width="5.60" height="33.70" fill="#1111ee" />
<rect x="230.80" y="360.80" width="5.60" height="33.70" fill="none" stroke="#0a0a9a" stroke-width="0.6"/>
<rect x="237.10" y="380.10" width="5.50" height="14.40" fill="#ee1515" />
<rect x="237.10" y="380.10" width="5.50" height="14.40" fill="none" stroke="#a01010" stroke-width="0.6"/>
<line x1="247.75" y1="356.80" x2="247.75" y2="354.20" stroke="#1111ee" stroke-width="0.9" />
<line x1="245.55" y1="354.20" x2="249.95" y2="354.20" stroke="#1111ee" stroke-width="0.9" />
<rect x="245.00" y="356.80" width="5.50" height="37.70" fill="#1111ee" />
<rect x="245.00" y="356.80" width="5.50" height="37.70" fill="none" stroke="#0a0a9a" stroke-width="0.6"/>
<rect x="251.30" y="364.30" width="5.50" height="30.20" fill="#ee1515" />
<rect x="251.30" y="364.30" width="5.50" height="30.20" fill="none" stroke="#a01010" stroke-width="0.6"/>
<text transform="translate(222.41,373.39) scale(1.0,1)" font-size="11.25" fill="#1e1e1e">*</text>
<line x1="222.80" y1="371.20" x2="227.90" y2="371.20" stroke="#444" stroke-width="0.7" />
<line x1="222.80" y1="370.10" x2="222.80" y2="372.30" stroke="#444" stroke-width="0.7" />
<line x1="227.90" y1="370.10" x2="227.90" y2="372.30" stroke="#444" stroke-width="0.7" />
<text transform="translate(236.01,372.79) scale(1.0,1)" font-size="11.25" fill="#1e1e1e">**</text>
<line x1="237.40" y1="371.60" x2="243.00" y2="371.60" stroke="#444" stroke-width="0.7" />
<line x1="237.40" y1="370.50" x2="237.40" y2="372.70" stroke="#444" stroke-width="0.7" />
<line x1="243.00" y1="370.50" x2="243.00" y2="372.70" stroke="#444" stroke-width="0.7" />
<text transform="translate(251.61,359.19) scale(1.0,1)" font-size="11.25" fill="#1e1e1e">*</text>
<line x1="251.30" y1="359.00" x2="256.80" y2="359.00" stroke="#444" stroke-width="0.7" />
<line x1="251.30" y1="357.90" x2="251.30" y2="360.10" stroke="#444" stroke-width="0.7" />
<line x1="256.80" y1="357.90" x2="256.80" y2="360.10" stroke="#444" stroke-width="0.7" />
<text transform="translate(204.60,403.53) rotate(-90) scale(0.8582,1)" font-size="11" fill="#1e1e1e" stroke="#1e1e1e" stroke-width="0.28">% proliferated</text>
<text transform="translate(225.30,409.02) rotate(-90) scale(0.7874,1)" font-size="10.5" fill="#1e1e1e" stroke="#1e1e1e" stroke-width="0.28">1:1</text>
<text transform="translate(239.70,417.05) rotate(-90) scale(0.9550,1)" font-size="10.5" fill="#1e1e1e" stroke="#1e1e1e" stroke-width="0.28">1:10</text>
<text transform="translate(253.80,417.05) rotate(-90) scale(0.9550,1)" font-size="10.5" fill="#1e1e1e" stroke="#1e1e1e" stroke-width="0.28">1:20</text>
<text transform="translate(262.22,230.60) scale(1.0756,1)" font-size="12.5" fill="#1e1e1e" stroke="#1e1e1e" stroke-width="0.38" >D</text>
<text transform="translate(278.93,254.60) scale(0.8951,1)" font-size="10.5" fill="#1e1e1e" stroke="#1e1e1e" stroke-width="0.28" >CD206<tspan font-size="7.14" dy="-5.25">+</tspan><tspan dy="5.25"> M-MDSC</tspan></text>
<rect x="279.00" y="257.00" width="44.50" height="43.60" fill="none" stroke="#8a8a8a" stroke-width="0.8"/>
<rect x="328.00" y="257.30" width="44.60" height="44.50" fill="none" stroke="#8a8a8a" stroke-width="0.8"/>
<rect x="291.20" y="258.30" width="24.50" height="11.70" fill="none" stroke="#8a8a8a" stroke-width="0.7"/>
<rect x="340.30" y="258.30" width="24.70" height="11.70" fill="none" stroke="#8a8a8a" stroke-width="0.7"/>
<path d="M296.30,264.60 C296.97,264.18 297.97,264.85 298.50,265.50 C299.03,266.15 299.17,267.50 299.50,268.50 C299.83,269.50 299.97,270.67 300.50,271.50 C301.03,272.33 302.40,272.67 302.70,273.50 C303.00,274.33 302.83,275.83 302.30,276.50 C301.77,277.17 300.30,277.05 299.50,277.50 C298.70,277.95 298.22,279.20 297.50,279.20 C296.78,279.20 295.75,278.53 295.20,277.50 C294.65,276.47 294.32,274.58 294.20,273.00 C294.08,271.42 294.15,269.40 294.50,268.00 C294.85,266.60 295.63,265.02 296.30,264.60 Z" fill="#1a4cff" stroke="#0a14b0" stroke-width="1.0"/>
<g clip-path="url(#cp8)">
<ellipse cx="0" cy="0" rx="1" ry="1" transform="translate(297.0 271.5) rotate(0) scale(3.5 6.5)" fill="url(#g10)"/>
</g>
<path d="M349.50,259.80 C350.50,259.80 351.83,260.30 352.50,261.00 C353.17,261.70 353.50,262.83 353.50,264.00 C353.50,265.17 353.08,266.75 352.50,268.00 C351.92,269.25 350.92,270.42 350.00,271.50 C349.08,272.58 347.87,273.83 347.00,274.50 C346.13,275.17 345.45,275.67 344.80,275.50 C344.15,275.33 343.38,274.58 343.10,273.50 C342.82,272.42 342.95,270.50 343.10,269.00 C343.25,267.50 343.43,265.83 344.00,264.50 C344.57,263.17 345.58,261.78 346.50,261.00 C347.42,260.22 348.50,259.80 349.50,259.80 Z" fill="#1a4cff" stroke="#0a14b0" stroke-width="1.0"/>
<g clip-path="url(#cp9)">
<ellipse cx="0" cy="0" rx="1" ry="1" transform="translate(346.6 267.3) rotate(15) scale(4.4 7.0)" fill="url(#g11)"/>
</g>
<text transform="translate(295.72,268.50) scale(0.8760,1)" font-size="11" fill="#1e1e1e" stroke="#1e1e1e" stroke-width="0.28" >29.2%</text>
<text transform="translate(345.34,268.00) scale(0.8397,1)" font-size="11" fill="#1e1e1e" stroke="#1e1e1e" stroke-width="0.28" >60.8%</text>
<text transform="translate(280.75,299.00) scale(0.8275,1)" font-size="11" fill="#1e1e1e" stroke="#1e1e1e" stroke-width="0.28" >Vehicle</text>
<text transform="translate(330.22,299.00) scale(0.8851,1)" font-size="11" fill="#1e1e1e" stroke="#1e1e1e" stroke-width="0.28" >Exo<tspan font-size="6.05" dy="-3.96">MSC</tspan></text>
<text transform="translate(278.69,313.30) scale(1.0320,1)" font-size="11" fill="#1e1e1e" stroke="#1e1e1e" stroke-width="0.28" >F4/80</text>
<line x1="310.20" y1="309.40" x2="317.50" y2="309.40" stroke="#1e1e1e" stroke-width="1.25" />
<path d="M320.60,309.40 L317.00,307.30 L317.00,311.50 Z" fill="#1e1e1e" stroke="none" stroke-width="1" />
<text transform="translate(274.60,300.26) rotate(-90) scale(0.9728,1)" font-size="11" fill="#1e1e1e" stroke="#1e1e1e" stroke-width="0.28">PD-L1</text>
<line x1="271.20" y1="268.80" x2="271.20" y2="260.30" stroke="#1e1e1e" stroke-width="1.25" />
<path d="M271.20,257.20 L269.10,260.80 L273.30,260.80 Z" fill="#1e1e1e" stroke="none" stroke-width="1" />
<text transform="translate(361.25,242.30) scale(0.8965,1)" font-size="10.5" fill="#1e1e1e" stroke="#1e1e1e" stroke-width="0.28" >PD-L1 expressing CD206<tspan font-size="7.14" dy="-5.25">+</tspan><tspan dy="5.25"> M-MDSC</tspan></text>
<line x1="400.50" y1="256.00" x2="400.50" y2="296.50" stroke="#606060" stroke-width="0.9" />
<line x1="400.50" y1="296.50" x2="437.00" y2="296.50" stroke="#606060" stroke-width="0.9" />
<line x1="398.70" y1="256.00" x2="400.50" y2="256.00" stroke="#888" stroke-width="0.6" />
<rect x="395.90" y="255.50" width="2.20" height="1.00" fill="#bbb" />
<line x1="398.70" y1="264.00" x2="400.50" y2="264.00" stroke="#888" stroke-width="0.6" />
<rect x="395.90" y="263.50" width="2.20" height="1.00" fill="#bbb" />
<line x1="398.70" y1="272.00" x2="400.50" y2="272.00" stroke="#888" stroke-width="0.6" />
<rect x="395.90" y="271.50" width="2.20" height="1.00" fill="#bbb" />
<line x1="398.70" y1="280.00" x2="400.50" y2="280.00" stroke="#888" stroke-width="0.6" />
<rect x="395.90" y="279.50" width="2.20" height="1.00" fill="#bbb" />
<line x1="398.70" y1="288.00" x2="400.50" y2="288.00" stroke="#888" stroke-width="0.6" />
<rect x="395.90" y="287.50" width="2.20" height="1.00" fill="#bbb" />
<line x1="398.70" y1="296.00" x2="400.50" y2="296.00" stroke="#888" stroke-width="0.6" />
<rect x="395.90" y="295.50" width="2.20" height="1.00" fill="#bbb" />
<circle cx="412.50" cy="267.40" r="1.10" fill="#2a2aa8" />
<circle cx="414.80" cy="270.50" r="1.10" fill="#2a2aa8" />
<circle cx="411.20" cy="273.50" r="1.10" fill="#2a2aa8" />
<circle cx="413.80" cy="276.20" r="1.10" fill="#2a2aa8" />
<circle cx="412.00" cy="279.00" r="1.10" fill="#2a2aa8" />
<circle cx="415.20" cy="280.20" r="1.10" fill="#2a2aa8" />
<circle cx="411.50" cy="283.00" r="1.10" fill="#2a2aa8" />
<circle cx="413.60" cy="286.00" r="1.10" fill="#2a2aa8" />
<circle cx="412.20" cy="289.50" r="1.10" fill="#2a2aa8" />
<circle cx="413.00" cy="297.00" r="1.10" fill="#2a2aa8" />
<line x1="409.50" y1="281.20" x2="416.50" y2="281.20" stroke="#7070c0" stroke-width="0.6" />
<circle cx="430.50" cy="263.00" r="1.15" fill="#d42020" />
<circle cx="434.50" cy="265.80" r="1.15" fill="#d42020" />
<circle cx="429.20" cy="268.50" r="1.15" fill="#d42020" />
<circle cx="432.80" cy="270.50" r="1.15" fill="#d42020" />
<circle cx="436.50" cy="271.50" r="1.15" fill="#d42020" />
<circle cx="430.00" cy="273.20" r="1.15" fill="#d42020" />
<circle cx="433.50" cy="274.50" r="1.15" fill="#d42020" />
<circle cx="431.00" cy="276.00" r="1.15" fill="#d42020" />
<circle cx="435.80" cy="277.80" r="1.15" fill="#d42020" />
<circle cx="429.50" cy="277.20" r="1.15" fill="#d42020" />
<line x1="428.50" y1="271.70" x2="437.00" y2="271.70" stroke="#e07070" stroke-width="0.6" />
<text transform="translate(417.33,268.57) scale(1.0,1)" font-size="12.75" fill="#1e1e1e">**</text>
<line x1="418.50" y1="266.50" x2="426.00" y2="266.50" stroke="#444" stroke-width="0.7" />
<line x1="418.50" y1="264.90" x2="418.50" y2="268.10" stroke="#444" stroke-width="0.7" />
<line x1="426.00" y1="264.90" x2="426.00" y2="268.10" stroke="#444" stroke-width="0.7" />
<text transform="translate(392.00,327.34) rotate(-90) scale(0.9376,1)" font-size="10.5" fill="#1e1e1e" stroke="#1e1e1e" stroke-width="0.28">% of PD-L1<tspan font-size="7.14" dy="-5.25">+</tspan><tspan dy="5.25"> cells</tspan></text>
<text transform="translate(396.17,327.83) rotate(-45) scale(0.7669,1)" font-size="11.5" fill="#1e1e1e" stroke="#1e1e1e" stroke-width="0.28">Vehicle</text>
<text transform="translate(418.87,329.63) rotate(-45) scale(0.8252,1)" font-size="11.5" fill="#1e1e1e" stroke="#1e1e1e" stroke-width="0.28">Exo<tspan font-size="6.33" dy="-4.14">MSC</tspan></text>
<line x1="470.50" y1="259.60" x2="470.50" y2="301.50" stroke="#606060" stroke-width="0.9" />
<line x1="470.50" y1="301.50" x2="510.40" y2="301.50" stroke="#606060" stroke-width="0.9" />
<line x1="465.00" y1="260.50" x2="470.50" y2="260.50" stroke="#555" stroke-width="1.1" />
<line x1="465.00" y1="270.80" x2="470.50" y2="270.80" stroke="#555" stroke-width="1.1" />
<line x1="465.00" y1="281.20" x2="470.50" y2="281.20" stroke="#555" stroke-width="1.1" />
<line x1="465.00" y1="291.60" x2="470.50" y2="291.60" stroke="#555" stroke-width="1.1" />
<line x1="482.35" y1="277.20" x2="482.35" y2="273.10" stroke="#1111ee" stroke-width="0.9" />
<line x1="480.15" y1="273.10" x2="484.55" y2="273.10" stroke="#1111ee" stroke-width="0.9" />
<rect x="476.70" y="277.20" width="11.30" height="23.90" fill="#1111ee" />
<rect x="476.70" y="277.20" width="11.30" height="23.90" fill="none" stroke="#0a0a9a" stroke-width="0.6"/>
<line x1="500.25" y1="271.40" x2="500.25" y2="264.80" stroke="#ee1515" stroke-width="0.9" />
<line x1="498.05" y1="264.80" x2="502.45" y2="264.80" stroke="#ee1515" stroke-width="0.9" />
<rect x="494.40" y="271.40" width="11.70" height="29.70" fill="#ee1515" />
<rect x="494.40" y="271.40" width="11.70" height="29.70" fill="none" stroke="#a01010" stroke-width="0.6"/>
<text transform="translate(485.15,260.00) scale(0.9206,1)" font-size="7.5" fill="#1e1e1e" stroke="#1e1e1e" stroke-width="0.28" >NS</text>
<line x1="487.00" y1="262.20" x2="494.90" y2="262.20" stroke="#444" stroke-width="0.7" />
<line x1="487.00" y1="260.60" x2="487.00" y2="263.80" stroke="#444" stroke-width="0.7" />
<line x1="494.90" y1="260.60" x2="494.90" y2="263.80" stroke="#444" stroke-width="0.7" />
<text transform="translate(458.20,308.90) rotate(-90) scale(1.0226,1)" font-size="11" fill="#1e1e1e" stroke="#1e1e1e" stroke-width="0.28">MFI-PD-L1</text>
<text transform="translate(463.67,328.33) rotate(-45) scale(0.7669,1)" font-size="11.5" fill="#1e1e1e" stroke="#1e1e1e" stroke-width="0.28">Vehicle</text>
<text transform="translate(486.37,330.63) rotate(-45) scale(0.8252,1)" font-size="11.5" fill="#1e1e1e" stroke="#1e1e1e" stroke-width="0.28">Exo<tspan font-size="6.33" dy="-4.14">MSC</tspan></text>
<text transform="translate(278.02,367.20) scale(0.9074,1)" font-size="10.5" fill="#1e1e1e" stroke="#1e1e1e" stroke-width="0.28" >CD206<tspan font-size="7.14" dy="-5.25">+</tspan><tspan dy="5.25"> M2 MΦ</tspan></text>
<rect x="279.00" y="370.40" width="43.30" height="43.80" fill="none" stroke="#8a8a8a" stroke-width="0.8"/>
<rect x="327.40" y="370.40" width="45.20" height="43.80" fill="none" stroke="#8a8a8a" stroke-width="0.8"/>
<rect x="290.50" y="370.40" width="24.90" height="13.10" fill="none" stroke="#8a8a8a" stroke-width="0.7"/>
<rect x="339.60" y="370.40" width="26.60" height="13.80" fill="none" stroke="#8a8a8a" stroke-width="0.7"/>
<path d="M300.50,375.00 C301.42,374.97 302.75,375.33 303.50,376.00 C304.25,376.67 304.92,377.75 305.00,379.00 C305.08,380.25 304.58,382.00 304.00,383.50 C303.42,385.00 302.50,386.67 301.50,388.00 C300.50,389.33 299.08,390.87 298.00,391.50 C296.92,392.13 295.77,392.22 295.00,391.80 C294.23,391.38 293.60,390.30 293.40,389.00 C293.20,387.70 293.40,385.58 293.80,384.00 C294.20,382.42 295.10,380.80 295.80,379.50 C296.50,378.20 297.22,376.95 298.00,376.20 C298.78,375.45 299.58,375.03 300.50,375.00 Z" fill="#1a4cff" stroke="#0a14b0" stroke-width="1.0"/>
<g clip-path="url(#cp10)">
<ellipse cx="0" cy="0" rx="1" ry="1" transform="translate(297.6 384.0) rotate(25) scale(4.8 7.5)" fill="url(#g12)"/>
</g>
<path d="M350.00,373.70 C350.83,373.83 352.00,374.28 352.50,375.00 C353.00,375.72 353.12,376.83 353.00,378.00 C352.88,379.17 352.38,380.67 351.80,382.00 C351.22,383.33 350.47,384.73 349.50,386.00 C348.53,387.27 347.08,389.10 346.00,389.60 C344.92,390.10 343.60,389.77 343.00,389.00 C342.40,388.23 342.40,386.50 342.40,385.00 C342.40,383.50 342.57,381.42 343.00,380.00 C343.43,378.58 344.25,377.47 345.00,376.50 C345.75,375.53 346.67,374.67 347.50,374.20 C348.33,373.73 349.17,373.57 350.00,373.70 Z" fill="#1a4cff" stroke="#0a14b0" stroke-width="1.0"/>
<g clip-path="url(#cp11)">
<ellipse cx="0" cy="0" rx="1" ry="1" transform="translate(346.6 382.0) rotate(25) scale(4.8 7.5)" fill="url(#g13)"/>
</g>
<text transform="translate(294.21,381.80) scale(0.8959,1)" font-size="11" fill="#1e1e1e" stroke="#1e1e1e" stroke-width="0.28" >50.2%</text>
<text transform="translate(351.81,381.80) scale(0.8972,1)" font-size="11" fill="#1e1e1e" stroke="#1e1e1e" stroke-width="0.28" >76%</text>
<text transform="translate(280.25,412.00) scale(0.8389,1)" font-size="11" fill="#1e1e1e" stroke="#1e1e1e" stroke-width="0.28" >Vehicle</text>
<text transform="translate(329.65,412.00) scale(0.8500,1)" font-size="11" fill="#1e1e1e" stroke="#1e1e1e" stroke-width="0.28" >Exo<tspan font-size="6.05" dy="-3.96">MSC</tspan></text>
<text transform="translate(278.69,427.00) scale(1.0320,1)" font-size="11" fill="#1e1e1e" stroke="#1e1e1e" stroke-width="0.28" >F4/80</text>
<line x1="310.60" y1="423.20" x2="317.90" y2="423.20" stroke="#1e1e1e" stroke-width="1.25" />
<path d="M321.00,423.20 L317.40,421.10 L317.40,425.30 Z" fill="#1e1e1e" stroke="none" stroke-width="1" />
<text transform="translate(274.60,415.95) rotate(-90) scale(1.0835,1)" font-size="11" fill="#1e1e1e" stroke="#1e1e1e" stroke-width="0.28">PD-L1</text>
<line x1="271.00" y1="381.20" x2="271.00" y2="375.00" stroke="#1e1e1e" stroke-width="1.25" />
<path d="M271.00,371.90 L268.90,375.50 L273.10,375.50 Z" fill="#1e1e1e" stroke="none" stroke-width="1" />
<text transform="translate(364.44,349.70) scale(0.9088,1)" font-size="10.5" fill="#1e1e1e" stroke="#1e1e1e" stroke-width="0.28" >PD-L1 expressing CD206<tspan font-size="7.14" dy="-5.25">+</tspan><tspan dy="5.25"> M2 MΦ</tspan></text>
<line x1="400.50" y1="368.70" x2="400.50" y2="414.50" stroke="#606060" stroke-width="0.9" />
<line x1="400.50" y1="414.50" x2="440.40" y2="414.50" stroke="#606060" stroke-width="0.9" />
<line x1="398.70" y1="368.70" x2="400.50" y2="368.70" stroke="#888" stroke-width="0.6" />
<rect x="395.90" y="368.20" width="2.20" height="1.00" fill="#bbb" />
<line x1="398.70" y1="380.20" x2="400.50" y2="380.20" stroke="#888" stroke-width="0.6" />
<rect x="395.90" y="379.70" width="2.20" height="1.00" fill="#bbb" />
<line x1="398.70" y1="391.70" x2="400.50" y2="391.70" stroke="#888" stroke-width="0.6" />
<rect x="395.90" y="391.20" width="2.20" height="1.00" fill="#bbb" />
<line x1="398.70" y1="403.20" x2="400.50" y2="403.20" stroke="#888" stroke-width="0.6" />
<rect x="395.90" y="402.70" width="2.20" height="1.00" fill="#bbb" />
<line x1="398.70" y1="414.70" x2="400.50" y2="414.70" stroke="#888" stroke-width="0.6" />
<rect x="395.90" y="414.20" width="2.20" height="1.00" fill="#bbb" />
<circle cx="412.00" cy="381.00" r="1.10" fill="#2a2aa8" />
<circle cx="415.50" cy="382.50" r="1.10" fill="#2a2aa8" />
<circle cx="410.50" cy="385.50" r="1.10" fill="#2a2aa8" />
<circle cx="414.00" cy="387.50" r="1.10" fill="#2a2aa8" />
<circle cx="412.50" cy="391.00" r="1.10" fill="#2a2aa8" />
<circle cx="409.50" cy="394.50" r="1.10" fill="#2a2aa8" />
<circle cx="415.00" cy="395.50" r="1.10" fill="#2a2aa8" />
<circle cx="412.00" cy="395.80" r="1.10" fill="#2a2aa8" />
<circle cx="411.50" cy="404.20" r="1.10" fill="#2a2aa8" />
<circle cx="416.00" cy="386.00" r="1.10" fill="#2a2aa8" />
<line x1="408.50" y1="391.20" x2="417.00" y2="391.20" stroke="#7070c0" stroke-width="0.6" />
<circle cx="429.50" cy="374.20" r="1.15" fill="#d42020" />
<circle cx="433.00" cy="374.20" r="1.15" fill="#d42020" />
<circle cx="435.00" cy="374.50" r="1.15" fill="#d42020" />
<circle cx="431.00" cy="377.50" r="1.15" fill="#d42020" />
<circle cx="434.50" cy="379.50" r="1.15" fill="#d42020" />
<circle cx="429.00" cy="382.00" r="1.15" fill="#d42020" />
<circle cx="432.50" cy="386.00" r="1.15" fill="#d42020" />
<circle cx="435.00" cy="389.00" r="1.15" fill="#d42020" />
<circle cx="430.00" cy="392.00" r="1.15" fill="#d42020" />
<circle cx="433.00" cy="395.00" r="1.15" fill="#d42020" />
<line x1="428.00" y1="384.30" x2="436.50" y2="384.30" stroke="#e07070" stroke-width="0.6" />
<text transform="translate(418.01,382.37) scale(1.0,1)" font-size="12.75" fill="#1e1e1e">*</text>
<line x1="417.00" y1="379.10" x2="424.40" y2="379.10" stroke="#444" stroke-width="0.7" />
<line x1="417.00" y1="377.50" x2="417.00" y2="380.70" stroke="#444" stroke-width="0.7" />
<line x1="424.40" y1="377.50" x2="424.40" y2="380.70" stroke="#444" stroke-width="0.7" />
<text transform="translate(391.50,427.02) rotate(-90) scale(0.8747,1)" font-size="10.5" fill="#1e1e1e" stroke="#1e1e1e" stroke-width="0.28">% of PD-L1<tspan font-size="7.14" dy="-5.25">+</tspan><tspan dy="5.25"> cells</tspan></text>
<text transform="translate(396.17,440.83) rotate(-45) scale(0.7669,1)" font-size="11.5" fill="#1e1e1e" stroke="#1e1e1e" stroke-width="0.28">Vehicle</text>
<text transform="translate(418.87,442.63) rotate(-45) scale(0.8252,1)" font-size="11.5" fill="#1e1e1e" stroke="#1e1e1e" stroke-width="0.28">Exo<tspan font-size="6.33" dy="-4.14">MSC</tspan></text>
<line x1="469.50" y1="369.30" x2="469.50" y2="411.50" stroke="#606060" stroke-width="0.9" />
<line x1="469.50" y1="411.50" x2="509.60" y2="411.50" stroke="#606060" stroke-width="0.9" />
<line x1="464.00" y1="369.30" x2="469.50" y2="369.30" stroke="#555" stroke-width="1.1" />
<line x1="464.00" y1="379.75" x2="469.50" y2="379.75" stroke="#555" stroke-width="1.1" />
<line x1="464.00" y1="390.20" x2="469.50" y2="390.20" stroke="#555" stroke-width="1.1" />
<line x1="464.00" y1="400.65" x2="469.50" y2="400.65" stroke="#555" stroke-width="1.1" />
<line x1="481.00" y1="382.00" x2="481.00" y2="377.40" stroke="#1111ee" stroke-width="0.9" />
<line x1="478.80" y1="377.40" x2="483.20" y2="377.40" stroke="#1111ee" stroke-width="0.9" />
<rect x="475.30" y="382.00" width="11.40" height="29.10" fill="#1111ee" />
<rect x="475.30" y="382.00" width="11.40" height="29.10" fill="none" stroke="#0a0a9a" stroke-width="0.6"/>
<line x1="498.90" y1="381.70" x2="498.90" y2="375.70" stroke="#ee1515" stroke-width="0.9" />
<line x1="496.70" y1="375.70" x2="501.10" y2="375.70" stroke="#ee1515" stroke-width="0.9" />
<rect x="493.10" y="381.70" width="11.60" height="29.40" fill="#ee1515" />
<rect x="493.10" y="381.70" width="11.60" height="29.40" fill="none" stroke="#a01010" stroke-width="0.6"/>
<text transform="translate(484.43,368.50) scale(0.9524,1)" font-size="7.5" fill="#1e1e1e" stroke="#1e1e1e" stroke-width="0.28" >NS</text>
<line x1="484.00" y1="371.70" x2="494.40" y2="371.70" stroke="#444" stroke-width="0.7" />
<line x1="484.00" y1="370.10" x2="484.00" y2="373.30" stroke="#444" stroke-width="0.7" />
<line x1="494.40" y1="370.10" x2="494.40" y2="373.30" stroke="#444" stroke-width="0.7" />
<text transform="translate(457.40,418.90) rotate(-90) scale(1.0226,1)" font-size="11" fill="#1e1e1e" stroke="#1e1e1e" stroke-width="0.28">MFI-PD-L1</text>
<text transform="translate(463.17,441.33) rotate(-45) scale(0.7669,1)" font-size="11.5" fill="#1e1e1e" stroke="#1e1e1e" stroke-width="0.28">Vehicle</text>
<text transform="translate(485.87,443.63) rotate(-45) scale(0.8252,1)" font-size="11.5" fill="#1e1e1e" stroke="#1e1e1e" stroke-width="0.28">Exo<tspan font-size="6.33" dy="-4.14">MSC</tspan></text>
<text transform="translate(0.79,491.60) scale(0.9101,1)" font-size="12.5" fill="#1e1e1e" stroke="#1e1e1e" stroke-width="0.38" >E</text>
<text transform="translate(18.85,503.40) scale(0.9467,1)" font-size="10" fill="#1e1e1e" stroke="#1e1e1e" stroke-width="0.28" >Viable CD45<tspan font-size="6.80" dy="-5.00">+</tspan><tspan dy="5.00">CD3</tspan><tspan font-size="6.80" dy="-5.00">+</tspan></text>
<rect x="17.30" y="505.40" width="44.50" height="45.00" fill="none" stroke="#8a8a8a" stroke-width="0.8"/>
<rect x="64.80" y="505.50" width="45.00" height="44.40" fill="none" stroke="#8a8a8a" stroke-width="0.8"/>
<rect x="34.60" y="505.40" width="18.90" height="19.60" fill="none" stroke="#8a8a8a" stroke-width="0.7"/>
<rect x="80.30" y="505.50" width="20.10" height="19.80" fill="none" stroke="#8a8a8a" stroke-width="0.7"/>
<path d="M36.60,515.00 C37.92,514.67 42.37,513.87 43.70,515.00 C45.03,516.13 44.57,519.87 44.60,521.80 C44.63,523.73 43.78,524.82 43.90,526.60 C44.02,528.38 44.98,530.63 45.30,532.50 C45.62,534.37 45.85,536.42 45.80,537.80 C45.75,539.18 46.68,540.30 45.00,540.80 C43.32,541.30 37.30,542.27 35.70,540.80 C34.10,539.33 35.43,535.13 35.40,532.00 C35.37,528.87 35.43,524.50 35.50,522.00 C35.57,519.50 35.62,518.17 35.80,517.00 C35.98,515.83 35.28,515.33 36.60,515.00 Z" fill="#1a4cff" stroke="#0a14b0" stroke-width="1.0"/>
<g clip-path="url(#cp12)">
<ellipse cx="0" cy="0" rx="1" ry="1" transform="translate(40.0 529.5) rotate(0) scale(6.5 11.0)" fill="url(#g14)"/>
<ellipse cx="0" cy="0" rx="1" ry="1" transform="translate(38.9 535.8) rotate(0) scale(6.5 7.0)" fill="url(#g15)"/>
<ellipse cx="0" cy="0" rx="1" ry="1" transform="translate(40.5 520.4) rotate(0) scale(2.0 2.2)" fill="url(#g16)"/>
</g>
<path d="M83.00,513.80 C84.45,512.97 89.45,513.47 91.00,514.00 C92.55,514.53 92.13,515.67 92.30,517.00 C92.47,518.33 92.25,520.53 92.00,522.00 C91.75,523.47 90.80,524.63 90.80,525.80 C90.80,526.97 91.70,527.63 92.00,529.00 C92.30,530.37 92.68,532.42 92.60,534.00 C92.52,535.58 92.27,537.45 91.50,538.50 C90.73,539.55 89.17,539.88 88.00,540.30 C86.83,540.72 85.25,540.22 84.50,541.00 C83.75,541.78 83.88,544.67 83.50,545.00 C83.12,545.33 82.45,544.67 82.20,543.00 C81.95,541.33 81.98,537.67 82.00,535.00 C82.02,532.33 82.25,529.67 82.30,527.00 C82.35,524.33 82.18,521.20 82.30,519.00 C82.42,516.80 81.55,514.63 83.00,513.80 Z" fill="#1a4cff" stroke="#0a14b0" stroke-width="1.0"/>
<g clip-path="url(#cp13)">
<ellipse cx="0" cy="0" rx="1" ry="1" transform="translate(86.5 532.0) rotate(0) scale(6.0 9.0)" fill="url(#g17)"/>
<ellipse cx="0" cy="0" rx="1" ry="1" transform="translate(86.0 521.0) rotate(0) scale(6.0 7.0)" fill="url(#g18)"/>
</g>
<text transform="translate(18.65,515.50) scale(0.8283,1)" font-size="10.5" fill="#1e1e1e" stroke="#1e1e1e" stroke-width="0.28" >17.2%</text>
<text transform="translate(66.41,515.70) scale(0.8907,1)" font-size="10.5" fill="#1e1e1e" stroke="#1e1e1e" stroke-width="0.28" >49.4%</text>
<text transform="translate(31.15,547.00) scale(0.8389,1)" font-size="11" fill="#1e1e1e" stroke="#1e1e1e" stroke-width="0.28" >Vehicle</text>
<text transform="translate(79.04,547.20) scale(0.8691,1)" font-size="11" fill="#1e1e1e" stroke="#1e1e1e" stroke-width="0.28" >Exo<tspan font-size="6.05" dy="-3.96">MSC</tspan></text>
<text transform="translate(20.25,561.20) scale(1.0043,1)" font-size="11" fill="#1e1e1e" stroke="#1e1e1e" stroke-width="0.28" >CD3</text>
<line x1="44.30" y1="557.40" x2="51.30" y2="557.40" stroke="#1e1e1e" stroke-width="1.25" />
<path d="M54.40,557.40 L50.80,555.30 L50.80,559.50 Z" fill="#1e1e1e" stroke="none" stroke-width="1" />
<text transform="translate(12.80,548.16) rotate(-90) scale(0.9725,1)" font-size="11" fill="#1e1e1e" stroke="#1e1e1e" stroke-width="0.28">PD-1</text>
<line x1="9.40" y1="521.80" x2="9.40" y2="513.40" stroke="#1e1e1e" stroke-width="1.25" />
<path d="M9.40,510.30 L7.30,513.90 L11.50,513.90 Z" fill="#1e1e1e" stroke="none" stroke-width="1" />
<text transform="translate(114.24,493.80) scale(0.8989,1)" font-size="10.5" fill="#1e1e1e" stroke="#1e1e1e" stroke-width="0.28" >PD-1 expressing CD3<tspan font-size="7.14" dy="-5.25">+</tspan><tspan dy="5.25"> T cells</tspan></text>
<line x1="131.50" y1="507.00" x2="131.50" y2="551.50" stroke="#606060" stroke-width="0.9" />
<line x1="131.50" y1="551.50" x2="168.30" y2="551.50" stroke="#606060" stroke-width="0.9" />
<line x1="129.70" y1="507.00" x2="131.50" y2="507.00" stroke="#888" stroke-width="0.6" />
<rect x="126.90" y="506.50" width="2.20" height="1.00" fill="#bbb" />
<line x1="129.70" y1="518.05" x2="131.50" y2="518.05" stroke="#888" stroke-width="0.6" />
<rect x="126.90" y="517.55" width="2.20" height="1.00" fill="#bbb" />
<line x1="129.70" y1="529.10" x2="131.50" y2="529.10" stroke="#888" stroke-width="0.6" />
<rect x="126.90" y="528.60" width="2.20" height="1.00" fill="#bbb" />
<line x1="129.70" y1="540.15" x2="131.50" y2="540.15" stroke="#888" stroke-width="0.6" />
<rect x="126.90" y="539.65" width="2.20" height="1.00" fill="#bbb" />
<line x1="129.70" y1="551.20" x2="131.50" y2="551.20" stroke="#888" stroke-width="0.6" />
<rect x="126.90" y="550.70" width="2.20" height="1.00" fill="#bbb" />
<circle cx="145.40" cy="524.20" r="1.10" fill="#2a2aa8" />
<circle cx="143.00" cy="536.50" r="1.10" fill="#2a2aa8" />
<circle cx="146.50" cy="537.50" r="1.10" fill="#2a2aa8" />
<circle cx="141.00" cy="539.50" r="1.10" fill="#2a2aa8" />
<circle cx="144.00" cy="540.50" r="1.10" fill="#2a2aa8" />
<circle cx="148.50" cy="540.00" r="1.10" fill="#2a2aa8" />
<circle cx="142.50" cy="542.50" r="1.10" fill="#2a2aa8" />
<circle cx="146.00" cy="543.50" r="1.10" fill="#2a2aa8" />
<circle cx="149.50" cy="542.00" r="1.10" fill="#2a2aa8" />
<circle cx="144.50" cy="546.30" r="1.10" fill="#2a2aa8" />
<line x1="140.50" y1="540.60" x2="150.00" y2="540.60" stroke="#7070c0" stroke-width="0.6" />
<circle cx="162.50" cy="509.00" r="1.15" fill="#d42020" />
<circle cx="166.50" cy="509.50" r="1.15" fill="#d42020" />
<circle cx="164.00" cy="512.00" r="1.15" fill="#d42020" />
<circle cx="167.50" cy="515.00" r="1.15" fill="#d42020" />
<circle cx="162.00" cy="517.50" r="1.15" fill="#d42020" />
<circle cx="165.50" cy="520.50" r="1.15" fill="#d42020" />
<circle cx="163.00" cy="521.00" r="1.15" fill="#d42020" />
<circle cx="167.00" cy="524.00" r="1.15" fill="#d42020" />
<circle cx="162.50" cy="527.50" r="1.15" fill="#d42020" />
<circle cx="166.00" cy="531.00" r="1.15" fill="#d42020" />
<circle cx="164.50" cy="534.80" r="1.15" fill="#d42020" />
<line x1="161.00" y1="520.40" x2="168.50" y2="520.40" stroke="#e07070" stroke-width="0.6" />
<text transform="translate(145.54,517.77) scale(1.0,1)" font-size="12.75" fill="#1e1e1e">***</text>
<line x1="149.60" y1="515.60" x2="156.70" y2="515.60" stroke="#444" stroke-width="0.7" />
<line x1="149.60" y1="514.00" x2="149.60" y2="517.20" stroke="#444" stroke-width="0.7" />
<line x1="156.70" y1="514.00" x2="156.70" y2="517.20" stroke="#444" stroke-width="0.7" />
<text transform="translate(125.00,564.93) rotate(-90) scale(0.8946,1)" font-size="10.5" fill="#1e1e1e" stroke="#1e1e1e" stroke-width="0.28">% of PD-1<tspan font-size="7.14" dy="-5.25">+</tspan><tspan dy="5.25"> cells</tspan></text>
<text transform="translate(126.17,577.83) rotate(-45) scale(0.7669,1)" font-size="11.5" fill="#1e1e1e" stroke="#1e1e1e" stroke-width="0.28">Vehicle</text>
<text transform="translate(148.87,577.63) rotate(-45) scale(0.8252,1)" font-size="11.5" fill="#1e1e1e" stroke="#1e1e1e" stroke-width="0.28">Exo<tspan font-size="6.33" dy="-4.14">MSC</tspan></text>
<line x1="194.50" y1="507.20" x2="194.50" y2="551.50" stroke="#606060" stroke-width="0.9" />
<line x1="194.50" y1="551.50" x2="235.20" y2="551.50" stroke="#606060" stroke-width="0.9" />
<line x1="188.00" y1="507.50" x2="194.50" y2="507.50" stroke="#555" stroke-width="1.1" />
<line x1="188.00" y1="514.80" x2="194.50" y2="514.80" stroke="#555" stroke-width="1.1" />
<line x1="188.00" y1="522.10" x2="194.50" y2="522.10" stroke="#555" stroke-width="1.1" />
<line x1="188.00" y1="529.40" x2="194.50" y2="529.40" stroke="#555" stroke-width="1.1" />
<line x1="188.00" y1="536.70" x2="194.50" y2="536.70" stroke="#555" stroke-width="1.1" />
<line x1="188.00" y1="544.00" x2="194.50" y2="544.00" stroke="#555" stroke-width="1.1" />
<line x1="188.00" y1="551.30" x2="194.50" y2="551.30" stroke="#555" stroke-width="1.1" />
<line x1="207.35" y1="534.70" x2="207.35" y2="532.20" stroke="#1111ee" stroke-width="0.9" />
<line x1="205.15" y1="532.20" x2="209.55" y2="532.20" stroke="#1111ee" stroke-width="0.9" />
<rect x="201.20" y="534.70" width="12.30" height="16.90" fill="#1111ee" />
<rect x="201.20" y="534.70" width="12.30" height="16.90" fill="none" stroke="#0a0a9a" stroke-width="0.6"/>
<line x1="226.45" y1="513.20" x2="226.45" y2="509.90" stroke="#ee1515" stroke-width="0.9" />
<line x1="224.25" y1="509.90" x2="228.65" y2="509.90" stroke="#ee1515" stroke-width="0.9" />
<rect x="220.40" y="513.20" width="12.10" height="38.40" fill="#ee1515" />
<rect x="220.40" y="513.20" width="12.10" height="38.40" fill="none" stroke="#a01010" stroke-width="0.6"/>
<text transform="translate(207.23,526.17) scale(1.0,1)" font-size="12.75" fill="#1e1e1e">**</text>
<line x1="207.00" y1="524.50" x2="218.50" y2="524.50" stroke="#444" stroke-width="0.7" />
<line x1="207.00" y1="523.20" x2="207.00" y2="525.80" stroke="#444" stroke-width="0.7" />
<line x1="218.50" y1="523.20" x2="218.50" y2="525.80" stroke="#444" stroke-width="0.7" />
<text transform="translate(185.80,553.91) rotate(-90) scale(1.0377,1)" font-size="11" fill="#1e1e1e" stroke="#1e1e1e" stroke-width="0.28">MFI-PD-1</text>
<text transform="translate(188.17,578.83) rotate(-45) scale(0.7669,1)" font-size="11.5" fill="#1e1e1e" stroke="#1e1e1e" stroke-width="0.28">Vehicle</text>
<text transform="translate(209.87,580.63) rotate(-45) scale(0.8252,1)" font-size="11.5" fill="#1e1e1e" stroke="#1e1e1e" stroke-width="0.28">Exo<tspan font-size="6.33" dy="-4.14">MSC</tspan></text>
<text transform="translate(242.11,493.40) scale(1.0939,1)" font-size="12.5" fill="#1e1e1e" stroke="#1e1e1e" stroke-width="0.38" >F</text>
<text transform="translate(265.52,470.90) scale(0.8356,1)" font-size="11" fill="#1e1e1e" stroke="#1e1e1e" stroke-width="0.28" >TCGA analysis</text>
<text transform="translate(266.83,480.60) scale(0.9486,1)" font-size="10" fill="#1e1e1e" stroke="#1e1e1e" stroke-width="0.28" >(n=1,100)</text>
<text transform="translate(273.48,496.10) scale(0.9467,1)" font-size="10" fill="#1e1e1e" stroke="#1e1e1e" stroke-width="0.28" >p=1.32e-19</text>
<line x1="288.20" y1="504.20" x2="298.60" y2="504.20" stroke="#333" stroke-width="0.8" />
<line x1="288.20" y1="502.40" x2="288.20" y2="506.00" stroke="#333" stroke-width="0.8" />
<line x1="298.60" y1="502.40" x2="298.60" y2="506.00" stroke="#333" stroke-width="0.8" />
<line x1="263.50" y1="499.30" x2="263.50" y2="560.50" stroke="#606060" stroke-width="0.9" />
<line x1="263.50" y1="560.50" x2="322.00" y2="560.50" stroke="#606060" stroke-width="0.9" />
<line x1="261.70" y1="499.30" x2="263.50" y2="499.30" stroke="#888" stroke-width="0.6" />
<rect x="258.90" y="498.80" width="2.20" height="1.00" fill="#bbb" />
<line x1="261.70" y1="511.60" x2="263.50" y2="511.60" stroke="#888" stroke-width="0.6" />
<rect x="258.90" y="511.10" width="2.20" height="1.00" fill="#bbb" />
<line x1="261.70" y1="523.90" x2="263.50" y2="523.90" stroke="#888" stroke-width="0.6" />
<rect x="258.90" y="523.40" width="2.20" height="1.00" fill="#bbb" />
<line x1="261.70" y1="536.20" x2="263.50" y2="536.20" stroke="#888" stroke-width="0.6" />
<rect x="258.90" y="535.70" width="2.20" height="1.00" fill="#bbb" />
<line x1="261.70" y1="548.50" x2="263.50" y2="548.50" stroke="#888" stroke-width="0.6" />
<rect x="258.90" y="548.00" width="2.20" height="1.00" fill="#bbb" />
<line x1="261.70" y1="560.80" x2="263.50" y2="560.80" stroke="#888" stroke-width="0.6" />
<rect x="258.90" y="560.30" width="2.20" height="1.00" fill="#bbb" />
<circle cx="280.91" cy="506.13" r="0.68" fill="#8c8cf2" />
<circle cx="282.49" cy="505.99" r="0.68" fill="#4848dc" />
<circle cx="281.12" cy="506.86" r="0.68" fill="#4848dc" />
<circle cx="283.06" cy="506.85" r="0.68" fill="#4848dc" />
<circle cx="280.39" cy="508.25" r="0.68" fill="#5a5ae4" />
<circle cx="283.04" cy="508.42" r="0.68" fill="#4848dc" />
<circle cx="280.41" cy="509.41" r="0.68" fill="#a0a0f6" />
<circle cx="281.78" cy="509.30" r="0.68" fill="#7272ec" />
<circle cx="283.61" cy="509.43" r="0.68" fill="#8c8cf2" />
<circle cx="280.29" cy="510.61" r="0.68" fill="#5a5ae4" />
<circle cx="281.07" cy="510.58" r="0.68" fill="#5a5ae4" />
<circle cx="282.88" cy="510.64" r="0.68" fill="#a0a0f6" />
<circle cx="284.40" cy="510.57" r="0.68" fill="#7272ec" />
<circle cx="279.48" cy="511.69" r="0.68" fill="#a0a0f6" />
<circle cx="281.13" cy="511.49" r="0.68" fill="#4848dc" />
<circle cx="282.72" cy="511.52" r="0.68" fill="#8c8cf2" />
<circle cx="284.03" cy="511.30" r="0.68" fill="#7272ec" />
<circle cx="279.37" cy="512.59" r="0.68" fill="#5a5ae4" />
<circle cx="280.65" cy="512.77" r="0.68" fill="#a0a0f6" />
<circle cx="282.07" cy="512.44" r="0.68" fill="#a0a0f6" />
<circle cx="284.41" cy="512.62" r="0.68" fill="#4848dc" />
<circle cx="279.09" cy="513.74" r="0.68" fill="#4848dc" />
<circle cx="280.87" cy="513.75" r="0.68" fill="#5a5ae4" />
<circle cx="281.91" cy="513.93" r="0.68" fill="#a0a0f6" />
<circle cx="283.71" cy="513.73" r="0.68" fill="#4848dc" />
<circle cx="285.28" cy="513.63" r="0.68" fill="#a0a0f6" />
<circle cx="278.56" cy="514.79" r="0.68" fill="#8c8cf2" />
<circle cx="281.39" cy="514.72" r="0.68" fill="#a0a0f6" />
<circle cx="282.26" cy="514.64" r="0.68" fill="#a0a0f6" />
<circle cx="283.66" cy="514.83" r="0.68" fill="#8c8cf2" />
<circle cx="284.83" cy="514.59" r="0.68" fill="#5a5ae4" />
<circle cx="278.49" cy="515.79" r="0.68" fill="#8c8cf2" />
<circle cx="279.60" cy="515.82" r="0.68" fill="#5a5ae4" />
<circle cx="281.04" cy="516.13" r="0.68" fill="#8c8cf2" />
<circle cx="282.81" cy="516.00" r="0.68" fill="#4848dc" />
<circle cx="285.38" cy="515.74" r="0.68" fill="#5a5ae4" />
<circle cx="278.05" cy="517.24" r="0.68" fill="#a0a0f6" />
<circle cx="279.45" cy="516.86" r="0.68" fill="#4848dc" />
<circle cx="280.47" cy="516.83" r="0.68" fill="#a0a0f6" />
<circle cx="282.14" cy="516.86" r="0.68" fill="#a0a0f6" />
<circle cx="283.21" cy="516.77" r="0.68" fill="#a0a0f6" />
<circle cx="284.74" cy="516.96" r="0.68" fill="#8c8cf2" />
<circle cx="285.45" cy="516.77" r="0.68" fill="#5a5ae4" />
<circle cx="278.27" cy="518.32" r="0.68" fill="#7272ec" />
<circle cx="279.25" cy="517.85" r="0.68" fill="#5a5ae4" />
<circle cx="280.73" cy="518.30" r="0.68" fill="#4848dc" />
<circle cx="281.74" cy="518.34" r="0.68" fill="#a0a0f6" />
<circle cx="283.35" cy="518.02" r="0.68" fill="#7272ec" />
<circle cx="284.74" cy="518.15" r="0.68" fill="#4848dc" />
<circle cx="285.70" cy="518.00" r="0.68" fill="#4848dc" />
<circle cx="277.36" cy="519.15" r="0.68" fill="#8c8cf2" />
<circle cx="278.78" cy="519.11" r="0.68" fill="#a0a0f6" />
<circle cx="280.81" cy="519.06" r="0.68" fill="#5a5ae4" />
<circle cx="282.27" cy="519.12" r="0.68" fill="#a0a0f6" />
<circle cx="283.41" cy="519.07" r="0.68" fill="#5a5ae4" />
<circle cx="284.51" cy="519.41" r="0.68" fill="#7272ec" />
<circle cx="286.07" cy="519.20" r="0.68" fill="#8c8cf2" />
<circle cx="277.40" cy="520.20" r="0.68" fill="#a0a0f6" />
<circle cx="279.01" cy="520.29" r="0.68" fill="#a0a0f6" />
<circle cx="280.12" cy="520.07" r="0.68" fill="#5a5ae4" />
<circle cx="281.26" cy="520.12" r="0.68" fill="#7272ec" />
<circle cx="282.51" cy="520.44" r="0.68" fill="#4848dc" />
<circle cx="283.59" cy="520.33" r="0.68" fill="#8c8cf2" />
<circle cx="285.10" cy="520.32" r="0.68" fill="#5a5ae4" />
<circle cx="286.46" cy="520.44" r="0.68" fill="#8c8cf2" />
<circle cx="276.88" cy="521.20" r="0.68" fill="#5a5ae4" />
<circle cx="278.88" cy="521.24" r="0.68" fill="#a0a0f6" />
<circle cx="279.91" cy="521.23" r="0.68" fill="#7272ec" />
<circle cx="281.05" cy="521.37" r="0.68" fill="#4848dc" />
<circle cx="282.92" cy="521.56" r="0.68" fill="#a0a0f6" />
<circle cx="283.83" cy="521.20" r="0.68" fill="#8c8cf2" />
<circle cx="287.11" cy="521.45" r="0.68" fill="#4848dc" />
<circle cx="276.95" cy="522.28" r="0.68" fill="#8c8cf2" />
<circle cx="278.83" cy="522.31" r="0.68" fill="#7272ec" />
<circle cx="280.10" cy="522.70" r="0.68" fill="#4848dc" />
<circle cx="281.42" cy="522.52" r="0.68" fill="#8c8cf2" />
<circle cx="282.47" cy="522.66" r="0.68" fill="#5a5ae4" />
<circle cx="284.51" cy="522.58" r="0.68" fill="#8c8cf2" />
<circle cx="285.90" cy="522.40" r="0.68" fill="#8c8cf2" />
<circle cx="286.71" cy="522.54" r="0.68" fill="#8c8cf2" />
<circle cx="276.60" cy="523.66" r="0.68" fill="#a0a0f6" />
<circle cx="277.77" cy="523.75" r="0.68" fill="#4848dc" />
<circle cx="279.06" cy="523.39" r="0.68" fill="#5a5ae4" />
<circle cx="282.20" cy="523.58" r="0.68" fill="#7272ec" />
<circle cx="282.98" cy="523.51" r="0.68" fill="#a0a0f6" />
<circle cx="284.96" cy="523.74" r="0.68" fill="#7272ec" />
<circle cx="286.16" cy="523.40" r="0.68" fill="#a0a0f6" />
<circle cx="287.47" cy="523.41" r="0.68" fill="#7272ec" />
<circle cx="276.28" cy="524.47" r="0.68" fill="#8c8cf2" />
<circle cx="278.18" cy="524.79" r="0.68" fill="#a0a0f6" />
<circle cx="279.55" cy="524.79" r="0.68" fill="#7272ec" />
<circle cx="280.48" cy="524.47" r="0.68" fill="#7272ec" />
<circle cx="281.80" cy="524.93" r="0.68" fill="#4848dc" />
<circle cx="283.40" cy="524.88" r="0.68" fill="#4848dc" />
<circle cx="284.33" cy="524.54" r="0.68" fill="#4848dc" />
<circle cx="285.70" cy="524.66" r="0.68" fill="#a0a0f6" />
<circle cx="287.05" cy="524.74" r="0.68" fill="#a0a0f6" />
<circle cx="275.97" cy="525.96" r="0.68" fill="#4848dc" />
<circle cx="277.60" cy="525.59" r="0.68" fill="#4848dc" />
<circle cx="278.42" cy="525.80" r="0.68" fill="#4848dc" />
<circle cx="280.43" cy="525.66" r="0.68" fill="#8c8cf2" />
<circle cx="281.36" cy="525.66" r="0.68" fill="#4848dc" />
<circle cx="282.51" cy="525.91" r="0.68" fill="#8c8cf2" />
<circle cx="284.29" cy="526.01" r="0.68" fill="#a0a0f6" />
<circle cx="285.30" cy="525.81" r="0.68" fill="#7272ec" />
<circle cx="286.30" cy="525.97" r="0.68" fill="#8c8cf2" />
<circle cx="287.46" cy="525.78" r="0.68" fill="#5a5ae4" />
<circle cx="276.24" cy="527.13" r="0.68" fill="#a0a0f6" />
<circle cx="277.20" cy="526.86" r="0.68" fill="#a0a0f6" />
<circle cx="278.82" cy="526.90" r="0.68" fill="#4848dc" />
<circle cx="280.16" cy="526.91" r="0.68" fill="#7272ec" />
<circle cx="281.36" cy="526.91" r="0.68" fill="#5a5ae4" />
<circle cx="282.92" cy="526.78" r="0.68" fill="#5a5ae4" />
<circle cx="284.38" cy="527.04" r="0.68" fill="#5a5ae4" />
<circle cx="285.31" cy="527.14" r="0.68" fill="#4848dc" />
<circle cx="287.05" cy="526.85" r="0.68" fill="#8c8cf2" />
<circle cx="287.99" cy="526.89" r="0.68" fill="#7272ec" />
<circle cx="275.34" cy="527.95" r="0.68" fill="#5a5ae4" />
<circle cx="277.04" cy="527.94" r="0.68" fill="#a0a0f6" />
<circle cx="277.79" cy="527.97" r="0.68" fill="#5a5ae4" />
<circle cx="279.08" cy="527.87" r="0.68" fill="#8c8cf2" />
<circle cx="280.49" cy="528.02" r="0.68" fill="#8c8cf2" />
<circle cx="281.85" cy="528.17" r="0.68" fill="#4848dc" />
<circle cx="283.50" cy="528.24" r="0.68" fill="#a0a0f6" />
<circle cx="284.43" cy="527.81" r="0.68" fill="#7272ec" />
<circle cx="285.87" cy="527.89" r="0.68" fill="#5a5ae4" />
<circle cx="275.17" cy="529.21" r="0.68" fill="#7272ec" />
<circle cx="276.32" cy="529.25" r="0.68" fill="#4848dc" />
<circle cx="278.00" cy="529.11" r="0.68" fill="#5a5ae4" />
<circle cx="279.03" cy="529.03" r="0.68" fill="#a0a0f6" />
<circle cx="280.59" cy="529.19" r="0.68" fill="#4848dc" />
<circle cx="281.69" cy="529.04" r="0.68" fill="#a0a0f6" />
<circle cx="282.94" cy="529.15" r="0.68" fill="#a0a0f6" />
<circle cx="284.43" cy="529.15" r="0.68" fill="#a0a0f6" />
<circle cx="285.93" cy="529.34" r="0.68" fill="#8c8cf2" />
<circle cx="287.50" cy="529.18" r="0.68" fill="#7272ec" />
<circle cx="274.93" cy="530.15" r="0.68" fill="#a0a0f6" />
<circle cx="276.35" cy="530.40" r="0.68" fill="#5a5ae4" />
<circle cx="277.55" cy="530.27" r="0.68" fill="#8c8cf2" />
<circle cx="278.93" cy="530.26" r="0.68" fill="#4848dc" />
<circle cx="280.32" cy="530.33" r="0.68" fill="#a0a0f6" />
<circle cx="280.97" cy="530.35" r="0.68" fill="#4848dc" />
<circle cx="282.93" cy="530.03" r="0.68" fill="#8c8cf2" />
<circle cx="283.89" cy="529.97" r="0.68" fill="#a0a0f6" />
<circle cx="284.85" cy="529.98" r="0.68" fill="#5a5ae4" />
<circle cx="287.72" cy="530.30" r="0.68" fill="#4848dc" />
<circle cx="289.09" cy="530.10" r="0.68" fill="#a0a0f6" />
<circle cx="274.47" cy="531.18" r="0.68" fill="#5a5ae4" />
<circle cx="276.19" cy="531.38" r="0.68" fill="#4848dc" />
<circle cx="277.36" cy="531.13" r="0.68" fill="#a0a0f6" />
<circle cx="278.50" cy="531.17" r="0.68" fill="#a0a0f6" />
<circle cx="279.93" cy="531.18" r="0.68" fill="#a0a0f6" />
<circle cx="281.20" cy="531.53" r="0.68" fill="#7272ec" />
<circle cx="284.31" cy="531.21" r="0.68" fill="#4848dc" />
<circle cx="285.66" cy="531.18" r="0.68" fill="#5a5ae4" />
<circle cx="286.75" cy="531.54" r="0.68" fill="#4848dc" />
<circle cx="288.04" cy="531.12" r="0.68" fill="#8c8cf2" />
<circle cx="289.27" cy="531.44" r="0.68" fill="#4848dc" />
<circle cx="274.32" cy="532.27" r="0.68" fill="#7272ec" />
<circle cx="275.86" cy="532.20" r="0.68" fill="#4848dc" />
<circle cx="276.81" cy="532.63" r="0.68" fill="#5a5ae4" />
<circle cx="277.86" cy="532.59" r="0.68" fill="#7272ec" />
<circle cx="279.62" cy="532.41" r="0.68" fill="#a0a0f6" />
<circle cx="280.69" cy="532.29" r="0.68" fill="#a0a0f6" />
<circle cx="282.15" cy="532.35" r="0.68" fill="#4848dc" />
<circle cx="283.22" cy="532.64" r="0.68" fill="#7272ec" />
<circle cx="284.78" cy="532.44" r="0.68" fill="#7272ec" />
<circle cx="285.75" cy="532.40" r="0.68" fill="#5a5ae4" />
<circle cx="287.38" cy="532.17" r="0.68" fill="#5a5ae4" />
<circle cx="288.60" cy="532.34" r="0.68" fill="#a0a0f6" />
<circle cx="289.40" cy="532.23" r="0.68" fill="#7272ec" />
<circle cx="275.43" cy="533.52" r="0.68" fill="#a0a0f6" />
<circle cx="276.72" cy="533.48" r="0.68" fill="#8c8cf2" />
<circle cx="279.06" cy="533.27" r="0.68" fill="#8c8cf2" />
<circle cx="280.93" cy="533.35" r="0.68" fill="#4848dc" />
<circle cx="282.11" cy="533.59" r="0.68" fill="#7272ec" />
<circle cx="283.43" cy="533.57" r="0.68" fill="#8c8cf2" />
<circle cx="284.70" cy="533.28" r="0.68" fill="#a0a0f6" />
<circle cx="285.63" cy="533.60" r="0.68" fill="#a0a0f6" />
<circle cx="287.56" cy="533.52" r="0.68" fill="#a0a0f6" />
<circle cx="288.24" cy="533.46" r="0.68" fill="#5a5ae4" />
<circle cx="289.95" cy="533.61" r="0.68" fill="#5a5ae4" />
<circle cx="273.82" cy="534.43" r="0.68" fill="#7272ec" />
<circle cx="275.64" cy="534.38" r="0.68" fill="#5a5ae4" />
<circle cx="277.01" cy="534.60" r="0.68" fill="#5a5ae4" />
<circle cx="279.37" cy="534.41" r="0.68" fill="#4848dc" />
<circle cx="280.88" cy="534.57" r="0.68" fill="#a0a0f6" />
<circle cx="281.82" cy="534.51" r="0.68" fill="#8c8cf2" />
<circle cx="282.96" cy="534.72" r="0.68" fill="#8c8cf2" />
<circle cx="284.85" cy="534.54" r="0.68" fill="#5a5ae4" />
<circle cx="286.27" cy="534.56" r="0.68" fill="#7272ec" />
<circle cx="287.32" cy="534.81" r="0.68" fill="#a0a0f6" />
<circle cx="288.87" cy="534.64" r="0.68" fill="#5a5ae4" />
<circle cx="289.68" cy="534.61" r="0.68" fill="#a0a0f6" />
<circle cx="274.00" cy="535.80" r="0.68" fill="#a0a0f6" />
<circle cx="274.70" cy="535.95" r="0.68" fill="#7272ec" />
<circle cx="276.10" cy="535.61" r="0.68" fill="#4848dc" />
<circle cx="277.47" cy="535.47" r="0.68" fill="#a0a0f6" />
<circle cx="278.71" cy="535.63" r="0.68" fill="#8c8cf2" />
<circle cx="280.31" cy="535.45" r="0.68" fill="#5a5ae4" />
<circle cx="281.09" cy="535.61" r="0.68" fill="#8c8cf2" />
<circle cx="282.69" cy="535.59" r="0.68" fill="#4848dc" />
<circle cx="284.22" cy="535.93" r="0.68" fill="#5a5ae4" />
<circle cx="285.48" cy="535.52" r="0.68" fill="#a0a0f6" />
<circle cx="286.40" cy="535.58" r="0.68" fill="#7272ec" />
<circle cx="287.82" cy="535.63" r="0.68" fill="#8c8cf2" />
<circle cx="288.84" cy="535.94" r="0.68" fill="#a0a0f6" />
<circle cx="273.42" cy="536.62" r="0.68" fill="#5a5ae4" />
<circle cx="274.66" cy="536.91" r="0.68" fill="#5a5ae4" />
<circle cx="276.45" cy="536.89" r="0.68" fill="#5a5ae4" />
<circle cx="277.25" cy="536.84" r="0.68" fill="#5a5ae4" />
<circle cx="279.06" cy="536.66" r="0.68" fill="#7272ec" />
<circle cx="280.08" cy="536.85" r="0.68" fill="#4848dc" />
<circle cx="281.52" cy="537.00" r="0.68" fill="#a0a0f6" />
<circle cx="282.64" cy="536.67" r="0.68" fill="#4848dc" />
<circle cx="284.07" cy="537.02" r="0.68" fill="#4848dc" />
<circle cx="285.40" cy="537.05" r="0.68" fill="#8c8cf2" />
<circle cx="287.83" cy="536.99" r="0.68" fill="#5a5ae4" />
<circle cx="289.01" cy="536.95" r="0.68" fill="#a0a0f6" />
<circle cx="290.32" cy="537.04" r="0.68" fill="#5a5ae4" />
<circle cx="273.17" cy="538.00" r="0.68" fill="#5a5ae4" />
<circle cx="274.77" cy="537.91" r="0.68" fill="#8c8cf2" />
<circle cx="276.44" cy="537.94" r="0.68" fill="#a0a0f6" />
<circle cx="277.21" cy="538.12" r="0.68" fill="#a0a0f6" />
<circle cx="278.63" cy="537.80" r="0.68" fill="#8c8cf2" />
<circle cx="279.72" cy="537.72" r="0.68" fill="#7272ec" />
<circle cx="282.60" cy="537.67" r="0.68" fill="#4848dc" />
<circle cx="283.90" cy="538.10" r="0.68" fill="#5a5ae4" />
<circle cx="285.62" cy="538.07" r="0.68" fill="#4848dc" />
<circle cx="286.44" cy="538.04" r="0.68" fill="#4848dc" />
<circle cx="288.16" cy="538.05" r="0.68" fill="#4848dc" />
<circle cx="289.15" cy="537.66" r="0.68" fill="#7272ec" />
<circle cx="290.83" cy="537.71" r="0.68" fill="#8c8cf2" />
<circle cx="273.85" cy="539.22" r="0.68" fill="#8c8cf2" />
<circle cx="274.99" cy="538.97" r="0.68" fill="#4848dc" />
<circle cx="275.88" cy="539.22" r="0.68" fill="#4848dc" />
<circle cx="277.59" cy="538.81" r="0.68" fill="#7272ec" />
<circle cx="279.84" cy="539.23" r="0.68" fill="#4848dc" />
<circle cx="281.46" cy="538.75" r="0.68" fill="#4848dc" />
<circle cx="282.74" cy="539.02" r="0.68" fill="#a0a0f6" />
<circle cx="285.40" cy="539.12" r="0.68" fill="#4848dc" />
<circle cx="286.85" cy="539.25" r="0.68" fill="#8c8cf2" />
<circle cx="287.64" cy="539.10" r="0.68" fill="#5a5ae4" />
<circle cx="289.43" cy="538.79" r="0.68" fill="#4848dc" />
<circle cx="290.21" cy="539.09" r="0.68" fill="#4848dc" />
<circle cx="273.90" cy="540.28" r="0.68" fill="#5a5ae4" />
<circle cx="274.59" cy="540.20" r="0.68" fill="#7272ec" />
<circle cx="276.19" cy="540.29" r="0.68" fill="#a0a0f6" />
<circle cx="277.30" cy="540.30" r="0.68" fill="#a0a0f6" />
<circle cx="279.09" cy="540.16" r="0.68" fill="#4848dc" />
<circle cx="279.74" cy="540.21" r="0.68" fill="#8c8cf2" />
<circle cx="281.69" cy="539.98" r="0.68" fill="#a0a0f6" />
<circle cx="282.75" cy="540.30" r="0.68" fill="#5a5ae4" />
<circle cx="283.73" cy="540.20" r="0.68" fill="#4848dc" />
<circle cx="284.96" cy="540.05" r="0.68" fill="#a0a0f6" />
<circle cx="288.10" cy="540.32" r="0.68" fill="#8c8cf2" />
<circle cx="288.95" cy="539.98" r="0.68" fill="#7272ec" />
<circle cx="290.42" cy="539.97" r="0.68" fill="#7272ec" />
<circle cx="273.76" cy="541.39" r="0.68" fill="#4848dc" />
<circle cx="276.10" cy="541.27" r="0.68" fill="#7272ec" />
<circle cx="277.37" cy="541.12" r="0.68" fill="#7272ec" />
<circle cx="279.11" cy="541.06" r="0.68" fill="#a0a0f6" />
<circle cx="281.10" cy="541.23" r="0.68" fill="#a0a0f6" />
<circle cx="282.69" cy="541.16" r="0.68" fill="#5a5ae4" />
<circle cx="284.14" cy="541.36" r="0.68" fill="#7272ec" />
<circle cx="284.87" cy="541.29" r="0.68" fill="#8c8cf2" />
<circle cx="286.30" cy="541.14" r="0.68" fill="#5a5ae4" />
<circle cx="287.63" cy="541.08" r="0.68" fill="#7272ec" />
<circle cx="289.99" cy="541.00" r="0.68" fill="#8c8cf2" />
<circle cx="273.57" cy="542.23" r="0.68" fill="#5a5ae4" />
<circle cx="274.75" cy="542.52" r="0.68" fill="#7272ec" />
<circle cx="275.98" cy="542.05" r="0.68" fill="#8c8cf2" />
<circle cx="277.93" cy="542.51" r="0.68" fill="#7272ec" />
<circle cx="278.92" cy="542.25" r="0.68" fill="#a0a0f6" />
<circle cx="280.20" cy="542.33" r="0.68" fill="#a0a0f6" />
<circle cx="281.71" cy="542.16" r="0.68" fill="#8c8cf2" />
<circle cx="283.91" cy="542.16" r="0.68" fill="#4848dc" />
<circle cx="286.46" cy="542.18" r="0.68" fill="#7272ec" />
<circle cx="287.62" cy="542.24" r="0.68" fill="#a0a0f6" />
<circle cx="288.86" cy="542.45" r="0.68" fill="#a0a0f6" />
<circle cx="273.71" cy="543.23" r="0.68" fill="#a0a0f6" />
<circle cx="274.83" cy="543.26" r="0.68" fill="#8c8cf2" />
<circle cx="276.26" cy="543.23" r="0.68" fill="#4848dc" />
<circle cx="277.88" cy="543.64" r="0.68" fill="#7272ec" />
<circle cx="278.69" cy="543.55" r="0.68" fill="#a0a0f6" />
<circle cx="280.48" cy="543.15" r="0.68" fill="#7272ec" />
<circle cx="281.28" cy="543.59" r="0.68" fill="#4848dc" />
<circle cx="282.25" cy="543.49" r="0.68" fill="#8c8cf2" />
<circle cx="284.22" cy="543.45" r="0.68" fill="#5a5ae4" />
<circle cx="284.81" cy="543.47" r="0.68" fill="#5a5ae4" />
<circle cx="286.63" cy="543.44" r="0.68" fill="#a0a0f6" />
<circle cx="287.64" cy="543.29" r="0.68" fill="#a0a0f6" />
<circle cx="289.21" cy="543.55" r="0.68" fill="#7272ec" />
<circle cx="290.48" cy="543.20" r="0.68" fill="#8c8cf2" />
<circle cx="274.25" cy="544.27" r="0.68" fill="#8c8cf2" />
<circle cx="275.24" cy="544.38" r="0.68" fill="#5a5ae4" />
<circle cx="276.73" cy="544.43" r="0.68" fill="#8c8cf2" />
<circle cx="277.93" cy="544.57" r="0.68" fill="#a0a0f6" />
<circle cx="279.03" cy="544.31" r="0.68" fill="#a0a0f6" />
<circle cx="280.40" cy="544.49" r="0.68" fill="#8c8cf2" />
<circle cx="282.21" cy="544.54" r="0.68" fill="#4848dc" />
<circle cx="283.66" cy="544.67" r="0.68" fill="#7272ec" />
<circle cx="284.60" cy="544.37" r="0.68" fill="#8c8cf2" />
<circle cx="286.15" cy="544.48" r="0.68" fill="#4848dc" />
<circle cx="287.26" cy="544.58" r="0.68" fill="#7272ec" />
<circle cx="288.65" cy="544.31" r="0.68" fill="#4848dc" />
<circle cx="290.38" cy="544.32" r="0.68" fill="#4848dc" />
<circle cx="274.11" cy="545.68" r="0.68" fill="#7272ec" />
<circle cx="275.45" cy="545.60" r="0.68" fill="#8c8cf2" />
<circle cx="277.12" cy="545.61" r="0.68" fill="#5a5ae4" />
<circle cx="279.31" cy="545.72" r="0.68" fill="#7272ec" />
<circle cx="280.73" cy="545.35" r="0.68" fill="#7272ec" />
<circle cx="282.39" cy="545.68" r="0.68" fill="#8c8cf2" />
<circle cx="283.43" cy="545.62" r="0.68" fill="#a0a0f6" />
<circle cx="284.97" cy="545.64" r="0.68" fill="#a0a0f6" />
<circle cx="285.68" cy="545.37" r="0.68" fill="#a0a0f6" />
<circle cx="287.39" cy="545.70" r="0.68" fill="#a0a0f6" />
<circle cx="288.18" cy="545.58" r="0.68" fill="#a0a0f6" />
<circle cx="289.94" cy="545.63" r="0.68" fill="#4848dc" />
<circle cx="274.15" cy="546.84" r="0.68" fill="#5a5ae4" />
<circle cx="276.24" cy="546.59" r="0.68" fill="#4848dc" />
<circle cx="276.97" cy="546.73" r="0.68" fill="#8c8cf2" />
<circle cx="278.81" cy="546.95" r="0.68" fill="#4848dc" />
<circle cx="280.00" cy="546.80" r="0.68" fill="#7272ec" />
<circle cx="281.32" cy="546.91" r="0.68" fill="#8c8cf2" />
<circle cx="282.73" cy="546.84" r="0.68" fill="#a0a0f6" />
<circle cx="283.71" cy="546.91" r="0.68" fill="#8c8cf2" />
<circle cx="285.21" cy="546.59" r="0.68" fill="#4848dc" />
<circle cx="286.38" cy="546.93" r="0.68" fill="#7272ec" />
<circle cx="287.89" cy="546.72" r="0.68" fill="#7272ec" />
<circle cx="289.52" cy="546.57" r="0.68" fill="#7272ec" />
<circle cx="274.88" cy="547.65" r="0.68" fill="#5a5ae4" />
<circle cx="275.86" cy="547.57" r="0.68" fill="#4848dc" />
<circle cx="277.35" cy="547.85" r="0.68" fill="#7272ec" />
<circle cx="278.88" cy="548.01" r="0.68" fill="#4848dc" />
<circle cx="279.76" cy="547.91" r="0.68" fill="#4848dc" />
<circle cx="281.23" cy="547.66" r="0.68" fill="#7272ec" />
<circle cx="282.53" cy="547.59" r="0.68" fill="#8c8cf2" />
<circle cx="283.72" cy="547.70" r="0.68" fill="#a0a0f6" />
<circle cx="285.33" cy="547.93" r="0.68" fill="#8c8cf2" />
<circle cx="288.08" cy="547.62" r="0.68" fill="#5a5ae4" />
<circle cx="288.85" cy="547.84" r="0.68" fill="#7272ec" />
<circle cx="275.17" cy="549.11" r="0.68" fill="#7272ec" />
<circle cx="276.79" cy="549.11" r="0.68" fill="#7272ec" />
<circle cx="278.15" cy="549.01" r="0.68" fill="#5a5ae4" />
<circle cx="279.51" cy="548.93" r="0.68" fill="#4848dc" />
<circle cx="280.67" cy="548.67" r="0.68" fill="#7272ec" />
<circle cx="282.14" cy="548.90" r="0.68" fill="#4848dc" />
<circle cx="283.74" cy="548.86" r="0.68" fill="#8c8cf2" />
<circle cx="284.73" cy="549.07" r="0.68" fill="#7272ec" />
<circle cx="286.15" cy="548.67" r="0.68" fill="#7272ec" />
<circle cx="287.38" cy="549.06" r="0.68" fill="#8c8cf2" />
<circle cx="289.16" cy="548.99" r="0.68" fill="#5a5ae4" />
<circle cx="275.78" cy="549.84" r="0.68" fill="#7272ec" />
<circle cx="276.88" cy="550.00" r="0.68" fill="#a0a0f6" />
<circle cx="277.99" cy="550.08" r="0.68" fill="#a0a0f6" />
<circle cx="279.79" cy="549.78" r="0.68" fill="#5a5ae4" />
<circle cx="280.67" cy="549.84" r="0.68" fill="#7272ec" />
<circle cx="282.28" cy="549.98" r="0.68" fill="#a0a0f6" />
<circle cx="283.30" cy="550.17" r="0.68" fill="#4848dc" />
<circle cx="284.27" cy="550.01" r="0.68" fill="#a0a0f6" />
<circle cx="286.02" cy="550.20" r="0.68" fill="#4848dc" />
<circle cx="288.86" cy="549.76" r="0.68" fill="#8c8cf2" />
<circle cx="276.12" cy="550.92" r="0.68" fill="#a0a0f6" />
<circle cx="277.42" cy="550.88" r="0.68" fill="#a0a0f6" />
<circle cx="278.92" cy="551.06" r="0.68" fill="#a0a0f6" />
<circle cx="280.25" cy="550.91" r="0.68" fill="#a0a0f6" />
<circle cx="281.36" cy="551.02" r="0.68" fill="#8c8cf2" />
<circle cx="283.88" cy="551.30" r="0.68" fill="#5a5ae4" />
<circle cx="285.58" cy="551.10" r="0.68" fill="#a0a0f6" />
<circle cx="286.23" cy="551.01" r="0.68" fill="#7272ec" />
<circle cx="287.67" cy="551.14" r="0.68" fill="#4848dc" />
<circle cx="276.45" cy="552.36" r="0.68" fill="#8c8cf2" />
<circle cx="278.23" cy="551.97" r="0.68" fill="#5a5ae4" />
<circle cx="279.51" cy="552.35" r="0.68" fill="#4848dc" />
<circle cx="280.69" cy="552.26" r="0.68" fill="#5a5ae4" />
<circle cx="282.17" cy="552.43" r="0.68" fill="#4848dc" />
<circle cx="283.02" cy="552.31" r="0.68" fill="#8c8cf2" />
<circle cx="284.49" cy="552.31" r="0.68" fill="#5a5ae4" />
<circle cx="286.24" cy="552.39" r="0.68" fill="#7272ec" />
<circle cx="287.66" cy="552.11" r="0.68" fill="#8c8cf2" />
<circle cx="277.44" cy="553.27" r="0.68" fill="#8c8cf2" />
<circle cx="280.31" cy="553.13" r="0.68" fill="#a0a0f6" />
<circle cx="280.94" cy="553.38" r="0.68" fill="#a0a0f6" />
<circle cx="282.63" cy="553.15" r="0.68" fill="#5a5ae4" />
<circle cx="284.15" cy="553.30" r="0.68" fill="#8c8cf2" />
<circle cx="285.43" cy="553.23" r="0.68" fill="#4848dc" />
<circle cx="286.72" cy="553.41" r="0.68" fill="#7272ec" />
<circle cx="278.04" cy="554.16" r="0.68" fill="#4848dc" />
<circle cx="278.76" cy="554.43" r="0.68" fill="#5a5ae4" />
<circle cx="280.35" cy="554.41" r="0.68" fill="#7272ec" />
<circle cx="281.63" cy="554.25" r="0.68" fill="#8c8cf2" />
<circle cx="283.23" cy="554.31" r="0.68" fill="#5a5ae4" />
<circle cx="284.62" cy="554.49" r="0.68" fill="#8c8cf2" />
<circle cx="286.66" cy="554.46" r="0.68" fill="#8c8cf2" />
<circle cx="279.53" cy="555.58" r="0.68" fill="#4848dc" />
<circle cx="281.54" cy="555.42" r="0.68" fill="#4848dc" />
<circle cx="282.47" cy="555.50" r="0.68" fill="#a0a0f6" />
<circle cx="284.20" cy="555.50" r="0.68" fill="#4848dc" />
<circle cx="285.67" cy="555.70" r="0.68" fill="#4848dc" />
<circle cx="279.40" cy="556.48" r="0.68" fill="#a0a0f6" />
<circle cx="280.50" cy="556.55" r="0.68" fill="#a0a0f6" />
<circle cx="281.81" cy="556.65" r="0.68" fill="#5a5ae4" />
<circle cx="283.57" cy="556.53" r="0.68" fill="#a0a0f6" />
<circle cx="284.64" cy="556.81" r="0.68" fill="#7272ec" />
<circle cx="280.13" cy="557.77" r="0.68" fill="#8c8cf2" />
<circle cx="282.30" cy="557.58" r="0.68" fill="#a0a0f6" />
<circle cx="283.97" cy="557.46" r="0.68" fill="#8c8cf2" />
<circle cx="307.56" cy="501.58" r="0.68" fill="#f06464" />
<circle cx="308.69" cy="501.95" r="0.68" fill="#f49a9a" />
<circle cx="306.70" cy="502.67" r="0.68" fill="#f28080" />
<circle cx="309.50" cy="503.05" r="0.68" fill="#f6b0b0" />
<circle cx="306.96" cy="503.97" r="0.68" fill="#f49a9a" />
<circle cx="308.32" cy="503.93" r="0.68" fill="#f49a9a" />
<circle cx="309.73" cy="504.19" r="0.68" fill="#f28080" />
<circle cx="306.34" cy="504.86" r="0.68" fill="#f49a9a" />
<circle cx="307.74" cy="505.03" r="0.68" fill="#f6b0b0" />
<circle cx="309.84" cy="505.30" r="0.68" fill="#e85050" />
<circle cx="306.18" cy="506.33" r="0.68" fill="#f6b0b0" />
<circle cx="307.21" cy="506.43" r="0.68" fill="#f28080" />
<circle cx="309.03" cy="506.32" r="0.68" fill="#f6b0b0" />
<circle cx="309.81" cy="506.20" r="0.68" fill="#f6b0b0" />
<circle cx="305.96" cy="507.49" r="0.68" fill="#e85050" />
<circle cx="307.11" cy="507.33" r="0.68" fill="#e85050" />
<circle cx="308.76" cy="507.21" r="0.68" fill="#f28080" />
<circle cx="310.61" cy="507.44" r="0.68" fill="#e85050" />
<circle cx="305.21" cy="508.50" r="0.68" fill="#f6b0b0" />
<circle cx="306.73" cy="508.46" r="0.68" fill="#e85050" />
<circle cx="307.85" cy="508.41" r="0.68" fill="#f6b0b0" />
<circle cx="309.62" cy="508.32" r="0.68" fill="#f06464" />
<circle cx="310.96" cy="508.52" r="0.68" fill="#f06464" />
<circle cx="306.57" cy="509.71" r="0.68" fill="#f6b0b0" />
<circle cx="307.71" cy="509.66" r="0.68" fill="#f06464" />
<circle cx="309.44" cy="509.27" r="0.68" fill="#f49a9a" />
<circle cx="310.89" cy="509.26" r="0.68" fill="#f06464" />
<circle cx="307.13" cy="510.43" r="0.68" fill="#f28080" />
<circle cx="310.09" cy="510.47" r="0.68" fill="#f06464" />
<circle cx="310.97" cy="510.66" r="0.68" fill="#f06464" />
<circle cx="304.10" cy="511.60" r="0.68" fill="#f6b0b0" />
<circle cx="305.97" cy="511.90" r="0.68" fill="#e85050" />
<circle cx="307.54" cy="511.69" r="0.68" fill="#f28080" />
<circle cx="308.42" cy="511.87" r="0.68" fill="#f06464" />
<circle cx="310.20" cy="511.51" r="0.68" fill="#f6b0b0" />
<circle cx="311.96" cy="511.61" r="0.68" fill="#f49a9a" />
<circle cx="303.71" cy="512.76" r="0.68" fill="#f06464" />
<circle cx="305.43" cy="512.89" r="0.68" fill="#f49a9a" />
<circle cx="306.26" cy="512.60" r="0.68" fill="#f28080" />
<circle cx="308.01" cy="513.02" r="0.68" fill="#f28080" />
<circle cx="309.15" cy="512.68" r="0.68" fill="#f6b0b0" />
<circle cx="310.52" cy="512.86" r="0.68" fill="#f49a9a" />
<circle cx="311.91" cy="512.81" r="0.68" fill="#f06464" />
<circle cx="303.25" cy="513.73" r="0.68" fill="#f6b0b0" />
<circle cx="304.99" cy="513.70" r="0.68" fill="#f28080" />
<circle cx="306.29" cy="513.66" r="0.68" fill="#e85050" />
<circle cx="307.32" cy="513.84" r="0.68" fill="#f28080" />
<circle cx="308.82" cy="513.91" r="0.68" fill="#f6b0b0" />
<circle cx="309.99" cy="514.11" r="0.68" fill="#f6b0b0" />
<circle cx="310.94" cy="514.05" r="0.68" fill="#f49a9a" />
<circle cx="312.08" cy="513.71" r="0.68" fill="#f49a9a" />
<circle cx="302.83" cy="514.94" r="0.68" fill="#f06464" />
<circle cx="304.55" cy="514.80" r="0.68" fill="#f28080" />
<circle cx="305.77" cy="514.76" r="0.68" fill="#e85050" />
<circle cx="306.40" cy="514.98" r="0.68" fill="#f6b0b0" />
<circle cx="308.87" cy="515.11" r="0.68" fill="#f28080" />
<circle cx="310.70" cy="515.04" r="0.68" fill="#e85050" />
<circle cx="311.92" cy="514.92" r="0.68" fill="#f06464" />
<circle cx="312.80" cy="515.06" r="0.68" fill="#f49a9a" />
<circle cx="302.56" cy="516.20" r="0.68" fill="#f06464" />
<circle cx="303.93" cy="515.87" r="0.68" fill="#e85050" />
<circle cx="305.06" cy="515.92" r="0.68" fill="#f49a9a" />
<circle cx="306.43" cy="516.09" r="0.68" fill="#e85050" />
<circle cx="308.35" cy="516.00" r="0.68" fill="#f28080" />
<circle cx="309.11" cy="516.12" r="0.68" fill="#f06464" />
<circle cx="310.84" cy="515.90" r="0.68" fill="#f49a9a" />
<circle cx="311.90" cy="516.25" r="0.68" fill="#f06464" />
<circle cx="313.79" cy="516.19" r="0.68" fill="#f06464" />
<circle cx="301.60" cy="517.07" r="0.68" fill="#f49a9a" />
<circle cx="303.21" cy="517.01" r="0.68" fill="#f6b0b0" />
<circle cx="305.00" cy="517.16" r="0.68" fill="#f49a9a" />
<circle cx="305.98" cy="517.08" r="0.68" fill="#f28080" />
<circle cx="307.29" cy="517.15" r="0.68" fill="#f49a9a" />
<circle cx="308.90" cy="517.02" r="0.68" fill="#e85050" />
<circle cx="310.21" cy="517.14" r="0.68" fill="#f28080" />
<circle cx="312.56" cy="517.32" r="0.68" fill="#e85050" />
<circle cx="314.26" cy="517.43" r="0.68" fill="#f49a9a" />
<circle cx="301.52" cy="518.09" r="0.68" fill="#f28080" />
<circle cx="302.71" cy="518.46" r="0.68" fill="#e85050" />
<circle cx="304.39" cy="518.06" r="0.68" fill="#e85050" />
<circle cx="305.36" cy="518.28" r="0.68" fill="#f28080" />
<circle cx="308.35" cy="518.35" r="0.68" fill="#f28080" />
<circle cx="309.64" cy="518.46" r="0.68" fill="#f28080" />
<circle cx="310.48" cy="518.34" r="0.68" fill="#e85050" />
<circle cx="312.23" cy="518.36" r="0.68" fill="#e85050" />
<circle cx="313.31" cy="518.14" r="0.68" fill="#f28080" />
<circle cx="315.03" cy="518.23" r="0.68" fill="#e85050" />
<circle cx="300.83" cy="519.18" r="0.68" fill="#f6b0b0" />
<circle cx="302.10" cy="519.32" r="0.68" fill="#f49a9a" />
<circle cx="303.72" cy="519.64" r="0.68" fill="#f6b0b0" />
<circle cx="304.93" cy="519.53" r="0.68" fill="#e85050" />
<circle cx="305.84" cy="519.57" r="0.68" fill="#f28080" />
<circle cx="306.99" cy="519.65" r="0.68" fill="#f49a9a" />
<circle cx="308.38" cy="519.38" r="0.68" fill="#f06464" />
<circle cx="309.86" cy="519.34" r="0.68" fill="#e85050" />
<circle cx="311.04" cy="519.40" r="0.68" fill="#f28080" />
<circle cx="312.57" cy="519.61" r="0.68" fill="#f06464" />
<circle cx="313.70" cy="519.32" r="0.68" fill="#f49a9a" />
<circle cx="315.32" cy="519.57" r="0.68" fill="#f06464" />
<circle cx="300.43" cy="520.55" r="0.68" fill="#f28080" />
<circle cx="301.92" cy="520.40" r="0.68" fill="#f28080" />
<circle cx="303.31" cy="520.51" r="0.68" fill="#f06464" />
<circle cx="304.58" cy="520.66" r="0.68" fill="#e85050" />
<circle cx="305.76" cy="520.43" r="0.68" fill="#f49a9a" />
<circle cx="306.70" cy="520.47" r="0.68" fill="#f49a9a" />
<circle cx="307.97" cy="520.61" r="0.68" fill="#f28080" />
<circle cx="309.61" cy="520.30" r="0.68" fill="#f28080" />
<circle cx="310.50" cy="520.67" r="0.68" fill="#f28080" />
<circle cx="311.67" cy="520.37" r="0.68" fill="#f6b0b0" />
<circle cx="313.16" cy="520.66" r="0.68" fill="#f49a9a" />
<circle cx="314.14" cy="520.55" r="0.68" fill="#f6b0b0" />
<circle cx="315.73" cy="520.62" r="0.68" fill="#f49a9a" />
<circle cx="300.27" cy="521.39" r="0.68" fill="#f49a9a" />
<circle cx="301.46" cy="521.83" r="0.68" fill="#f49a9a" />
<circle cx="302.78" cy="521.81" r="0.68" fill="#f49a9a" />
<circle cx="304.49" cy="521.36" r="0.68" fill="#f49a9a" />
<circle cx="305.15" cy="521.79" r="0.68" fill="#e85050" />
<circle cx="306.31" cy="521.76" r="0.68" fill="#f6b0b0" />
<circle cx="307.91" cy="521.67" r="0.68" fill="#f28080" />
<circle cx="309.18" cy="521.60" r="0.68" fill="#f28080" />
<circle cx="310.81" cy="521.42" r="0.68" fill="#f49a9a" />
<circle cx="311.68" cy="521.47" r="0.68" fill="#f28080" />
<circle cx="314.81" cy="521.66" r="0.68" fill="#f28080" />
<circle cx="315.49" cy="521.57" r="0.68" fill="#f49a9a" />
<circle cx="299.78" cy="522.87" r="0.68" fill="#f49a9a" />
<circle cx="301.51" cy="522.93" r="0.68" fill="#f28080" />
<circle cx="303.12" cy="522.69" r="0.68" fill="#f6b0b0" />
<circle cx="304.33" cy="522.76" r="0.68" fill="#f06464" />
<circle cx="305.43" cy="522.94" r="0.68" fill="#e85050" />
<circle cx="306.95" cy="522.66" r="0.68" fill="#f6b0b0" />
<circle cx="307.96" cy="522.68" r="0.68" fill="#f6b0b0" />
<circle cx="309.02" cy="522.79" r="0.68" fill="#f28080" />
<circle cx="310.30" cy="522.85" r="0.68" fill="#f06464" />
<circle cx="311.76" cy="522.56" r="0.68" fill="#f06464" />
<circle cx="313.00" cy="522.50" r="0.68" fill="#e85050" />
<circle cx="314.24" cy="522.57" r="0.68" fill="#e85050" />
<circle cx="300.06" cy="523.57" r="0.68" fill="#f6b0b0" />
<circle cx="301.59" cy="523.81" r="0.68" fill="#f6b0b0" />
<circle cx="302.90" cy="523.80" r="0.68" fill="#f28080" />
<circle cx="303.98" cy="523.78" r="0.68" fill="#f06464" />
<circle cx="305.39" cy="523.72" r="0.68" fill="#e85050" />
<circle cx="306.97" cy="523.80" r="0.68" fill="#f28080" />
<circle cx="308.01" cy="523.63" r="0.68" fill="#f28080" />
<circle cx="309.09" cy="523.72" r="0.68" fill="#f28080" />
<circle cx="310.64" cy="523.95" r="0.68" fill="#f06464" />
<circle cx="312.10" cy="523.69" r="0.68" fill="#e85050" />
<circle cx="313.79" cy="523.90" r="0.68" fill="#f6b0b0" />
<circle cx="316.14" cy="523.65" r="0.68" fill="#f6b0b0" />
<circle cx="299.36" cy="524.66" r="0.68" fill="#f49a9a" />
<circle cx="301.16" cy="524.67" r="0.68" fill="#f28080" />
<circle cx="302.54" cy="524.67" r="0.68" fill="#f28080" />
<circle cx="303.94" cy="525.00" r="0.68" fill="#f28080" />
<circle cx="305.03" cy="524.99" r="0.68" fill="#e85050" />
<circle cx="306.20" cy="524.73" r="0.68" fill="#f49a9a" />
<circle cx="307.52" cy="525.10" r="0.68" fill="#f6b0b0" />
<circle cx="308.29" cy="524.98" r="0.68" fill="#f06464" />
<circle cx="309.87" cy="524.71" r="0.68" fill="#f49a9a" />
<circle cx="312.39" cy="525.01" r="0.68" fill="#f6b0b0" />
<circle cx="313.75" cy="524.75" r="0.68" fill="#f28080" />
<circle cx="315.15" cy="524.87" r="0.68" fill="#e85050" />
<circle cx="316.65" cy="524.96" r="0.68" fill="#f6b0b0" />
<circle cx="299.31" cy="525.85" r="0.68" fill="#e85050" />
<circle cx="301.14" cy="525.79" r="0.68" fill="#f49a9a" />
<circle cx="302.24" cy="525.86" r="0.68" fill="#f6b0b0" />
<circle cx="303.58" cy="525.81" r="0.68" fill="#f49a9a" />
<circle cx="305.05" cy="526.16" r="0.68" fill="#f06464" />
<circle cx="305.66" cy="525.85" r="0.68" fill="#f49a9a" />
<circle cx="307.00" cy="526.15" r="0.68" fill="#f49a9a" />
<circle cx="308.91" cy="525.99" r="0.68" fill="#f06464" />
<circle cx="309.77" cy="525.86" r="0.68" fill="#f28080" />
<circle cx="311.33" cy="525.78" r="0.68" fill="#f6b0b0" />
<circle cx="312.50" cy="525.79" r="0.68" fill="#e85050" />
<circle cx="314.09" cy="525.83" r="0.68" fill="#f49a9a" />
<circle cx="315.42" cy="525.86" r="0.68" fill="#f6b0b0" />
<circle cx="316.61" cy="526.05" r="0.68" fill="#e85050" />
<circle cx="299.42" cy="526.96" r="0.68" fill="#f06464" />
<circle cx="300.53" cy="527.32" r="0.68" fill="#e85050" />
<circle cx="302.31" cy="527.08" r="0.68" fill="#e85050" />
<circle cx="303.35" cy="526.96" r="0.68" fill="#f28080" />
<circle cx="304.34" cy="527.29" r="0.68" fill="#f6b0b0" />
<circle cx="306.37" cy="526.88" r="0.68" fill="#e85050" />
<circle cx="307.26" cy="526.90" r="0.68" fill="#f6b0b0" />
<circle cx="308.55" cy="527.10" r="0.68" fill="#f06464" />
<circle cx="310.15" cy="526.96" r="0.68" fill="#f06464" />
<circle cx="312.75" cy="526.97" r="0.68" fill="#f06464" />
<circle cx="314.05" cy="527.32" r="0.68" fill="#f06464" />
<circle cx="315.39" cy="527.19" r="0.68" fill="#f28080" />
<circle cx="316.55" cy="527.01" r="0.68" fill="#f49a9a" />
<circle cx="299.40" cy="528.13" r="0.68" fill="#f49a9a" />
<circle cx="300.89" cy="528.13" r="0.68" fill="#f6b0b0" />
<circle cx="302.29" cy="528.42" r="0.68" fill="#f49a9a" />
<circle cx="303.62" cy="528.20" r="0.68" fill="#f28080" />
<circle cx="304.32" cy="528.37" r="0.68" fill="#f06464" />
<circle cx="305.90" cy="528.22" r="0.68" fill="#f06464" />
<circle cx="307.63" cy="528.22" r="0.68" fill="#f6b0b0" />
<circle cx="308.88" cy="528.07" r="0.68" fill="#f28080" />
<circle cx="311.37" cy="528.36" r="0.68" fill="#f28080" />
<circle cx="312.46" cy="527.97" r="0.68" fill="#f28080" />
<circle cx="313.99" cy="528.06" r="0.68" fill="#f06464" />
<circle cx="315.59" cy="528.25" r="0.68" fill="#f06464" />
<circle cx="316.37" cy="528.00" r="0.68" fill="#e85050" />
<circle cx="299.10" cy="529.34" r="0.68" fill="#f28080" />
<circle cx="300.40" cy="529.31" r="0.68" fill="#e85050" />
<circle cx="302.01" cy="529.13" r="0.68" fill="#f28080" />
<circle cx="303.36" cy="529.54" r="0.68" fill="#f6b0b0" />
<circle cx="304.45" cy="529.52" r="0.68" fill="#f6b0b0" />
<circle cx="306.39" cy="529.37" r="0.68" fill="#f28080" />
<circle cx="307.34" cy="529.48" r="0.68" fill="#f28080" />
<circle cx="308.28" cy="529.54" r="0.68" fill="#e85050" />
<circle cx="310.03" cy="529.27" r="0.68" fill="#e85050" />
<circle cx="311.04" cy="529.44" r="0.68" fill="#f49a9a" />
<circle cx="312.81" cy="529.46" r="0.68" fill="#f6b0b0" />
<circle cx="314.20" cy="529.52" r="0.68" fill="#f06464" />
<circle cx="315.62" cy="529.33" r="0.68" fill="#f49a9a" />
<circle cx="316.36" cy="529.23" r="0.68" fill="#f6b0b0" />
<circle cx="299.43" cy="530.43" r="0.68" fill="#f6b0b0" />
<circle cx="300.50" cy="530.62" r="0.68" fill="#f49a9a" />
<circle cx="302.02" cy="530.60" r="0.68" fill="#e85050" />
<circle cx="303.09" cy="530.46" r="0.68" fill="#e85050" />
<circle cx="304.39" cy="530.57" r="0.68" fill="#e85050" />
<circle cx="306.12" cy="530.50" r="0.68" fill="#f49a9a" />
<circle cx="307.67" cy="530.23" r="0.68" fill="#f28080" />
<circle cx="308.79" cy="530.35" r="0.68" fill="#e85050" />
<circle cx="310.14" cy="530.24" r="0.68" fill="#f49a9a" />
<circle cx="311.62" cy="530.35" r="0.68" fill="#f49a9a" />
<circle cx="312.74" cy="530.35" r="0.68" fill="#f06464" />
<circle cx="313.68" cy="530.16" r="0.68" fill="#f49a9a" />
<circle cx="315.09" cy="530.35" r="0.68" fill="#f49a9a" />
<circle cx="316.77" cy="530.39" r="0.68" fill="#f6b0b0" />
<circle cx="299.81" cy="531.30" r="0.68" fill="#f06464" />
<circle cx="300.66" cy="531.32" r="0.68" fill="#f06464" />
<circle cx="301.71" cy="531.58" r="0.68" fill="#f6b0b0" />
<circle cx="303.79" cy="531.57" r="0.68" fill="#f6b0b0" />
<circle cx="304.48" cy="531.41" r="0.68" fill="#f49a9a" />
<circle cx="305.88" cy="531.53" r="0.68" fill="#e85050" />
<circle cx="307.32" cy="531.50" r="0.68" fill="#f6b0b0" />
<circle cx="308.55" cy="531.44" r="0.68" fill="#f28080" />
<circle cx="310.28" cy="531.57" r="0.68" fill="#f6b0b0" />
<circle cx="311.06" cy="531.37" r="0.68" fill="#f49a9a" />
<circle cx="312.66" cy="531.33" r="0.68" fill="#e85050" />
<circle cx="314.12" cy="531.57" r="0.68" fill="#f28080" />
<circle cx="315.39" cy="531.34" r="0.68" fill="#e85050" />
<circle cx="316.62" cy="531.32" r="0.68" fill="#f28080" />
<circle cx="299.89" cy="532.66" r="0.68" fill="#e85050" />
<circle cx="301.03" cy="532.44" r="0.68" fill="#e85050" />
<circle cx="303.31" cy="532.37" r="0.68" fill="#f49a9a" />
<circle cx="304.71" cy="532.83" r="0.68" fill="#f28080" />
<circle cx="305.75" cy="532.74" r="0.68" fill="#f06464" />
<circle cx="307.16" cy="532.62" r="0.68" fill="#f6b0b0" />
<circle cx="308.82" cy="532.81" r="0.68" fill="#f6b0b0" />
<circle cx="310.28" cy="532.56" r="0.68" fill="#f28080" />
<circle cx="311.02" cy="532.81" r="0.68" fill="#f06464" />
<circle cx="312.74" cy="532.38" r="0.68" fill="#f28080" />
<circle cx="314.17" cy="532.50" r="0.68" fill="#f06464" />
<circle cx="315.48" cy="532.81" r="0.68" fill="#f06464" />
<circle cx="316.37" cy="532.54" r="0.68" fill="#f06464" />
<circle cx="299.65" cy="533.94" r="0.68" fill="#f6b0b0" />
<circle cx="300.64" cy="533.66" r="0.68" fill="#f28080" />
<circle cx="302.07" cy="533.83" r="0.68" fill="#f49a9a" />
<circle cx="303.61" cy="533.88" r="0.68" fill="#f06464" />
<circle cx="304.50" cy="533.94" r="0.68" fill="#f49a9a" />
<circle cx="306.06" cy="533.48" r="0.68" fill="#f28080" />
<circle cx="307.73" cy="533.86" r="0.68" fill="#f28080" />
<circle cx="308.52" cy="533.53" r="0.68" fill="#f49a9a" />
<circle cx="310.15" cy="533.91" r="0.68" fill="#f28080" />
<circle cx="310.88" cy="533.74" r="0.68" fill="#f28080" />
<circle cx="312.74" cy="533.89" r="0.68" fill="#e85050" />
<circle cx="313.55" cy="533.47" r="0.68" fill="#f49a9a" />
<circle cx="315.01" cy="533.73" r="0.68" fill="#f28080" />
<circle cx="316.37" cy="533.88" r="0.68" fill="#f28080" />
<circle cx="300.03" cy="534.76" r="0.68" fill="#f28080" />
<circle cx="301.34" cy="534.90" r="0.68" fill="#f06464" />
<circle cx="302.26" cy="534.91" r="0.68" fill="#f28080" />
<circle cx="303.70" cy="534.89" r="0.68" fill="#f06464" />
<circle cx="305.32" cy="534.80" r="0.68" fill="#f28080" />
<circle cx="306.79" cy="534.78" r="0.68" fill="#f49a9a" />
<circle cx="307.79" cy="534.75" r="0.68" fill="#f6b0b0" />
<circle cx="309.05" cy="534.73" r="0.68" fill="#f28080" />
<circle cx="310.58" cy="534.62" r="0.68" fill="#f28080" />
<circle cx="312.40" cy="534.64" r="0.68" fill="#f28080" />
<circle cx="313.80" cy="534.93" r="0.68" fill="#e85050" />
<circle cx="314.37" cy="534.89" r="0.68" fill="#f06464" />
<circle cx="300.36" cy="535.81" r="0.68" fill="#f28080" />
<circle cx="301.17" cy="536.05" r="0.68" fill="#f6b0b0" />
<circle cx="302.53" cy="536.06" r="0.68" fill="#f49a9a" />
<circle cx="304.11" cy="536.08" r="0.68" fill="#e85050" />
<circle cx="305.59" cy="535.74" r="0.68" fill="#e85050" />
<circle cx="306.52" cy="535.91" r="0.68" fill="#f6b0b0" />
<circle cx="308.15" cy="535.93" r="0.68" fill="#f49a9a" />
<circle cx="309.66" cy="535.88" r="0.68" fill="#f06464" />
<circle cx="310.94" cy="535.92" r="0.68" fill="#f6b0b0" />
<circle cx="312.05" cy="535.76" r="0.68" fill="#f06464" />
<circle cx="313.44" cy="535.87" r="0.68" fill="#f6b0b0" />
<circle cx="314.88" cy="536.10" r="0.68" fill="#f28080" />
<circle cx="316.17" cy="535.88" r="0.68" fill="#f6b0b0" />
<circle cx="300.03" cy="536.84" r="0.68" fill="#f6b0b0" />
<circle cx="301.27" cy="537.20" r="0.68" fill="#f6b0b0" />
<circle cx="303.12" cy="536.83" r="0.68" fill="#e85050" />
<circle cx="304.41" cy="537.22" r="0.68" fill="#f6b0b0" />
<circle cx="305.84" cy="537.20" r="0.68" fill="#f6b0b0" />
<circle cx="306.55" cy="536.76" r="0.68" fill="#f6b0b0" />
<circle cx="308.37" cy="537.11" r="0.68" fill="#f06464" />
<circle cx="309.50" cy="536.91" r="0.68" fill="#f49a9a" />
<circle cx="310.73" cy="536.77" r="0.68" fill="#f49a9a" />
<circle cx="312.99" cy="536.97" r="0.68" fill="#f6b0b0" />
<circle cx="315.50" cy="536.86" r="0.68" fill="#e85050" />
<circle cx="300.74" cy="538.06" r="0.68" fill="#f49a9a" />
<circle cx="301.60" cy="538.23" r="0.68" fill="#f06464" />
<circle cx="303.22" cy="538.33" r="0.68" fill="#f6b0b0" />
<circle cx="305.75" cy="538.13" r="0.68" fill="#f6b0b0" />
<circle cx="307.31" cy="538.30" r="0.68" fill="#f6b0b0" />
<circle cx="308.82" cy="538.27" r="0.68" fill="#f06464" />
<circle cx="309.78" cy="538.27" r="0.68" fill="#f6b0b0" />
<circle cx="314.13" cy="538.30" r="0.68" fill="#f06464" />
<circle cx="315.32" cy="538.17" r="0.68" fill="#f28080" />
<circle cx="300.76" cy="539.39" r="0.68" fill="#f6b0b0" />
<circle cx="302.31" cy="538.97" r="0.68" fill="#f49a9a" />
<circle cx="303.12" cy="538.97" r="0.68" fill="#f28080" />
<circle cx="304.88" cy="539.40" r="0.68" fill="#f06464" />
<circle cx="305.78" cy="539.05" r="0.68" fill="#f28080" />
<circle cx="307.17" cy="539.39" r="0.68" fill="#f28080" />
<circle cx="308.76" cy="539.43" r="0.68" fill="#f06464" />
<circle cx="309.84" cy="539.06" r="0.68" fill="#e85050" />
<circle cx="311.09" cy="539.36" r="0.68" fill="#f6b0b0" />
<circle cx="312.41" cy="539.22" r="0.68" fill="#f49a9a" />
<circle cx="315.02" cy="539.19" r="0.68" fill="#f28080" />
<circle cx="301.19" cy="540.53" r="0.68" fill="#f6b0b0" />
<circle cx="302.29" cy="540.49" r="0.68" fill="#f06464" />
<circle cx="303.97" cy="540.35" r="0.68" fill="#f6b0b0" />
<circle cx="304.97" cy="540.09" r="0.68" fill="#f28080" />
<circle cx="306.10" cy="540.15" r="0.68" fill="#f49a9a" />
<circle cx="307.39" cy="540.52" r="0.68" fill="#f06464" />
<circle cx="308.50" cy="540.12" r="0.68" fill="#f6b0b0" />
<circle cx="309.69" cy="540.51" r="0.68" fill="#f06464" />
<circle cx="310.74" cy="540.08" r="0.68" fill="#e85050" />
<circle cx="312.74" cy="540.15" r="0.68" fill="#f06464" />
<circle cx="313.27" cy="540.11" r="0.68" fill="#f6b0b0" />
<circle cx="315.25" cy="540.31" r="0.68" fill="#f06464" />
<circle cx="301.67" cy="541.24" r="0.68" fill="#f28080" />
<circle cx="303.04" cy="541.51" r="0.68" fill="#f6b0b0" />
<circle cx="304.41" cy="541.21" r="0.68" fill="#f28080" />
<circle cx="305.60" cy="541.52" r="0.68" fill="#f06464" />
<circle cx="306.43" cy="541.61" r="0.68" fill="#f06464" />
<circle cx="308.32" cy="541.38" r="0.68" fill="#f06464" />
<circle cx="309.42" cy="541.57" r="0.68" fill="#f28080" />
<circle cx="310.87" cy="541.19" r="0.68" fill="#f49a9a" />
<circle cx="312.15" cy="541.21" r="0.68" fill="#f28080" />
<circle cx="312.89" cy="541.29" r="0.68" fill="#e85050" />
<circle cx="314.93" cy="541.46" r="0.68" fill="#f49a9a" />
<circle cx="301.73" cy="542.36" r="0.68" fill="#e85050" />
<circle cx="303.16" cy="542.58" r="0.68" fill="#f49a9a" />
<circle cx="305.58" cy="542.73" r="0.68" fill="#f28080" />
<circle cx="307.56" cy="542.57" r="0.68" fill="#f06464" />
<circle cx="308.91" cy="542.73" r="0.68" fill="#f49a9a" />
<circle cx="309.75" cy="542.62" r="0.68" fill="#e85050" />
<circle cx="311.82" cy="542.69" r="0.68" fill="#f28080" />
<circle cx="313.10" cy="542.31" r="0.68" fill="#f06464" />
<circle cx="313.99" cy="542.44" r="0.68" fill="#e85050" />
<circle cx="303.64" cy="543.37" r="0.68" fill="#f28080" />
<circle cx="304.41" cy="543.71" r="0.68" fill="#f6b0b0" />
<circle cx="306.28" cy="543.60" r="0.68" fill="#f49a9a" />
<circle cx="307.49" cy="543.85" r="0.68" fill="#f6b0b0" />
<circle cx="308.93" cy="543.49" r="0.68" fill="#f06464" />
<circle cx="310.04" cy="543.38" r="0.68" fill="#f28080" />
<circle cx="311.57" cy="543.59" r="0.68" fill="#f6b0b0" />
<circle cx="312.71" cy="543.73" r="0.68" fill="#f06464" />
<circle cx="313.43" cy="543.61" r="0.68" fill="#f6b0b0" />
<circle cx="302.34" cy="544.68" r="0.68" fill="#f6b0b0" />
<circle cx="304.19" cy="544.54" r="0.68" fill="#f6b0b0" />
<circle cx="305.64" cy="544.88" r="0.68" fill="#f6b0b0" />
<circle cx="306.39" cy="544.84" r="0.68" fill="#f6b0b0" />
<circle cx="308.20" cy="544.85" r="0.68" fill="#f49a9a" />
<circle cx="309.74" cy="544.76" r="0.68" fill="#f06464" />
<circle cx="310.77" cy="544.91" r="0.68" fill="#f49a9a" />
<circle cx="313.68" cy="544.75" r="0.68" fill="#f28080" />
<circle cx="304.35" cy="545.62" r="0.68" fill="#f06464" />
<circle cx="305.54" cy="545.71" r="0.68" fill="#f6b0b0" />
<circle cx="306.75" cy="545.97" r="0.68" fill="#f49a9a" />
<circle cx="307.87" cy="545.89" r="0.68" fill="#e85050" />
<circle cx="309.45" cy="545.83" r="0.68" fill="#f6b0b0" />
<circle cx="310.81" cy="545.92" r="0.68" fill="#f06464" />
<circle cx="311.73" cy="545.86" r="0.68" fill="#f6b0b0" />
<circle cx="312.89" cy="546.03" r="0.68" fill="#f49a9a" />
<circle cx="303.23" cy="546.95" r="0.68" fill="#f49a9a" />
<circle cx="304.64" cy="546.70" r="0.68" fill="#f6b0b0" />
<circle cx="306.00" cy="546.82" r="0.68" fill="#f06464" />
<circle cx="307.25" cy="546.74" r="0.68" fill="#f28080" />
<circle cx="308.43" cy="546.93" r="0.68" fill="#f6b0b0" />
<circle cx="309.69" cy="546.91" r="0.68" fill="#f6b0b0" />
<circle cx="311.46" cy="547.06" r="0.68" fill="#f06464" />
<circle cx="312.31" cy="546.91" r="0.68" fill="#f06464" />
<circle cx="304.21" cy="548.19" r="0.68" fill="#f6b0b0" />
<circle cx="305.48" cy="547.98" r="0.68" fill="#f49a9a" />
<circle cx="307.61" cy="547.99" r="0.68" fill="#f6b0b0" />
<circle cx="308.73" cy="548.07" r="0.68" fill="#f28080" />
<circle cx="310.27" cy="547.84" r="0.68" fill="#f49a9a" />
<circle cx="311.81" cy="548.23" r="0.68" fill="#f06464" />
<circle cx="305.23" cy="549.05" r="0.68" fill="#f28080" />
<circle cx="306.81" cy="549.10" r="0.68" fill="#f6b0b0" />
<circle cx="307.90" cy="548.98" r="0.68" fill="#f49a9a" />
<circle cx="310.64" cy="549.14" r="0.68" fill="#f49a9a" />
<circle cx="306.16" cy="549.96" r="0.68" fill="#f06464" />
<circle cx="307.08" cy="550.14" r="0.68" fill="#f28080" />
<circle cx="308.54" cy="550.43" r="0.68" fill="#e85050" />
<circle cx="310.41" cy="550.06" r="0.68" fill="#f28080" />
<circle cx="306.75" cy="551.28" r="0.68" fill="#e85050" />
<circle cx="308.17" cy="551.51" r="0.68" fill="#e85050" />
<circle cx="309.37" cy="551.46" r="0.68" fill="#f49a9a" />
<line x1="272.80" y1="539.30" x2="290.60" y2="539.30" stroke="#9a2060" stroke-width="1.3" />
<line x1="274.50" y1="543.00" x2="289.50" y2="543.00" stroke="#3a3ad8" stroke-width="1.0" />
<line x1="299.20" y1="530.10" x2="316.80" y2="530.10" stroke="#1a1a1a" stroke-width="1.3" />
<text transform="translate(256.50,566.91) rotate(-90) scale(0.8124,1)" font-size="11.5" fill="#1e1e1e" stroke="#1e1e1e" stroke-width="0.28">log2 PD-1 mRNA</text>
<text transform="translate(266.28,579.52) rotate(-45) scale(0.7184,1)" font-size="11.5" fill="#1e1e1e" stroke="#1e1e1e" stroke-width="0.28">Low</text>
<text transform="translate(272.83,590.97) rotate(-45) scale(0.7210,1)" font-size="11.5" fill="#1e1e1e" stroke="#1e1e1e" stroke-width="0.28">CD271</text>
<text transform="translate(301.88,580.32) rotate(-45) scale(0.7057,1)" font-size="11.5" fill="#1e1e1e" stroke="#1e1e1e" stroke-width="0.28">High</text>
<text transform="translate(308.33,592.67) rotate(-45) scale(0.7210,1)" font-size="11.5" fill="#1e1e1e" stroke="#1e1e1e" stroke-width="0.28">CD271</text>
<text transform="translate(262.56,605.30) scale(0.9345,1)" font-size="10.5" fill="#3a3ac8" stroke="#3a3ac8" stroke-width="0.28" >n=250;</text>
<text transform="translate(293.88,605.30) scale(0.9067,1)" font-size="10.5" fill="#d83030" stroke="#d83030" stroke-width="0.28" >n=250</text>
<text transform="translate(336.14,491.60) scale(1.0504,1)" font-size="12.5" fill="#1e1e1e" stroke="#1e1e1e" stroke-width="0.38" >G</text>
<text transform="translate(356.04,495.60) scale(0.8761,1)" font-size="10.8" fill="#1e1e1e" stroke="#1e1e1e" stroke-width="0.28" >M-MDSC</text>
<text transform="translate(419.21,495.80) scale(0.8565,1)" font-size="10.8" fill="#1e1e1e" stroke="#1e1e1e" stroke-width="0.28" >TAM</text>
<text transform="translate(449.80,495.80) scale(0.9181,1)" font-size="10.8" fill="#1e1e1e" stroke="#1e1e1e" stroke-width="0.28" >CD45<tspan font-size="7.34" dy="-5.40">-</tspan><tspan dy="5.40">EpCAM</tspan><tspan font-size="7.34" dy="-5.40">+</tspan></text>
<line x1="359.50" y1="507.30" x2="359.50" y2="551.50" stroke="#606060" stroke-width="0.9" />
<line x1="359.50" y1="551.50" x2="389.00" y2="551.50" stroke="#606060" stroke-width="0.9" />
<line x1="357.70" y1="507.30" x2="359.50" y2="507.30" stroke="#888" stroke-width="0.6" />
<rect x="354.90" y="506.80" width="2.20" height="1.00" fill="#bbb" />
<line x1="357.70" y1="518.30" x2="359.50" y2="518.30" stroke="#888" stroke-width="0.6" />
<rect x="354.90" y="517.80" width="2.20" height="1.00" fill="#bbb" />
<line x1="357.70" y1="529.40" x2="359.50" y2="529.40" stroke="#888" stroke-width="0.6" />
<rect x="354.90" y="528.90" width="2.20" height="1.00" fill="#bbb" />
<line x1="357.70" y1="540.70" x2="359.50" y2="540.70" stroke="#888" stroke-width="0.6" />
<rect x="354.90" y="540.20" width="2.20" height="1.00" fill="#bbb" />
<line x1="357.70" y1="551.60" x2="359.50" y2="551.60" stroke="#888" stroke-width="0.6" />
<rect x="354.90" y="551.10" width="2.20" height="1.00" fill="#bbb" />
<line x1="368.15" y1="546.10" x2="368.15" y2="543.60" stroke="#1111ee" stroke-width="0.9" />
<line x1="365.95" y1="543.60" x2="370.35" y2="543.60" stroke="#1111ee" stroke-width="0.9" />
<rect x="363.90" y="546.10" width="8.50" height="5.50" fill="#1111ee" />
<rect x="363.90" y="546.10" width="8.50" height="5.50" fill="none" stroke="#0a0a9a" stroke-width="0.6"/>
<line x1="380.95" y1="519.00" x2="380.95" y2="510.20" stroke="#ee1515" stroke-width="0.9" />
<line x1="378.75" y1="510.20" x2="383.15" y2="510.20" stroke="#ee1515" stroke-width="0.9" />
<rect x="376.90" y="519.00" width="8.10" height="32.60" fill="#ee1515" />
<rect x="376.90" y="519.00" width="8.10" height="32.60" fill="none" stroke="#a01010" stroke-width="0.6"/>
<path d="M368.2,542.0 L368.2,507.3 L381.5,507.3 L381.5,510.2" fill="none" stroke="#444" stroke-width="0.7" />
<text transform="translate(372.41,509.57) scale(1.0,1)" font-size="12.75" fill="#1e1e1e">*</text>
<text transform="translate(342.80,560.89) rotate(-90) scale(0.9196,1)" font-size="10.5" fill="#1e1e1e" stroke="#1e1e1e" stroke-width="0.28">TGF-β mRNA</text>
<text transform="translate(352.60,556.15) rotate(-90) scale(0.9226,1)" font-size="10.5" fill="#1e1e1e" stroke="#1e1e1e" stroke-width="0.28">fold change</text>
<text transform="translate(348.67,581.33) rotate(-45) scale(0.7669,1)" font-size="11.5" fill="#1e1e1e" stroke="#1e1e1e" stroke-width="0.28">Vehicle</text>
<text transform="translate(366.87,583.13) rotate(-45) scale(0.8252,1)" font-size="11.5" fill="#1e1e1e" stroke="#1e1e1e" stroke-width="0.28">Exo<tspan font-size="6.33" dy="-4.14">MSC</tspan></text>
<line x1="419.50" y1="507.30" x2="419.50" y2="552.50" stroke="#606060" stroke-width="0.9" />
<line x1="419.50" y1="552.50" x2="449.00" y2="552.50" stroke="#606060" stroke-width="0.9" />
<line x1="417.70" y1="507.30" x2="419.50" y2="507.30" stroke="#888" stroke-width="0.6" />
<rect x="414.90" y="506.80" width="2.20" height="1.00" fill="#bbb" />
<line x1="417.70" y1="522.20" x2="419.50" y2="522.20" stroke="#888" stroke-width="0.6" />
<rect x="414.90" y="521.70" width="2.20" height="1.00" fill="#bbb" />
<line x1="417.70" y1="537.20" x2="419.50" y2="537.20" stroke="#888" stroke-width="0.6" />
<rect x="414.90" y="536.70" width="2.20" height="1.00" fill="#bbb" />
<line x1="417.70" y1="552.20" x2="419.50" y2="552.20" stroke="#888" stroke-width="0.6" />
<rect x="414.90" y="551.70" width="2.20" height="1.00" fill="#bbb" />
<line x1="428.25" y1="543.60" x2="428.25" y2="540.10" stroke="#1111ee" stroke-width="0.9" />
<line x1="426.05" y1="540.10" x2="430.45" y2="540.10" stroke="#1111ee" stroke-width="0.9" />
<rect x="424.10" y="543.60" width="8.30" height="8.60" fill="#1111ee" />
<rect x="424.10" y="543.60" width="8.30" height="8.60" fill="none" stroke="#0a0a9a" stroke-width="0.6"/>
<line x1="441.25" y1="522.60" x2="441.25" y2="515.30" stroke="#ee1515" stroke-width="0.9" />
<line x1="439.05" y1="515.30" x2="443.45" y2="515.30" stroke="#ee1515" stroke-width="0.9" />
<rect x="437.20" y="522.60" width="8.10" height="29.60" fill="#ee1515" />
<rect x="437.20" y="522.60" width="8.10" height="29.60" fill="none" stroke="#a01010" stroke-width="0.6"/>
<path d="M428.2,538.8 L428.2,510.5 L441.5,510.5 L441.5,514.5" fill="none" stroke="#444" stroke-width="0.7" />
<text transform="translate(432.11,512.37) scale(1.0,1)" font-size="12.75" fill="#1e1e1e">*</text>
<text transform="translate(404.50,560.89) rotate(-90) scale(0.9196,1)" font-size="10.5" fill="#1e1e1e" stroke="#1e1e1e" stroke-width="0.28">TGF-β mRNA</text>
<text transform="translate(413.40,556.15) rotate(-90) scale(0.9226,1)" font-size="10.5" fill="#1e1e1e" stroke="#1e1e1e" stroke-width="0.28">fold change</text>
<text transform="translate(407.67,580.83) rotate(-45) scale(0.7669,1)" font-size="11.5" fill="#1e1e1e" stroke="#1e1e1e" stroke-width="0.28">Vehicle</text>
<text transform="translate(426.37,581.63) rotate(-45) scale(0.8252,1)" font-size="11.5" fill="#1e1e1e" stroke="#1e1e1e" stroke-width="0.28">Exo<tspan font-size="6.33" dy="-4.14">MSC</tspan></text>
<line x1="480.50" y1="507.80" x2="480.50" y2="551.50" stroke="#606060" stroke-width="0.9" />
<line x1="480.50" y1="551.50" x2="510.00" y2="551.50" stroke="#606060" stroke-width="0.9" />
<line x1="478.70" y1="508.40" x2="480.50" y2="508.40" stroke="#888" stroke-width="0.6" />
<rect x="475.90" y="507.90" width="2.20" height="1.00" fill="#bbb" />
<line x1="478.70" y1="516.94" x2="480.50" y2="516.94" stroke="#888" stroke-width="0.6" />
<rect x="475.90" y="516.44" width="2.20" height="1.00" fill="#bbb" />
<line x1="478.70" y1="525.48" x2="480.50" y2="525.48" stroke="#888" stroke-width="0.6" />
<rect x="475.90" y="524.98" width="2.20" height="1.00" fill="#bbb" />
<line x1="478.70" y1="534.02" x2="480.50" y2="534.02" stroke="#888" stroke-width="0.6" />
<rect x="475.90" y="533.52" width="2.20" height="1.00" fill="#bbb" />
<line x1="478.70" y1="542.56" x2="480.50" y2="542.56" stroke="#888" stroke-width="0.6" />
<rect x="475.90" y="542.06" width="2.20" height="1.00" fill="#bbb" />
<line x1="478.70" y1="551.10" x2="480.50" y2="551.10" stroke="#888" stroke-width="0.6" />
<rect x="475.90" y="550.60" width="2.20" height="1.00" fill="#bbb" />
<line x1="489.15" y1="523.80" x2="489.15" y2="512.10" stroke="#1111ee" stroke-width="0.9" />
<line x1="486.95" y1="512.10" x2="491.35" y2="512.10" stroke="#1111ee" stroke-width="0.9" />
<rect x="485.00" y="523.80" width="8.30" height="27.60" fill="#1111ee" />
<rect x="485.00" y="523.80" width="8.30" height="27.60" fill="none" stroke="#0a0a9a" stroke-width="0.6"/>
<line x1="501.90" y1="533.20" x2="501.90" y2="526.20" stroke="#ee1515" stroke-width="0.9" />
<line x1="499.70" y1="526.20" x2="504.10" y2="526.20" stroke="#ee1515" stroke-width="0.9" />
<rect x="498.00" y="533.20" width="7.80" height="18.20" fill="#ee1515" />
<rect x="498.00" y="533.20" width="7.80" height="18.20" fill="none" stroke="#a01010" stroke-width="0.6"/>
<path d="M489.0,512.1 L489.0,508.4 L501.8,508.4 L501.8,526.2" fill="none" stroke="#444" stroke-width="0.7" />
<text transform="translate(490.86,506.20) scale(0.8995,1)" font-size="7.5" fill="#1e1e1e" stroke="#1e1e1e" stroke-width="0.28" >NS</text>
<text transform="translate(462.00,559.19) rotate(-90) scale(0.8994,1)" font-size="10.5" fill="#1e1e1e" stroke="#1e1e1e" stroke-width="0.28">TGF-β mRNA</text>
<text transform="translate(471.20,554.54) rotate(-90) scale(0.8704,1)" font-size="10.5" fill="#1e1e1e" stroke="#1e1e1e" stroke-width="0.28">fold change</text>
<text transform="translate(471.17,580.83) rotate(-45) scale(0.7669,1)" font-size="11.5" fill="#1e1e1e" stroke="#1e1e1e" stroke-width="0.28">Vehicle</text>
<text transform="translate(491.37,581.63) rotate(-45) scale(0.8252,1)" font-size="11.5" fill="#1e1e1e" stroke="#1e1e1e" stroke-width="0.28">Exo<tspan font-size="6.33" dy="-4.14">MSC</tspan></text></svg></body></html>
